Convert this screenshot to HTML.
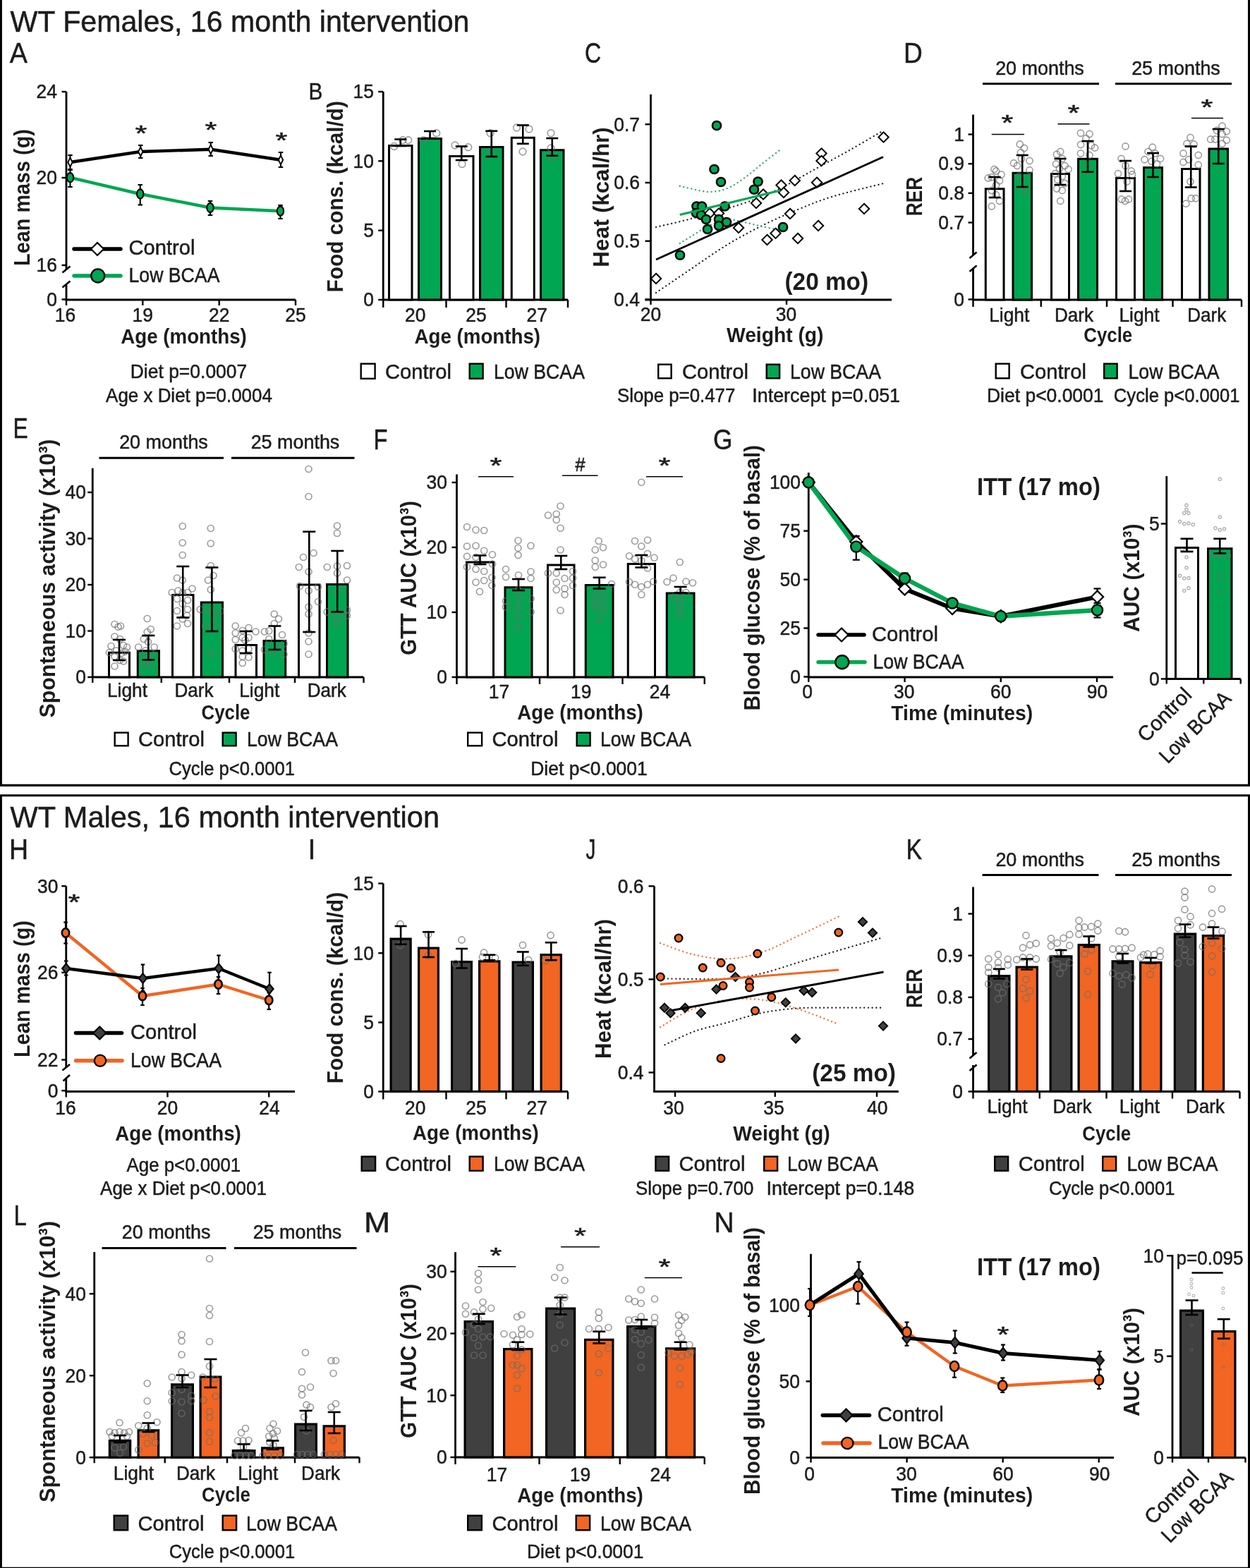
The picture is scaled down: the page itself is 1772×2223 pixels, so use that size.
<!DOCTYPE html>
<html><head><meta charset="utf-8"><title>WT Females and Males, 16 month intervention</title>
<style>
html,body{margin:0;padding:0;background:#fff;}
svg{display:block;}
text{font-family:"Liberation Sans",Arial,sans-serif;}
</style></head>
<body>
<svg width="1772" height="2223" viewBox="0 0 1772 2223">
<rect x="0" y="0" width="1772" height="2223" fill="#fff"/>
<line x1="1.45" y1="0" x2="1.45" y2="1115" stroke="#000" stroke-width="2.9" stroke-linecap="butt"/>
<line x1="1770.5" y1="0" x2="1770.5" y2="1115" stroke="#000" stroke-width="3" stroke-linecap="butt"/>
<line x1="0" y1="1113.4" x2="1772" y2="1113.4" stroke="#000" stroke-width="3.1" stroke-linecap="butt"/>
<line x1="0" y1="1127.8" x2="1772" y2="1127.8" stroke="#000" stroke-width="3.1" stroke-linecap="butt"/>
<line x1="1.45" y1="1127" x2="1.45" y2="2223" stroke="#000" stroke-width="2.9" stroke-linecap="butt"/>
<line x1="1770.5" y1="1127" x2="1770.5" y2="2223" stroke="#000" stroke-width="3" stroke-linecap="butt"/>
<line x1="0" y1="2223.2" x2="1772" y2="2223.2" stroke="#000" stroke-width="3" stroke-linecap="butt"/>
<text x="14.5" y="44.5" font-size="42.54" stroke="#1c1c1c" stroke-width="0.5" text-anchor="start" textLength="651" lengthAdjust="spacingAndGlyphs" fill="#1c1c1c">WT Females, 16 month intervention</text>
<text x="14.5" y="1172.5" font-size="42.54" stroke="#1c1c1c" stroke-width="0.5" text-anchor="start" textLength="608.5" lengthAdjust="spacingAndGlyphs" fill="#1c1c1c">WT Males, 16 month intervention</text>
<text x="13.8" y="88.5" font-size="40.59" stroke="#1c1c1c" stroke-width="0.5" text-anchor="start" textLength="25.17" lengthAdjust="spacingAndGlyphs" fill="#1c1c1c">A</text>
<text x="829" y="88.8" font-size="40.59" stroke="#1c1c1c" stroke-width="0.5" text-anchor="start" textLength="23.19" lengthAdjust="spacingAndGlyphs" fill="#1c1c1c">C</text>
<text x="1281" y="88.7" font-size="40.59" stroke="#1c1c1c" stroke-width="0.5" text-anchor="start" textLength="26.76" lengthAdjust="spacingAndGlyphs" fill="#1c1c1c">D</text>
<text x="18.5" y="620.8" font-size="40.59" stroke="#1c1c1c" stroke-width="0.5" text-anchor="start" textLength="21.24" lengthAdjust="spacingAndGlyphs" fill="#1c1c1c">E</text>
<text x="529.5" y="636.8" font-size="40.59" stroke="#1c1c1c" stroke-width="0.5" text-anchor="start" textLength="19.99" lengthAdjust="spacingAndGlyphs" fill="#1c1c1c">F</text>
<text x="1011" y="636.8" font-size="40.59" stroke="#1c1c1c" stroke-width="0.5" text-anchor="start" textLength="27.44" lengthAdjust="spacingAndGlyphs" fill="#1c1c1c">G</text>
<text x="13" y="1218.2" font-size="40.59" stroke="#1c1c1c" stroke-width="0.5" text-anchor="start" textLength="27.1" lengthAdjust="spacingAndGlyphs" fill="#1c1c1c">H</text>
<text x="436.5" y="1218.2" font-size="40.59" stroke="#1c1c1c" stroke-width="0.5" text-anchor="start" textLength="10.96" lengthAdjust="spacingAndGlyphs" fill="#1c1c1c">I</text>
<text x="830.5" y="1218.2" font-size="40.59" stroke="#1c1c1c" stroke-width="0.5" text-anchor="start" textLength="13.87" lengthAdjust="spacingAndGlyphs" fill="#1c1c1c">J</text>
<text x="1284.5" y="1218.2" font-size="40.59" stroke="#1c1c1c" stroke-width="0.5" text-anchor="start" textLength="22.6" lengthAdjust="spacingAndGlyphs" fill="#1c1c1c">K</text>
<text x="19.5" y="1736.8" font-size="40.59" stroke="#1c1c1c" stroke-width="0.5" text-anchor="start" textLength="18.29" lengthAdjust="spacingAndGlyphs" fill="#1c1c1c">L</text>
<text x="516" y="1746.8" font-size="40.59" stroke="#1c1c1c" stroke-width="0.5" text-anchor="start" textLength="37.19" lengthAdjust="spacingAndGlyphs" fill="#1c1c1c">M</text>
<text x="1012.5" y="1746.8" font-size="40.59" stroke="#1c1c1c" stroke-width="0.5" text-anchor="start" textLength="28.08" lengthAdjust="spacingAndGlyphs" fill="#1c1c1c">N</text>
<text x="437.5" y="141" font-size="34.05" stroke="#1c1c1c" stroke-width="0.5" text-anchor="start" textLength="19.86" lengthAdjust="spacingAndGlyphs" fill="#1c1c1c">B</text>
<line x1="94" y1="130" x2="94" y2="382" stroke="#000" stroke-width="2.8" stroke-linecap="butt"/>
<line x1="94" y1="404" x2="94" y2="425" stroke="#000" stroke-width="2.8" stroke-linecap="butt"/>
<line x1="87.5" y1="130" x2="94" y2="130" stroke="#000" stroke-width="2.4" stroke-linecap="butt"/>
<text x="81" y="139.3" font-size="27.06" stroke="#1c1c1c" stroke-width="0.5" text-anchor="end" textLength="29.4" lengthAdjust="spacingAndGlyphs" fill="#1c1c1c">24</text>
<line x1="87.5" y1="252" x2="94" y2="252" stroke="#000" stroke-width="2.4" stroke-linecap="butt"/>
<text x="81" y="261.3" font-size="27.06" stroke="#1c1c1c" stroke-width="0.5" text-anchor="end" textLength="29.4" lengthAdjust="spacingAndGlyphs" fill="#1c1c1c">20</text>
<line x1="87.5" y1="376" x2="94" y2="376" stroke="#000" stroke-width="2.4" stroke-linecap="butt"/>
<text x="81" y="385.3" font-size="27.06" stroke="#1c1c1c" stroke-width="0.5" text-anchor="end" textLength="29.4" lengthAdjust="spacingAndGlyphs" fill="#1c1c1c">16</text>
<line x1="87.5" y1="424.5" x2="94" y2="424.5" stroke="#000" stroke-width="2.4" stroke-linecap="butt"/>
<text x="81" y="433.8" font-size="27.06" stroke="#1c1c1c" stroke-width="0.5" text-anchor="end" textLength="14.7" lengthAdjust="spacingAndGlyphs" fill="#1c1c1c">0</text>
<line x1="88.5" y1="386.5" x2="99.5" y2="377.5" stroke="#000" stroke-width="2.6" stroke-linecap="butt"/>
<line x1="88.5" y1="407.5" x2="99.5" y2="398.5" stroke="#000" stroke-width="2.6" stroke-linecap="butt"/>
<line x1="92.6" y1="425" x2="419" y2="425" stroke="#000" stroke-width="2.8" stroke-linecap="butt"/>
<line x1="94" y1="425" x2="94" y2="433" stroke="#000" stroke-width="2.4" stroke-linecap="butt"/>
<line x1="202.3" y1="425" x2="202.3" y2="433" stroke="#000" stroke-width="2.4" stroke-linecap="butt"/>
<line x1="310.7" y1="425" x2="310.7" y2="433" stroke="#000" stroke-width="2.4" stroke-linecap="butt"/>
<line x1="419" y1="425" x2="419" y2="433" stroke="#000" stroke-width="2.4" stroke-linecap="butt"/>
<text x="92.5" y="455.8" font-size="27.06" stroke="#1c1c1c" stroke-width="0.5" text-anchor="middle" textLength="29.4" lengthAdjust="spacingAndGlyphs" fill="#1c1c1c">16</text>
<text x="202.3" y="455.8" font-size="27.06" stroke="#1c1c1c" stroke-width="0.5" text-anchor="middle" textLength="29.4" lengthAdjust="spacingAndGlyphs" fill="#1c1c1c">19</text>
<text x="310.7" y="455.8" font-size="27.06" stroke="#1c1c1c" stroke-width="0.5" text-anchor="middle" textLength="29.4" lengthAdjust="spacingAndGlyphs" fill="#1c1c1c">22</text>
<text x="419" y="455.8" font-size="27.06" stroke="#1c1c1c" stroke-width="0.5" text-anchor="middle" textLength="29.4" lengthAdjust="spacingAndGlyphs" fill="#1c1c1c">25</text>
<text x="260.5" y="486.5" font-size="29.86" font-weight="bold" text-anchor="middle" textLength="178.65" lengthAdjust="spacingAndGlyphs" fill="#1c1c1c">Age (months)</text>
<text x="267.5" y="536.2" font-size="27.06" stroke="#1c1c1c" stroke-width="0.5" text-anchor="middle" textLength="165.54" lengthAdjust="spacingAndGlyphs" fill="#1c1c1c">Diet p=0.0007</text>
<text x="268" y="570" font-size="27.06" stroke="#1c1c1c" stroke-width="0.5" text-anchor="middle" textLength="235.83" lengthAdjust="spacingAndGlyphs" fill="#1c1c1c">Age x Diet p=0.0004</text>
<text transform="translate(41.5,280) rotate(-90)" x="0" y="0" font-size="32.19" font-weight="bold" text-anchor="middle" textLength="193.75" lengthAdjust="spacingAndGlyphs" fill="#1c1c1c">Lean mass (g)</text>
<line x1="99.5" y1="220" x2="99.5" y2="241" stroke="#000" stroke-width="2.1" stroke-linecap="butt"/>
<line x1="96.25" y1="220" x2="102.75" y2="220" stroke="#000" stroke-width="2.1" stroke-linecap="butt"/>
<line x1="96.25" y1="241" x2="102.75" y2="241" stroke="#000" stroke-width="2.1" stroke-linecap="butt"/>
<line x1="199.25" y1="206" x2="199.25" y2="224" stroke="#000" stroke-width="2.1" stroke-linecap="butt"/>
<line x1="196" y1="206" x2="202.5" y2="206" stroke="#000" stroke-width="2.1" stroke-linecap="butt"/>
<line x1="196" y1="224" x2="202.5" y2="224" stroke="#000" stroke-width="2.1" stroke-linecap="butt"/>
<line x1="298.75" y1="202" x2="298.75" y2="221" stroke="#000" stroke-width="2.1" stroke-linecap="butt"/>
<line x1="295.5" y1="202" x2="302" y2="202" stroke="#000" stroke-width="2.1" stroke-linecap="butt"/>
<line x1="295.5" y1="221" x2="302" y2="221" stroke="#000" stroke-width="2.1" stroke-linecap="butt"/>
<line x1="398" y1="216" x2="398" y2="237" stroke="#000" stroke-width="2.1" stroke-linecap="butt"/>
<line x1="394.75" y1="216" x2="401.25" y2="216" stroke="#000" stroke-width="2.1" stroke-linecap="butt"/>
<line x1="394.75" y1="237" x2="401.25" y2="237" stroke="#000" stroke-width="2.1" stroke-linecap="butt"/>
<line x1="99.5" y1="240" x2="99.5" y2="265" stroke="#000" stroke-width="2.1" stroke-linecap="butt"/>
<line x1="96.25" y1="240" x2="102.75" y2="240" stroke="#000" stroke-width="2.1" stroke-linecap="butt"/>
<line x1="96.25" y1="265" x2="102.75" y2="265" stroke="#000" stroke-width="2.1" stroke-linecap="butt"/>
<line x1="198.75" y1="262" x2="198.75" y2="290.5" stroke="#000" stroke-width="2.1" stroke-linecap="butt"/>
<line x1="195.5" y1="262" x2="202" y2="262" stroke="#000" stroke-width="2.1" stroke-linecap="butt"/>
<line x1="195.5" y1="290.5" x2="202" y2="290.5" stroke="#000" stroke-width="2.1" stroke-linecap="butt"/>
<line x1="298" y1="285" x2="298" y2="305" stroke="#000" stroke-width="2.1" stroke-linecap="butt"/>
<line x1="294.75" y1="285" x2="301.25" y2="285" stroke="#000" stroke-width="2.1" stroke-linecap="butt"/>
<line x1="294.75" y1="305" x2="301.25" y2="305" stroke="#000" stroke-width="2.1" stroke-linecap="butt"/>
<line x1="397.5" y1="291" x2="397.5" y2="310" stroke="#000" stroke-width="2.1" stroke-linecap="butt"/>
<line x1="394.25" y1="291" x2="400.75" y2="291" stroke="#000" stroke-width="2.1" stroke-linecap="butt"/>
<line x1="394.25" y1="310" x2="400.75" y2="310" stroke="#000" stroke-width="2.1" stroke-linecap="butt"/>
<path d="M99.5,251.75 L198.75,275 L298,294.5 L397.5,299.25" fill="none" stroke="#00a651" stroke-width="4.4" stroke-linecap="butt" stroke-linejoin="round"/>
<path d="M99.5,230 L199.25,215 L298.75,211.75 L398,226.75" fill="none" stroke="#000" stroke-width="4.4" stroke-linecap="butt" stroke-linejoin="round"/>
<path d="M99.5,223.6 L102.7,230 L99.5,236.4 L96.3,230 Z" fill="#fff" stroke="#000" stroke-width="1.9" stroke-linejoin="miter"/>
<path d="M199.25,208.6 L202.45,215 L199.25,221.4 L196.05,215 Z" fill="#fff" stroke="#000" stroke-width="1.9" stroke-linejoin="miter"/>
<path d="M298.75,205.35 L301.95,211.75 L298.75,218.15 L295.55,211.75 Z" fill="#fff" stroke="#000" stroke-width="1.9" stroke-linejoin="miter"/>
<path d="M398,220.35 L401.2,226.75 L398,233.15 L394.8,226.75 Z" fill="#fff" stroke="#000" stroke-width="1.9" stroke-linejoin="miter"/>
<ellipse cx="99.5" cy="251.75" rx="4.7" ry="6.6" fill="#00a651" stroke="#000" stroke-width="2.1"/>
<ellipse cx="198.75" cy="275" rx="4.7" ry="6.6" fill="#00a651" stroke="#000" stroke-width="2.1"/>
<ellipse cx="298" cy="294.5" rx="4.7" ry="6.6" fill="#00a651" stroke="#000" stroke-width="2.1"/>
<ellipse cx="397.5" cy="299.25" rx="4.7" ry="6.6" fill="#00a651" stroke="#000" stroke-width="2.1"/>
<text x="200" y="200.26" font-size="31.72" stroke="#1c1c1c" stroke-width="0.5" text-anchor="middle" textLength="16.93" lengthAdjust="spacingAndGlyphs" fill="#1c1c1c">*</text>
<text x="299" y="195.26" font-size="31.72" stroke="#1c1c1c" stroke-width="0.5" text-anchor="middle" textLength="16.93" lengthAdjust="spacingAndGlyphs" fill="#1c1c1c">*</text>
<text x="399" y="209.76" font-size="31.72" stroke="#1c1c1c" stroke-width="0.5" text-anchor="middle" textLength="16.93" lengthAdjust="spacingAndGlyphs" fill="#1c1c1c">*</text>
<line x1="105" y1="353" x2="171" y2="353" stroke="#000" stroke-width="5.5" stroke-linecap="round"/>
<path d="M138,344 L147,353 L138,362 L129,353 Z" fill="#fff" stroke="#000" stroke-width="2.2" stroke-linejoin="miter"/>
<text x="182.5" y="361.3" font-size="29.2" stroke="#1c1c1c" stroke-width="0.5" text-anchor="start" textLength="93.93" lengthAdjust="spacingAndGlyphs" fill="#1c1c1c">Control</text>
<line x1="105" y1="391" x2="171" y2="391" stroke="#00a651" stroke-width="5.5" stroke-linecap="round"/>
<circle cx="138.75" cy="391" r="9.5" fill="#00a651" stroke="#000" stroke-width="2.3"/>
<text x="182.5" y="400" font-size="29.2" stroke="#1c1c1c" stroke-width="0.5" text-anchor="start" textLength="128.93" lengthAdjust="spacingAndGlyphs" fill="#1c1c1c">Low BCAA</text>
<line x1="543.25" y1="130" x2="543.25" y2="425" stroke="#000" stroke-width="2.8" stroke-linecap="butt"/>
<line x1="536.25" y1="130" x2="543.25" y2="130" stroke="#000" stroke-width="2.4" stroke-linecap="butt"/>
<text x="530" y="139.3" font-size="27.06" stroke="#1c1c1c" stroke-width="0.5" text-anchor="end" textLength="29.4" lengthAdjust="spacingAndGlyphs" fill="#1c1c1c">15</text>
<line x1="536.25" y1="228.3" x2="543.25" y2="228.3" stroke="#000" stroke-width="2.4" stroke-linecap="butt"/>
<text x="530" y="237.6" font-size="27.06" stroke="#1c1c1c" stroke-width="0.5" text-anchor="end" textLength="29.4" lengthAdjust="spacingAndGlyphs" fill="#1c1c1c">10</text>
<line x1="536.25" y1="326.7" x2="543.25" y2="326.7" stroke="#000" stroke-width="2.4" stroke-linecap="butt"/>
<text x="530" y="336" font-size="27.06" stroke="#1c1c1c" stroke-width="0.5" text-anchor="end" textLength="14.7" lengthAdjust="spacingAndGlyphs" fill="#1c1c1c">5</text>
<line x1="536.25" y1="425" x2="543.25" y2="425" stroke="#000" stroke-width="2.4" stroke-linecap="butt"/>
<text x="530" y="434.3" font-size="27.06" stroke="#1c1c1c" stroke-width="0.5" text-anchor="end" textLength="14.7" lengthAdjust="spacingAndGlyphs" fill="#1c1c1c">0</text>
<line x1="541.85" y1="425" x2="805" y2="425" stroke="#000" stroke-width="2.8" stroke-linecap="butt"/>
<line x1="543.25" y1="425" x2="543.25" y2="436" stroke="#000" stroke-width="2.4" stroke-linecap="butt"/>
<line x1="632.5" y1="425" x2="632.5" y2="436" stroke="#000" stroke-width="2.4" stroke-linecap="butt"/>
<line x1="717.5" y1="425" x2="717.5" y2="436" stroke="#000" stroke-width="2.4" stroke-linecap="butt"/>
<line x1="805" y1="425" x2="805" y2="436" stroke="#000" stroke-width="2.4" stroke-linecap="butt"/>
<text x="588.75" y="455.8" font-size="27.06" stroke="#1c1c1c" stroke-width="0.5" text-anchor="middle" textLength="29.4" lengthAdjust="spacingAndGlyphs" fill="#1c1c1c">20</text>
<text x="675" y="455.8" font-size="27.06" stroke="#1c1c1c" stroke-width="0.5" text-anchor="middle" textLength="29.4" lengthAdjust="spacingAndGlyphs" fill="#1c1c1c">25</text>
<text x="761.25" y="455.8" font-size="27.06" stroke="#1c1c1c" stroke-width="0.5" text-anchor="middle" textLength="29.4" lengthAdjust="spacingAndGlyphs" fill="#1c1c1c">27</text>
<text x="676.75" y="486.8" font-size="29.86" font-weight="bold" text-anchor="middle" textLength="178.65" lengthAdjust="spacingAndGlyphs" fill="#1c1c1c">Age (months)</text>
<text transform="translate(486,278.75) rotate(-90)" x="0" y="0" font-size="32.19" font-weight="bold" text-anchor="middle" textLength="271.31" lengthAdjust="spacingAndGlyphs" fill="#1c1c1c">Food cons. (kcal/d)</text>
<rect x="551.5" y="206.5" width="32.5" height="218.5" fill="#fff" stroke="#000" stroke-width="3"/>
<circle cx="558.75" cy="207.5" r="4.8" fill="none" stroke="#6e6e6e" stroke-width="1.7" stroke-opacity="0.68"/>
<circle cx="571" cy="198.75" r="4.8" fill="none" stroke="#6e6e6e" stroke-width="1.7" stroke-opacity="0.68"/>
<circle cx="578.75" cy="198.75" r="4.8" fill="none" stroke="#6e6e6e" stroke-width="1.7" stroke-opacity="0.68"/>
<line x1="567.75" y1="197.5" x2="567.75" y2="207" stroke="#000" stroke-width="2.6" stroke-linecap="butt"/>
<line x1="559.25" y1="197.5" x2="576.25" y2="197.5" stroke="#000" stroke-width="2.6" stroke-linecap="butt"/>
<line x1="559.25" y1="207" x2="576.25" y2="207" stroke="#000" stroke-width="2.6" stroke-linecap="butt"/>
<rect x="593.5" y="196.5" width="32" height="228.5" fill="#00a651" stroke="#000" stroke-width="3"/>
<circle cx="600" cy="198.75" r="4.8" fill="none" stroke="#6e6e6e" stroke-width="1.7" stroke-opacity="0.68"/>
<circle cx="618.75" cy="188.75" r="4.8" fill="none" stroke="#6e6e6e" stroke-width="1.7" stroke-opacity="0.68"/>
<line x1="609.5" y1="186" x2="609.5" y2="196" stroke="#000" stroke-width="2.6" stroke-linecap="butt"/>
<line x1="601" y1="186" x2="618" y2="186" stroke="#000" stroke-width="2.6" stroke-linecap="butt"/>
<line x1="601" y1="196" x2="618" y2="196" stroke="#000" stroke-width="2.6" stroke-linecap="butt"/>
<rect x="637.5" y="221.5" width="33.5" height="203.5" fill="#fff" stroke="#000" stroke-width="3"/>
<circle cx="645" cy="206" r="4.8" fill="none" stroke="#6e6e6e" stroke-width="1.7" stroke-opacity="0.68"/>
<circle cx="663.75" cy="208.75" r="4.8" fill="none" stroke="#6e6e6e" stroke-width="1.7" stroke-opacity="0.68"/>
<circle cx="655" cy="232.5" r="4.8" fill="none" stroke="#6e6e6e" stroke-width="1.7" stroke-opacity="0.68"/>
<line x1="654.25" y1="207.5" x2="654.25" y2="227" stroke="#000" stroke-width="2.6" stroke-linecap="butt"/>
<line x1="645.75" y1="207.5" x2="662.75" y2="207.5" stroke="#000" stroke-width="2.6" stroke-linecap="butt"/>
<line x1="645.75" y1="227" x2="662.75" y2="227" stroke="#000" stroke-width="2.6" stroke-linecap="butt"/>
<rect x="680.5" y="208.5" width="32.5" height="216.5" fill="#00a651" stroke="#000" stroke-width="3"/>
<circle cx="695" cy="188.75" r="4.8" fill="none" stroke="#6e6e6e" stroke-width="1.7" stroke-opacity="0.68"/>
<circle cx="695" cy="217.5" r="4.8" fill="none" stroke="#6e6e6e" stroke-width="1.7" stroke-opacity="0.68"/>
<line x1="696.75" y1="185.75" x2="696.75" y2="222" stroke="#000" stroke-width="2.6" stroke-linecap="butt"/>
<line x1="688.25" y1="185.75" x2="705.25" y2="185.75" stroke="#000" stroke-width="2.6" stroke-linecap="butt"/>
<line x1="688.25" y1="222" x2="705.25" y2="222" stroke="#000" stroke-width="2.6" stroke-linecap="butt"/>
<rect x="725.25" y="195.25" width="32" height="229.75" fill="#fff" stroke="#000" stroke-width="3"/>
<circle cx="732.5" cy="181" r="4.8" fill="none" stroke="#6e6e6e" stroke-width="1.7" stroke-opacity="0.68"/>
<circle cx="750" cy="183" r="4.8" fill="none" stroke="#6e6e6e" stroke-width="1.7" stroke-opacity="0.68"/>
<circle cx="741" cy="215" r="4.8" fill="none" stroke="#6e6e6e" stroke-width="1.7" stroke-opacity="0.68"/>
<line x1="741.25" y1="177.5" x2="741.25" y2="203.75" stroke="#000" stroke-width="2.6" stroke-linecap="butt"/>
<line x1="732.75" y1="177.5" x2="749.75" y2="177.5" stroke="#000" stroke-width="2.6" stroke-linecap="butt"/>
<line x1="732.75" y1="203.75" x2="749.75" y2="203.75" stroke="#000" stroke-width="2.6" stroke-linecap="butt"/>
<rect x="766.5" y="212.75" width="32.5" height="212.25" fill="#00a651" stroke="#000" stroke-width="3"/>
<circle cx="781" cy="188.75" r="4.8" fill="none" stroke="#6e6e6e" stroke-width="1.7" stroke-opacity="0.68"/>
<circle cx="781" cy="210" r="4.8" fill="none" stroke="#6e6e6e" stroke-width="1.7" stroke-opacity="0.68"/>
<circle cx="781" cy="223.75" r="4.8" fill="none" stroke="#6e6e6e" stroke-width="1.7" stroke-opacity="0.68"/>
<line x1="782.75" y1="196" x2="782.75" y2="220.75" stroke="#000" stroke-width="2.6" stroke-linecap="butt"/>
<line x1="774.25" y1="196" x2="791.25" y2="196" stroke="#000" stroke-width="2.6" stroke-linecap="butt"/>
<line x1="774.25" y1="220.75" x2="791.25" y2="220.75" stroke="#000" stroke-width="2.6" stroke-linecap="butt"/>
<rect x="511.7" y="515.7" width="19.9" height="21.1" fill="#fff" stroke="#000" stroke-width="2.4"/>
<text x="546" y="536.5" font-size="29.2" stroke="#1c1c1c" stroke-width="0.5" text-anchor="start" textLength="93.93" lengthAdjust="spacingAndGlyphs" fill="#1c1c1c">Control</text>
<rect x="665.7" y="515.7" width="18.9" height="21.1" fill="#00a651" stroke="#000" stroke-width="2.4"/>
<text x="700" y="536.5" font-size="29.2" stroke="#1c1c1c" stroke-width="0.5" text-anchor="start" textLength="128.93" lengthAdjust="spacingAndGlyphs" fill="#1c1c1c">Low BCAA</text>
<line x1="922.5" y1="133.75" x2="922.5" y2="425" stroke="#000" stroke-width="2.8" stroke-linecap="butt"/>
<line x1="914.5" y1="176.25" x2="922.5" y2="176.25" stroke="#000" stroke-width="2.4" stroke-linecap="butt"/>
<text x="907" y="185.55" font-size="27.06" stroke="#1c1c1c" stroke-width="0.5" text-anchor="end" textLength="36.72" lengthAdjust="spacingAndGlyphs" fill="#1c1c1c">0.7</text>
<line x1="914.5" y1="259" x2="922.5" y2="259" stroke="#000" stroke-width="2.4" stroke-linecap="butt"/>
<text x="907" y="268.3" font-size="27.06" stroke="#1c1c1c" stroke-width="0.5" text-anchor="end" textLength="36.72" lengthAdjust="spacingAndGlyphs" fill="#1c1c1c">0.6</text>
<line x1="914.5" y1="341.75" x2="922.5" y2="341.75" stroke="#000" stroke-width="2.4" stroke-linecap="butt"/>
<text x="907" y="351.05" font-size="27.06" stroke="#1c1c1c" stroke-width="0.5" text-anchor="end" textLength="36.72" lengthAdjust="spacingAndGlyphs" fill="#1c1c1c">0.5</text>
<line x1="914.5" y1="424.5" x2="922.5" y2="424.5" stroke="#000" stroke-width="2.4" stroke-linecap="butt"/>
<text x="907" y="433.8" font-size="27.06" stroke="#1c1c1c" stroke-width="0.5" text-anchor="end" textLength="36.72" lengthAdjust="spacingAndGlyphs" fill="#1c1c1c">0.4</text>
<line x1="914.5" y1="425" x2="1264" y2="425" stroke="#000" stroke-width="2.8" stroke-linecap="butt"/>
<line x1="922.5" y1="425" x2="922.5" y2="432" stroke="#000" stroke-width="2.4" stroke-linecap="butt"/>
<line x1="1115" y1="425" x2="1115" y2="432" stroke="#000" stroke-width="2.4" stroke-linecap="butt"/>
<text x="922.5" y="454.55" font-size="27.06" stroke="#1c1c1c" stroke-width="0.5" text-anchor="middle" textLength="29.4" lengthAdjust="spacingAndGlyphs" fill="#1c1c1c">20</text>
<text x="1114.5" y="454.55" font-size="27.06" stroke="#1c1c1c" stroke-width="0.5" text-anchor="middle" textLength="29.4" lengthAdjust="spacingAndGlyphs" fill="#1c1c1c">30</text>
<text x="1098.75" y="485" font-size="29.86" font-weight="bold" text-anchor="middle" textLength="137.48" lengthAdjust="spacingAndGlyphs" fill="#1c1c1c">Weight (g)</text>
<text transform="translate(862.5,279.5) rotate(-90)" x="0" y="0" font-size="32.19" font-weight="bold" text-anchor="middle" textLength="198.25" lengthAdjust="spacingAndGlyphs" fill="#1c1c1c">Heat (kcal/hr)</text>
<text x="1112.5" y="411.25" font-size="34.52" font-weight="bold" text-anchor="start" textLength="118.5" lengthAdjust="spacingAndGlyphs" fill="#1c1c1c">(20 mo)</text>
<path d="M930,322 C938.33,320 959.17,315.67 980,310 C1000.83,304.33 1034.17,295.08 1055,288 C1075.83,280.92 1088.33,275.5 1105,267.5 C1121.67,259.5 1138.33,249.17 1155,240 C1171.67,230.83 1188.75,221.67 1205,212.5 C1221.25,203.33 1244.58,189.58 1252.5,185" fill="none" stroke="#222" stroke-width="2.3" stroke-linecap="round" stroke-linejoin="round" stroke-dasharray="0.1 5.6"/>
<path d="M930,415 C938.33,409.33 963.33,392.25 980,381 C996.67,369.75 1013.33,357.67 1030,347.5 C1046.67,337.33 1063.33,328.33 1080,320 C1096.67,311.67 1113.33,304.38 1130,297.5 C1146.67,290.62 1159.58,285 1180,278.75 C1200.42,272.5 1240.42,263.12 1252.5,260" fill="none" stroke="#222" stroke-width="2.3" stroke-linecap="round" stroke-linejoin="round" stroke-dasharray="0.1 5.6"/>
<path d="M963.75,263.75 C966.46,264.38 973.12,266.12 980,267.5 C986.88,268.88 996.67,272 1005,272 C1013.33,272 1021.67,270.75 1030,267.5 C1038.33,264.25 1046.67,258.33 1055,252.5 C1063.33,246.67 1071.25,239.38 1080,232.5 C1088.75,225.62 1102.92,214.79 1107.5,211.25" fill="none" stroke="#3fae72" stroke-width="2.4" stroke-linecap="round" stroke-linejoin="round" stroke-dasharray="0.1 5.6"/>
<path d="M963.75,345 C966.46,343.33 973.12,339.17 980,335 C986.88,330.83 996.67,324 1005,320 C1013.33,316 1021.67,311.83 1030,311 C1038.33,310.17 1046.67,313.33 1055,315 C1063.33,316.67 1071.67,319.17 1080,321 C1088.33,322.83 1100.83,325.17 1105,326" fill="none" stroke="#3fae72" stroke-width="2.4" stroke-linecap="round" stroke-linejoin="round" stroke-dasharray="0.1 5.6"/>
<path d="M930,387.8 L937.2,395 L930,402.2 L922.8,395 Z" fill="#fff" stroke="#000" stroke-width="2" stroke-linejoin="miter"/>
<path d="M1006,295.3 L1013.2,302.5 L1006,309.7 L998.8,302.5 Z" fill="#fff" stroke="#000" stroke-width="2" stroke-linejoin="miter"/>
<path d="M1019,295.3 L1026.2,302.5 L1019,309.7 L1011.8,302.5 Z" fill="#fff" stroke="#000" stroke-width="2" stroke-linejoin="miter"/>
<path d="M1047,315.8 L1054.2,323 L1047,330.2 L1039.8,323 Z" fill="#fff" stroke="#000" stroke-width="2" stroke-linejoin="miter"/>
<path d="M1072,280.8 L1079.2,288 L1072,295.2 L1064.8,288 Z" fill="#fff" stroke="#000" stroke-width="2" stroke-linejoin="miter"/>
<path d="M1082,268.3 L1089.2,275.5 L1082,282.7 L1074.8,275.5 Z" fill="#fff" stroke="#000" stroke-width="2" stroke-linejoin="miter"/>
<path d="M1087.5,332.8 L1094.7,340 L1087.5,347.2 L1080.3,340 Z" fill="#fff" stroke="#000" stroke-width="2" stroke-linejoin="miter"/>
<path d="M1099.5,323.55 L1106.7,330.75 L1099.5,337.95 L1092.3,330.75 Z" fill="#fff" stroke="#000" stroke-width="2" stroke-linejoin="miter"/>
<path d="M1107.5,255.3 L1114.7,262.5 L1107.5,269.7 L1100.3,262.5 Z" fill="#fff" stroke="#000" stroke-width="2" stroke-linejoin="miter"/>
<path d="M1111,265.8 L1118.2,273 L1111,280.2 L1103.8,273 Z" fill="#fff" stroke="#000" stroke-width="2" stroke-linejoin="miter"/>
<path d="M1120,295.8 L1127.2,303 L1120,310.2 L1112.8,303 Z" fill="#fff" stroke="#000" stroke-width="2" stroke-linejoin="miter"/>
<path d="M1126.75,248.8 L1133.95,256 L1126.75,263.2 L1119.55,256 Z" fill="#fff" stroke="#000" stroke-width="2" stroke-linejoin="miter"/>
<path d="M1131,330.8 L1138.2,338 L1131,345.2 L1123.8,338 Z" fill="#fff" stroke="#000" stroke-width="2" stroke-linejoin="miter"/>
<path d="M1158,251.55 L1165.2,258.75 L1158,265.95 L1150.8,258.75 Z" fill="#fff" stroke="#000" stroke-width="2" stroke-linejoin="miter"/>
<path d="M1160,312.8 L1167.2,320 L1160,327.2 L1152.8,320 Z" fill="#fff" stroke="#000" stroke-width="2" stroke-linejoin="miter"/>
<path d="M1164.5,210.3 L1171.7,217.5 L1164.5,224.7 L1157.3,217.5 Z" fill="#fff" stroke="#000" stroke-width="2" stroke-linejoin="miter"/>
<path d="M1164.5,220.8 L1171.7,228 L1164.5,235.2 L1157.3,228 Z" fill="#fff" stroke="#000" stroke-width="2" stroke-linejoin="miter"/>
<path d="M1225,288.8 L1232.2,296 L1225,303.2 L1217.8,296 Z" fill="#fff" stroke="#000" stroke-width="2" stroke-linejoin="miter"/>
<path d="M1252.5,187.3 L1259.7,194.5 L1252.5,201.7 L1245.3,194.5 Z" fill="#fff" stroke="#000" stroke-width="2" stroke-linejoin="miter"/>
<line x1="930" y1="368" x2="1252" y2="222.5" stroke="#000" stroke-width="2.8" stroke-linecap="butt"/>
<circle cx="1016" cy="178" r="6.1" fill="#00a651" stroke="#000" stroke-width="2.5"/>
<circle cx="1012.5" cy="240" r="6.1" fill="#00a651" stroke="#000" stroke-width="2.5"/>
<circle cx="1022" cy="258" r="6.1" fill="#00a651" stroke="#000" stroke-width="2.5"/>
<circle cx="1074.5" cy="257.5" r="6.1" fill="#00a651" stroke="#000" stroke-width="2.5"/>
<circle cx="1069" cy="268.75" r="6.1" fill="#00a651" stroke="#000" stroke-width="2.5"/>
<circle cx="987.5" cy="292.5" r="6.1" fill="#00a651" stroke="#000" stroke-width="2.5"/>
<circle cx="995" cy="292.5" r="6.1" fill="#00a651" stroke="#000" stroke-width="2.5"/>
<circle cx="987" cy="302" r="6.1" fill="#00a651" stroke="#000" stroke-width="2.5"/>
<circle cx="994" cy="305" r="6.1" fill="#00a651" stroke="#000" stroke-width="2.5"/>
<circle cx="1001" cy="311" r="6.1" fill="#00a651" stroke="#000" stroke-width="2.5"/>
<circle cx="1027.5" cy="292.5" r="6.1" fill="#00a651" stroke="#000" stroke-width="2.5"/>
<circle cx="1019" cy="311" r="6.1" fill="#00a651" stroke="#000" stroke-width="2.5"/>
<circle cx="1030" cy="315" r="6.1" fill="#00a651" stroke="#000" stroke-width="2.5"/>
<circle cx="1019" cy="320" r="6.1" fill="#00a651" stroke="#000" stroke-width="2.5"/>
<circle cx="1003" cy="325" r="6.1" fill="#00a651" stroke="#000" stroke-width="2.5"/>
<circle cx="1110" cy="322" r="6.1" fill="#00a651" stroke="#000" stroke-width="2.5"/>
<circle cx="964" cy="361.75" r="6.1" fill="#00a651" stroke="#000" stroke-width="2.5"/>
<line x1="963.75" y1="304.5" x2="1106.25" y2="270" stroke="#00a651" stroke-width="3.2" stroke-linecap="butt"/>
<rect x="933.2" y="516.7" width="18.4" height="19.6" fill="#fff" stroke="#000" stroke-width="2.4"/>
<text x="967" y="536.5" font-size="29.2" stroke="#1c1c1c" stroke-width="0.5" text-anchor="start" textLength="93.93" lengthAdjust="spacingAndGlyphs" fill="#1c1c1c">Control</text>
<rect x="1086.7" y="516.7" width="18.4" height="19.6" fill="#00a651" stroke="#000" stroke-width="2.4"/>
<text x="1120" y="536.5" font-size="29.2" stroke="#1c1c1c" stroke-width="0.5" text-anchor="start" textLength="128.93" lengthAdjust="spacingAndGlyphs" fill="#1c1c1c">Low BCAA</text>
<text x="875" y="569.5" font-size="27.06" stroke="#1c1c1c" stroke-width="0.5" text-anchor="start" textLength="167.29" lengthAdjust="spacingAndGlyphs" fill="#1c1c1c">Slope p=0.477</text>
<text x="1276" y="569.5" font-size="27.06" stroke="#1c1c1c" stroke-width="0.5" text-anchor="end" textLength="209.67" lengthAdjust="spacingAndGlyphs" fill="#1c1c1c">Intercept p=0.051</text>
<text x="1474" y="106" font-size="27.06" stroke="#1c1c1c" stroke-width="0.5" text-anchor="middle" textLength="125.67" lengthAdjust="spacingAndGlyphs" fill="#1c1c1c">20 months</text>
<line x1="1393" y1="118.75" x2="1558" y2="118.75" stroke="#000" stroke-width="3" stroke-linecap="butt"/>
<text x="1667" y="106" font-size="27.06" stroke="#1c1c1c" stroke-width="0.5" text-anchor="middle" textLength="125.67" lengthAdjust="spacingAndGlyphs" fill="#1c1c1c">25 months</text>
<line x1="1581" y1="118.75" x2="1746" y2="118.75" stroke="#000" stroke-width="3" stroke-linecap="butt"/>
<line x1="1379.5" y1="162.5" x2="1379.5" y2="362" stroke="#000" stroke-width="2.8" stroke-linecap="butt"/>
<line x1="1379.5" y1="380" x2="1379.5" y2="425" stroke="#000" stroke-width="2.8" stroke-linecap="butt"/>
<line x1="1374.5" y1="366" x2="1384.5" y2="357.5" stroke="#000" stroke-width="2.6" stroke-linecap="butt"/>
<line x1="1374.5" y1="385" x2="1384.5" y2="376.5" stroke="#000" stroke-width="2.6" stroke-linecap="butt"/>
<line x1="1372.5" y1="190.5" x2="1379.5" y2="190.5" stroke="#000" stroke-width="2.4" stroke-linecap="butt"/>
<text x="1367" y="199.8" font-size="27.06" stroke="#1c1c1c" stroke-width="0.5" text-anchor="end" textLength="14.7" lengthAdjust="spacingAndGlyphs" fill="#1c1c1c">1</text>
<line x1="1372.5" y1="232.17" x2="1379.5" y2="232.17" stroke="#000" stroke-width="2.4" stroke-linecap="butt"/>
<text x="1367" y="241.47" font-size="27.06" stroke="#1c1c1c" stroke-width="0.5" text-anchor="end" textLength="36.72" lengthAdjust="spacingAndGlyphs" fill="#1c1c1c">0.9</text>
<line x1="1372.5" y1="273.84" x2="1379.5" y2="273.84" stroke="#000" stroke-width="2.4" stroke-linecap="butt"/>
<text x="1367" y="283.14" font-size="27.06" stroke="#1c1c1c" stroke-width="0.5" text-anchor="end" textLength="36.72" lengthAdjust="spacingAndGlyphs" fill="#1c1c1c">0.8</text>
<line x1="1372.5" y1="315.51" x2="1379.5" y2="315.51" stroke="#000" stroke-width="2.4" stroke-linecap="butt"/>
<text x="1367" y="324.81" font-size="27.06" stroke="#1c1c1c" stroke-width="0.5" text-anchor="end" textLength="36.72" lengthAdjust="spacingAndGlyphs" fill="#1c1c1c">0.7</text>
<line x1="1372.5" y1="424.5" x2="1379.5" y2="424.5" stroke="#000" stroke-width="2.4" stroke-linecap="butt"/>
<text x="1367" y="433.8" font-size="27.06" stroke="#1c1c1c" stroke-width="0.5" text-anchor="end" textLength="14.7" lengthAdjust="spacingAndGlyphs" fill="#1c1c1c">0</text>
<line x1="1378.1" y1="425" x2="1760" y2="425" stroke="#000" stroke-width="2.8" stroke-linecap="butt"/>
<line x1="1379.5" y1="425" x2="1379.5" y2="435" stroke="#000" stroke-width="2.4" stroke-linecap="butt"/>
<line x1="1475.75" y1="425" x2="1475.75" y2="435" stroke="#000" stroke-width="2.4" stroke-linecap="butt"/>
<line x1="1569" y1="425" x2="1569" y2="435" stroke="#000" stroke-width="2.4" stroke-linecap="butt"/>
<line x1="1662.5" y1="425" x2="1662.5" y2="435" stroke="#000" stroke-width="2.4" stroke-linecap="butt"/>
<line x1="1760" y1="425" x2="1760" y2="435" stroke="#000" stroke-width="2.4" stroke-linecap="butt"/>
<text x="1430.75" y="455.8" font-size="27.06" stroke="#1c1c1c" stroke-width="0.5" text-anchor="middle" textLength="57.18" lengthAdjust="spacingAndGlyphs" fill="#1c1c1c">Light</text>
<text x="1522.5" y="455.8" font-size="27.06" stroke="#1c1c1c" stroke-width="0.5" text-anchor="middle" textLength="55.03" lengthAdjust="spacingAndGlyphs" fill="#1c1c1c">Dark</text>
<text x="1615" y="455.8" font-size="27.06" stroke="#1c1c1c" stroke-width="0.5" text-anchor="middle" textLength="57.18" lengthAdjust="spacingAndGlyphs" fill="#1c1c1c">Light</text>
<text x="1710.75" y="455.8" font-size="27.06" stroke="#1c1c1c" stroke-width="0.5" text-anchor="middle" textLength="55.03" lengthAdjust="spacingAndGlyphs" fill="#1c1c1c">Dark</text>
<text x="1570.75" y="485" font-size="29.86" font-weight="bold" text-anchor="middle" textLength="69.05" lengthAdjust="spacingAndGlyphs" fill="#1c1c1c">Cycle</text>
<text transform="translate(1307,278.5) rotate(-90)" x="0" y="0" font-size="32.19" font-weight="bold" text-anchor="middle" textLength="55.67" lengthAdjust="spacingAndGlyphs" fill="#1c1c1c">RER</text>
<rect x="1397.25" y="267.75" width="25.75" height="157.25" fill="#fff" stroke="#000" stroke-width="3"/>
<circle cx="1405.75" cy="251.25" r="4.6" fill="none" stroke="#6e6e6e" stroke-width="1.6" stroke-opacity="0.68"/>
<circle cx="1412" cy="242.5" r="4.6" fill="none" stroke="#6e6e6e" stroke-width="1.6" stroke-opacity="0.68"/>
<circle cx="1400.75" cy="252.5" r="4.6" fill="none" stroke="#6e6e6e" stroke-width="1.6" stroke-opacity="0.68"/>
<circle cx="1417" cy="256.25" r="4.6" fill="none" stroke="#6e6e6e" stroke-width="1.6" stroke-opacity="0.68"/>
<circle cx="1412" cy="262.5" r="4.6" fill="none" stroke="#6e6e6e" stroke-width="1.6" stroke-opacity="0.68"/>
<circle cx="1405.75" cy="270" r="4.6" fill="none" stroke="#6e6e6e" stroke-width="1.6" stroke-opacity="0.68"/>
<circle cx="1412" cy="276.25" r="4.6" fill="none" stroke="#6e6e6e" stroke-width="1.6" stroke-opacity="0.68"/>
<circle cx="1417" cy="285" r="4.6" fill="none" stroke="#6e6e6e" stroke-width="1.6" stroke-opacity="0.68"/>
<circle cx="1405.75" cy="292.5" r="4.6" fill="none" stroke="#6e6e6e" stroke-width="1.6" stroke-opacity="0.68"/>
<circle cx="1409.5" cy="240" r="4.6" fill="none" stroke="#6e6e6e" stroke-width="1.6" stroke-opacity="0.68"/>
<circle cx="1419.5" cy="247.5" r="4.6" fill="none" stroke="#6e6e6e" stroke-width="1.6" stroke-opacity="0.68"/>
<line x1="1410.12" y1="251" x2="1410.12" y2="280" stroke="#000" stroke-width="2.6" stroke-linecap="butt"/>
<line x1="1401.62" y1="251" x2="1418.62" y2="251" stroke="#000" stroke-width="2.6" stroke-linecap="butt"/>
<line x1="1401.62" y1="280" x2="1418.62" y2="280" stroke="#000" stroke-width="2.6" stroke-linecap="butt"/>
<rect x="1436" y="245.25" width="26.5" height="179.75" fill="#00a651" stroke="#000" stroke-width="3"/>
<circle cx="1445.75" cy="204.5" r="4.6" fill="none" stroke="#6e6e6e" stroke-width="1.6" stroke-opacity="0.68"/>
<circle cx="1452" cy="210" r="4.6" fill="none" stroke="#6e6e6e" stroke-width="1.6" stroke-opacity="0.68"/>
<circle cx="1447" cy="216.25" r="4.6" fill="none" stroke="#6e6e6e" stroke-width="1.6" stroke-opacity="0.68"/>
<circle cx="1437" cy="231.25" r="4.6" fill="none" stroke="#6e6e6e" stroke-width="1.6" stroke-opacity="0.68"/>
<circle cx="1459.5" cy="228" r="4.6" fill="none" stroke="#6e6e6e" stroke-width="1.6" stroke-opacity="0.68"/>
<circle cx="1448" cy="225" r="4.6" fill="none" stroke="#6e6e6e" stroke-width="1.6" stroke-opacity="0.68"/>
<circle cx="1442" cy="235" r="4.6" fill="none" stroke="#6e6e6e" stroke-width="1.6" stroke-opacity="0.68"/>
<circle cx="1459.5" cy="241.25" r="4.6" fill="none" stroke="#6e6e6e" stroke-width="1.6" stroke-opacity="0.68"/>
<circle cx="1452" cy="272.5" r="4.6" fill="none" stroke="#6e6e6e" stroke-width="1.6" stroke-opacity="0.68"/>
<circle cx="1444.5" cy="250" r="4.6" fill="none" stroke="#6e6e6e" stroke-width="1.6" stroke-opacity="0.68"/>
<line x1="1449.25" y1="220" x2="1449.25" y2="265" stroke="#000" stroke-width="2.6" stroke-linecap="butt"/>
<line x1="1440.75" y1="220" x2="1457.75" y2="220" stroke="#000" stroke-width="2.6" stroke-linecap="butt"/>
<line x1="1440.75" y1="265" x2="1457.75" y2="265" stroke="#000" stroke-width="2.6" stroke-linecap="butt"/>
<rect x="1490.5" y="246.5" width="25" height="178.5" fill="#fff" stroke="#000" stroke-width="3"/>
<circle cx="1503.25" cy="215" r="4.6" fill="none" stroke="#6e6e6e" stroke-width="1.6" stroke-opacity="0.68"/>
<circle cx="1498" cy="218.75" r="4.6" fill="none" stroke="#6e6e6e" stroke-width="1.6" stroke-opacity="0.68"/>
<circle cx="1505.75" cy="225" r="4.6" fill="none" stroke="#6e6e6e" stroke-width="1.6" stroke-opacity="0.68"/>
<circle cx="1497" cy="232.5" r="4.6" fill="none" stroke="#6e6e6e" stroke-width="1.6" stroke-opacity="0.68"/>
<circle cx="1509.5" cy="235" r="4.6" fill="none" stroke="#6e6e6e" stroke-width="1.6" stroke-opacity="0.68"/>
<circle cx="1502" cy="238.75" r="4.6" fill="none" stroke="#6e6e6e" stroke-width="1.6" stroke-opacity="0.68"/>
<circle cx="1514.5" cy="240" r="4.6" fill="none" stroke="#6e6e6e" stroke-width="1.6" stroke-opacity="0.68"/>
<circle cx="1495.75" cy="246.25" r="4.6" fill="none" stroke="#6e6e6e" stroke-width="1.6" stroke-opacity="0.68"/>
<circle cx="1505.75" cy="250" r="4.6" fill="none" stroke="#6e6e6e" stroke-width="1.6" stroke-opacity="0.68"/>
<circle cx="1499.5" cy="255" r="4.6" fill="none" stroke="#6e6e6e" stroke-width="1.6" stroke-opacity="0.68"/>
<circle cx="1509.5" cy="260" r="4.6" fill="none" stroke="#6e6e6e" stroke-width="1.6" stroke-opacity="0.68"/>
<circle cx="1498" cy="267.5" r="4.6" fill="none" stroke="#6e6e6e" stroke-width="1.6" stroke-opacity="0.68"/>
<circle cx="1505.75" cy="270" r="4.6" fill="none" stroke="#6e6e6e" stroke-width="1.6" stroke-opacity="0.68"/>
<circle cx="1503.25" cy="285" r="4.6" fill="none" stroke="#6e6e6e" stroke-width="1.6" stroke-opacity="0.68"/>
<line x1="1503" y1="225" x2="1503" y2="262" stroke="#000" stroke-width="2.6" stroke-linecap="butt"/>
<line x1="1494.5" y1="225" x2="1511.5" y2="225" stroke="#000" stroke-width="2.6" stroke-linecap="butt"/>
<line x1="1494.5" y1="262" x2="1511.5" y2="262" stroke="#000" stroke-width="2.6" stroke-linecap="butt"/>
<rect x="1528.5" y="225.25" width="27" height="199.75" fill="#00a651" stroke="#000" stroke-width="3"/>
<circle cx="1532" cy="188.75" r="4.6" fill="none" stroke="#6e6e6e" stroke-width="1.6" stroke-opacity="0.68"/>
<circle cx="1544.5" cy="190" r="4.6" fill="none" stroke="#6e6e6e" stroke-width="1.6" stroke-opacity="0.68"/>
<circle cx="1539.5" cy="196.25" r="4.6" fill="none" stroke="#6e6e6e" stroke-width="1.6" stroke-opacity="0.68"/>
<circle cx="1532" cy="205" r="4.6" fill="none" stroke="#6e6e6e" stroke-width="1.6" stroke-opacity="0.68"/>
<circle cx="1547" cy="206.25" r="4.6" fill="none" stroke="#6e6e6e" stroke-width="1.6" stroke-opacity="0.68"/>
<circle cx="1552" cy="209.5" r="4.6" fill="none" stroke="#6e6e6e" stroke-width="1.6" stroke-opacity="0.68"/>
<circle cx="1532" cy="217.5" r="4.6" fill="none" stroke="#6e6e6e" stroke-width="1.6" stroke-opacity="0.68"/>
<circle cx="1544.5" cy="220" r="4.6" fill="none" stroke="#6e6e6e" stroke-width="1.6" stroke-opacity="0.68"/>
<line x1="1542" y1="200" x2="1542" y2="243.75" stroke="#000" stroke-width="2.6" stroke-linecap="butt"/>
<line x1="1533.5" y1="200" x2="1550.5" y2="200" stroke="#000" stroke-width="2.6" stroke-linecap="butt"/>
<line x1="1533.5" y1="243.75" x2="1550.5" y2="243.75" stroke="#000" stroke-width="2.6" stroke-linecap="butt"/>
<rect x="1582.5" y="252.5" width="26" height="172.5" fill="#fff" stroke="#000" stroke-width="3"/>
<circle cx="1595.5" cy="207.5" r="4.6" fill="none" stroke="#6e6e6e" stroke-width="1.6" stroke-opacity="0.68"/>
<circle cx="1589.5" cy="225" r="4.6" fill="none" stroke="#6e6e6e" stroke-width="1.6" stroke-opacity="0.68"/>
<circle cx="1595.5" cy="235" r="4.6" fill="none" stroke="#6e6e6e" stroke-width="1.6" stroke-opacity="0.68"/>
<circle cx="1585" cy="246.25" r="4.6" fill="none" stroke="#6e6e6e" stroke-width="1.6" stroke-opacity="0.68"/>
<circle cx="1603.75" cy="242.5" r="4.6" fill="none" stroke="#6e6e6e" stroke-width="1.6" stroke-opacity="0.68"/>
<circle cx="1597.5" cy="257.5" r="4.6" fill="none" stroke="#6e6e6e" stroke-width="1.6" stroke-opacity="0.68"/>
<circle cx="1590" cy="282.5" r="4.6" fill="none" stroke="#6e6e6e" stroke-width="1.6" stroke-opacity="0.68"/>
<circle cx="1600" cy="282.5" r="4.6" fill="none" stroke="#6e6e6e" stroke-width="1.6" stroke-opacity="0.68"/>
<circle cx="1595" cy="285" r="4.6" fill="none" stroke="#6e6e6e" stroke-width="1.6" stroke-opacity="0.68"/>
<circle cx="1605" cy="247.5" r="4.6" fill="none" stroke="#6e6e6e" stroke-width="1.6" stroke-opacity="0.68"/>
<line x1="1595.5" y1="228" x2="1595.5" y2="271" stroke="#000" stroke-width="2.6" stroke-linecap="butt"/>
<line x1="1587" y1="228" x2="1604" y2="228" stroke="#000" stroke-width="2.6" stroke-linecap="butt"/>
<line x1="1587" y1="271" x2="1604" y2="271" stroke="#000" stroke-width="2.6" stroke-linecap="butt"/>
<rect x="1621.5" y="237.5" width="26" height="187.5" fill="#00a651" stroke="#000" stroke-width="3"/>
<circle cx="1633.75" cy="208.75" r="4.6" fill="none" stroke="#6e6e6e" stroke-width="1.6" stroke-opacity="0.68"/>
<circle cx="1627.5" cy="215" r="4.6" fill="none" stroke="#6e6e6e" stroke-width="1.6" stroke-opacity="0.68"/>
<circle cx="1637.5" cy="217.5" r="4.6" fill="none" stroke="#6e6e6e" stroke-width="1.6" stroke-opacity="0.68"/>
<circle cx="1622.5" cy="226.25" r="4.6" fill="none" stroke="#6e6e6e" stroke-width="1.6" stroke-opacity="0.68"/>
<circle cx="1645" cy="225" r="4.6" fill="none" stroke="#6e6e6e" stroke-width="1.6" stroke-opacity="0.68"/>
<circle cx="1632.5" cy="228.75" r="4.6" fill="none" stroke="#6e6e6e" stroke-width="1.6" stroke-opacity="0.68"/>
<circle cx="1640" cy="232.5" r="4.6" fill="none" stroke="#6e6e6e" stroke-width="1.6" stroke-opacity="0.68"/>
<line x1="1634.5" y1="217" x2="1634.5" y2="251" stroke="#000" stroke-width="2.6" stroke-linecap="butt"/>
<line x1="1626" y1="217" x2="1643" y2="217" stroke="#000" stroke-width="2.6" stroke-linecap="butt"/>
<line x1="1626" y1="251" x2="1643" y2="251" stroke="#000" stroke-width="2.6" stroke-linecap="butt"/>
<rect x="1675.5" y="239.5" width="25.5" height="185.5" fill="#fff" stroke="#000" stroke-width="3"/>
<circle cx="1687.5" cy="195" r="4.6" fill="none" stroke="#6e6e6e" stroke-width="1.6" stroke-opacity="0.68"/>
<circle cx="1682.5" cy="203.75" r="4.6" fill="none" stroke="#6e6e6e" stroke-width="1.6" stroke-opacity="0.68"/>
<circle cx="1692.5" cy="204.5" r="4.6" fill="none" stroke="#6e6e6e" stroke-width="1.6" stroke-opacity="0.68"/>
<circle cx="1677.5" cy="217.5" r="4.6" fill="none" stroke="#6e6e6e" stroke-width="1.6" stroke-opacity="0.68"/>
<circle cx="1698.75" cy="220" r="4.6" fill="none" stroke="#6e6e6e" stroke-width="1.6" stroke-opacity="0.68"/>
<circle cx="1685" cy="226.25" r="4.6" fill="none" stroke="#6e6e6e" stroke-width="1.6" stroke-opacity="0.68"/>
<circle cx="1677.5" cy="230" r="4.6" fill="none" stroke="#6e6e6e" stroke-width="1.6" stroke-opacity="0.68"/>
<circle cx="1698.75" cy="233.75" r="4.6" fill="none" stroke="#6e6e6e" stroke-width="1.6" stroke-opacity="0.68"/>
<circle cx="1687.5" cy="257.5" r="4.6" fill="none" stroke="#6e6e6e" stroke-width="1.6" stroke-opacity="0.68"/>
<circle cx="1688.75" cy="281.25" r="4.6" fill="none" stroke="#6e6e6e" stroke-width="1.6" stroke-opacity="0.68"/>
<circle cx="1695" cy="281.25" r="4.6" fill="none" stroke="#6e6e6e" stroke-width="1.6" stroke-opacity="0.68"/>
<circle cx="1681.25" cy="288.75" r="4.6" fill="none" stroke="#6e6e6e" stroke-width="1.6" stroke-opacity="0.68"/>
<line x1="1688.25" y1="207.5" x2="1688.25" y2="265.5" stroke="#000" stroke-width="2.6" stroke-linecap="butt"/>
<line x1="1679.75" y1="207.5" x2="1696.75" y2="207.5" stroke="#000" stroke-width="2.6" stroke-linecap="butt"/>
<line x1="1679.75" y1="265.5" x2="1696.75" y2="265.5" stroke="#000" stroke-width="2.6" stroke-linecap="butt"/>
<rect x="1714" y="211" width="26.5" height="214" fill="#00a651" stroke="#000" stroke-width="3"/>
<circle cx="1732.5" cy="178.75" r="4.6" fill="none" stroke="#6e6e6e" stroke-width="1.6" stroke-opacity="0.68"/>
<circle cx="1725" cy="185" r="4.6" fill="none" stroke="#6e6e6e" stroke-width="1.6" stroke-opacity="0.68"/>
<circle cx="1738.75" cy="186.25" r="4.6" fill="none" stroke="#6e6e6e" stroke-width="1.6" stroke-opacity="0.68"/>
<circle cx="1732.5" cy="190" r="4.6" fill="none" stroke="#6e6e6e" stroke-width="1.6" stroke-opacity="0.68"/>
<circle cx="1716.25" cy="197.5" r="4.6" fill="none" stroke="#6e6e6e" stroke-width="1.6" stroke-opacity="0.68"/>
<circle cx="1722.5" cy="197.5" r="4.6" fill="none" stroke="#6e6e6e" stroke-width="1.6" stroke-opacity="0.68"/>
<circle cx="1738.75" cy="198.75" r="4.6" fill="none" stroke="#6e6e6e" stroke-width="1.6" stroke-opacity="0.68"/>
<circle cx="1732.5" cy="203.75" r="4.6" fill="none" stroke="#6e6e6e" stroke-width="1.6" stroke-opacity="0.68"/>
<line x1="1727.25" y1="183" x2="1727.25" y2="232" stroke="#000" stroke-width="2.6" stroke-linecap="butt"/>
<line x1="1718.75" y1="183" x2="1735.75" y2="183" stroke="#000" stroke-width="2.6" stroke-linecap="butt"/>
<line x1="1718.75" y1="232" x2="1735.75" y2="232" stroke="#000" stroke-width="2.6" stroke-linecap="butt"/>
<line x1="1405.75" y1="190.5" x2="1452" y2="190.5" stroke="#000" stroke-width="1.6" stroke-linecap="butt"/>
<text x="1428" y="185.26" font-size="31.72" stroke="#1c1c1c" stroke-width="0.5" text-anchor="middle" textLength="16.93" lengthAdjust="spacingAndGlyphs" fill="#1c1c1c">*</text>
<line x1="1499.5" y1="175.75" x2="1544.5" y2="175.75" stroke="#000" stroke-width="1.6" stroke-linecap="butt"/>
<text x="1522" y="171.26" font-size="31.72" stroke="#1c1c1c" stroke-width="0.5" text-anchor="middle" textLength="16.93" lengthAdjust="spacingAndGlyphs" fill="#1c1c1c">*</text>
<line x1="1689" y1="167.5" x2="1734" y2="167.5" stroke="#000" stroke-width="1.6" stroke-linecap="butt"/>
<text x="1711" y="162.76" font-size="31.72" stroke="#1c1c1c" stroke-width="0.5" text-anchor="middle" textLength="16.93" lengthAdjust="spacingAndGlyphs" fill="#1c1c1c">*</text>
<rect x="1411.7" y="515.7" width="18.9" height="20.6" fill="#fff" stroke="#000" stroke-width="2.4"/>
<text x="1446" y="536.5" font-size="29.2" stroke="#1c1c1c" stroke-width="0.5" text-anchor="start" textLength="93.93" lengthAdjust="spacingAndGlyphs" fill="#1c1c1c">Control</text>
<rect x="1565.2" y="515.7" width="18.4" height="20.6" fill="#00a651" stroke="#000" stroke-width="2.4"/>
<text x="1599.5" y="536.5" font-size="29.2" stroke="#1c1c1c" stroke-width="0.5" text-anchor="start" textLength="128.93" lengthAdjust="spacingAndGlyphs" fill="#1c1c1c">Low BCAA</text>
<text x="1399" y="569.5" font-size="27.06" stroke="#1c1c1c" stroke-width="0.5" text-anchor="start" textLength="165.54" lengthAdjust="spacingAndGlyphs" fill="#1c1c1c">Diet p&lt;0.0001</text>
<text x="1757.5" y="569.5" font-size="27.06" stroke="#1c1c1c" stroke-width="0.5" text-anchor="end" textLength="178.63" lengthAdjust="spacingAndGlyphs" fill="#1c1c1c">Cycle p&lt;0.0001</text>
<text x="232" y="636.25" font-size="27.06" stroke="#1c1c1c" stroke-width="0.5" text-anchor="middle" textLength="125.67" lengthAdjust="spacingAndGlyphs" fill="#1c1c1c">20 months</text>
<line x1="140.5" y1="649.25" x2="317" y2="649.25" stroke="#000" stroke-width="3" stroke-linecap="butt"/>
<text x="418.5" y="636.25" font-size="27.06" stroke="#1c1c1c" stroke-width="0.5" text-anchor="middle" textLength="125.67" lengthAdjust="spacingAndGlyphs" fill="#1c1c1c">25 months</text>
<line x1="328" y1="649.25" x2="502.5" y2="649.25" stroke="#000" stroke-width="3" stroke-linecap="butt"/>
<line x1="131.25" y1="663.75" x2="131.25" y2="960" stroke="#000" stroke-width="2.8" stroke-linecap="butt"/>
<line x1="124.25" y1="698" x2="131.25" y2="698" stroke="#000" stroke-width="2.4" stroke-linecap="butt"/>
<text x="122" y="707.3" font-size="27.06" stroke="#1c1c1c" stroke-width="0.5" text-anchor="end" textLength="29.4" lengthAdjust="spacingAndGlyphs" fill="#1c1c1c">40</text>
<line x1="124.25" y1="763.5" x2="131.25" y2="763.5" stroke="#000" stroke-width="2.4" stroke-linecap="butt"/>
<text x="122" y="772.8" font-size="27.06" stroke="#1c1c1c" stroke-width="0.5" text-anchor="end" textLength="29.4" lengthAdjust="spacingAndGlyphs" fill="#1c1c1c">30</text>
<line x1="124.25" y1="829" x2="131.25" y2="829" stroke="#000" stroke-width="2.4" stroke-linecap="butt"/>
<text x="122" y="838.3" font-size="27.06" stroke="#1c1c1c" stroke-width="0.5" text-anchor="end" textLength="29.4" lengthAdjust="spacingAndGlyphs" fill="#1c1c1c">20</text>
<line x1="124.25" y1="894.5" x2="131.25" y2="894.5" stroke="#000" stroke-width="2.4" stroke-linecap="butt"/>
<text x="122" y="903.8" font-size="27.06" stroke="#1c1c1c" stroke-width="0.5" text-anchor="end" textLength="29.4" lengthAdjust="spacingAndGlyphs" fill="#1c1c1c">10</text>
<line x1="124.25" y1="960" x2="131.25" y2="960" stroke="#000" stroke-width="2.4" stroke-linecap="butt"/>
<text x="122" y="969.3" font-size="27.06" stroke="#1c1c1c" stroke-width="0.5" text-anchor="end" textLength="14.7" lengthAdjust="spacingAndGlyphs" fill="#1c1c1c">0</text>
<line x1="129.85" y1="960" x2="515.5" y2="960" stroke="#000" stroke-width="2.8" stroke-linecap="butt"/>
<line x1="131.25" y1="960" x2="131.25" y2="968" stroke="#000" stroke-width="2.4" stroke-linecap="butt"/>
<line x1="228.75" y1="960" x2="228.75" y2="968" stroke="#000" stroke-width="2.4" stroke-linecap="butt"/>
<line x1="325" y1="960" x2="325" y2="968" stroke="#000" stroke-width="2.4" stroke-linecap="butt"/>
<line x1="418" y1="960" x2="418" y2="968" stroke="#000" stroke-width="2.4" stroke-linecap="butt"/>
<line x1="515.5" y1="960" x2="515.5" y2="968" stroke="#000" stroke-width="2.4" stroke-linecap="butt"/>
<text x="180.5" y="988.3" font-size="27.06" stroke="#1c1c1c" stroke-width="0.5" text-anchor="middle" textLength="57.18" lengthAdjust="spacingAndGlyphs" fill="#1c1c1c">Light</text>
<text x="275" y="988.3" font-size="27.06" stroke="#1c1c1c" stroke-width="0.5" text-anchor="middle" textLength="55.03" lengthAdjust="spacingAndGlyphs" fill="#1c1c1c">Dark</text>
<text x="367.75" y="988.3" font-size="27.06" stroke="#1c1c1c" stroke-width="0.5" text-anchor="middle" textLength="57.18" lengthAdjust="spacingAndGlyphs" fill="#1c1c1c">Light</text>
<text x="463.25" y="988.3" font-size="27.06" stroke="#1c1c1c" stroke-width="0.5" text-anchor="middle" textLength="55.03" lengthAdjust="spacingAndGlyphs" fill="#1c1c1c">Dark</text>
<text x="320" y="1020" font-size="29.86" font-weight="bold" text-anchor="middle" textLength="69.05" lengthAdjust="spacingAndGlyphs" fill="#1c1c1c">Cycle</text>
<text transform="translate(77.5,820) rotate(-90)" x="0" y="0" font-size="32.19" font-weight="bold" text-anchor="middle" textLength="395" lengthAdjust="spacingAndGlyphs" fill="#1c1c1c">Spontaneous activity (x10³)</text>
<rect x="154.5" y="925.25" width="29" height="34.75" fill="#fff" stroke="#000" stroke-width="3"/>
<circle cx="162.5" cy="885" r="4.5" fill="none" stroke="#6e6e6e" stroke-width="1.7" stroke-opacity="0.68"/>
<circle cx="167.5" cy="888.75" r="4.5" fill="none" stroke="#6e6e6e" stroke-width="1.7" stroke-opacity="0.68"/>
<circle cx="171" cy="887.5" r="4.5" fill="none" stroke="#6e6e6e" stroke-width="1.7" stroke-opacity="0.68"/>
<circle cx="162.5" cy="902.5" r="4.5" fill="none" stroke="#6e6e6e" stroke-width="1.7" stroke-opacity="0.68"/>
<circle cx="170" cy="906" r="4.5" fill="none" stroke="#6e6e6e" stroke-width="1.7" stroke-opacity="0.68"/>
<circle cx="157.5" cy="916" r="4.5" fill="none" stroke="#6e6e6e" stroke-width="1.7" stroke-opacity="0.68"/>
<circle cx="175" cy="915" r="4.5" fill="none" stroke="#6e6e6e" stroke-width="1.7" stroke-opacity="0.68"/>
<circle cx="180" cy="917.5" r="4.5" fill="none" stroke="#6e6e6e" stroke-width="1.7" stroke-opacity="0.68"/>
<circle cx="155" cy="925" r="4.5" fill="none" stroke="#6e6e6e" stroke-width="1.7" stroke-opacity="0.68"/>
<circle cx="165" cy="922.5" r="4.5" fill="none" stroke="#6e6e6e" stroke-width="1.7" stroke-opacity="0.68"/>
<circle cx="172.5" cy="926" r="4.5" fill="none" stroke="#6e6e6e" stroke-width="1.7" stroke-opacity="0.68"/>
<circle cx="177.5" cy="923.75" r="4.5" fill="none" stroke="#6e6e6e" stroke-width="1.7" stroke-opacity="0.68"/>
<circle cx="162.5" cy="931" r="4.5" fill="none" stroke="#6e6e6e" stroke-width="1.7" stroke-opacity="0.68"/>
<circle cx="170" cy="936" r="4.5" fill="none" stroke="#6e6e6e" stroke-width="1.7" stroke-opacity="0.68"/>
<circle cx="175" cy="937.5" r="4.5" fill="none" stroke="#6e6e6e" stroke-width="1.7" stroke-opacity="0.68"/>
<circle cx="162.5" cy="944.5" r="4.5" fill="none" stroke="#6e6e6e" stroke-width="1.7" stroke-opacity="0.68"/>
<line x1="169" y1="907" x2="169" y2="936" stroke="#000" stroke-width="2.6" stroke-linecap="butt"/>
<line x1="160" y1="907" x2="178" y2="907" stroke="#000" stroke-width="2.6" stroke-linecap="butt"/>
<line x1="160" y1="936" x2="178" y2="936" stroke="#000" stroke-width="2.6" stroke-linecap="butt"/>
<rect x="195.25" y="922.75" width="30.25" height="37.25" fill="#00a651" stroke="#000" stroke-width="3"/>
<circle cx="208.75" cy="877" r="4.5" fill="none" stroke="#6e6e6e" stroke-width="1.7" stroke-opacity="0.68"/>
<circle cx="213.75" cy="892" r="4.5" fill="none" stroke="#6e6e6e" stroke-width="1.7" stroke-opacity="0.68"/>
<circle cx="208.75" cy="896" r="4.5" fill="none" stroke="#6e6e6e" stroke-width="1.7" stroke-opacity="0.68"/>
<circle cx="203.75" cy="906" r="4.5" fill="none" stroke="#6e6e6e" stroke-width="1.7" stroke-opacity="0.68"/>
<circle cx="210" cy="910" r="4.5" fill="none" stroke="#6e6e6e" stroke-width="1.7" stroke-opacity="0.68"/>
<circle cx="196.25" cy="917.5" r="4.5" fill="none" stroke="#6e6e6e" stroke-width="1.7" stroke-opacity="0.68"/>
<circle cx="218.75" cy="917.5" r="4.5" fill="none" stroke="#6e6e6e" stroke-width="1.7" stroke-opacity="0.68"/>
<circle cx="206.25" cy="922.5" r="4.5" fill="none" stroke="#6e6e6e" stroke-width="1.7" stroke-opacity="0.68"/>
<circle cx="213.75" cy="926" r="4.5" fill="none" stroke="#6e6e6e" stroke-width="1.7" stroke-opacity="0.68"/>
<circle cx="208.75" cy="934" r="4.5" fill="none" stroke="#6e6e6e" stroke-width="1.7" stroke-opacity="0.68"/>
<circle cx="205" cy="942" r="4.5" fill="none" stroke="#6e6e6e" stroke-width="1.7" stroke-opacity="0.68"/>
<circle cx="212.5" cy="942.5" r="4.5" fill="none" stroke="#6e6e6e" stroke-width="1.7" stroke-opacity="0.68"/>
<line x1="210.38" y1="901" x2="210.38" y2="935.5" stroke="#000" stroke-width="2.6" stroke-linecap="butt"/>
<line x1="201.38" y1="901" x2="219.38" y2="901" stroke="#000" stroke-width="2.6" stroke-linecap="butt"/>
<line x1="201.38" y1="935.5" x2="219.38" y2="935.5" stroke="#000" stroke-width="2.6" stroke-linecap="butt"/>
<rect x="244.5" y="843.5" width="29.5" height="116.5" fill="#fff" stroke="#000" stroke-width="3"/>
<circle cx="258.75" cy="746" r="4.5" fill="none" stroke="#6e6e6e" stroke-width="1.7" stroke-opacity="0.68"/>
<circle cx="258.75" cy="769.5" r="4.5" fill="none" stroke="#6e6e6e" stroke-width="1.7" stroke-opacity="0.68"/>
<circle cx="258.75" cy="787" r="4.5" fill="none" stroke="#6e6e6e" stroke-width="1.7" stroke-opacity="0.68"/>
<circle cx="251" cy="819.5" r="4.5" fill="none" stroke="#6e6e6e" stroke-width="1.7" stroke-opacity="0.68"/>
<circle cx="258.75" cy="822.5" r="4.5" fill="none" stroke="#6e6e6e" stroke-width="1.7" stroke-opacity="0.68"/>
<circle cx="272.5" cy="834.5" r="4.5" fill="none" stroke="#6e6e6e" stroke-width="1.7" stroke-opacity="0.68"/>
<circle cx="243.75" cy="840" r="4.5" fill="none" stroke="#6e6e6e" stroke-width="1.7" stroke-opacity="0.68"/>
<circle cx="252.5" cy="837.5" r="4.5" fill="none" stroke="#6e6e6e" stroke-width="1.7" stroke-opacity="0.68"/>
<circle cx="258.75" cy="840" r="4.5" fill="none" stroke="#6e6e6e" stroke-width="1.7" stroke-opacity="0.68"/>
<circle cx="266" cy="840" r="4.5" fill="none" stroke="#6e6e6e" stroke-width="1.7" stroke-opacity="0.68"/>
<circle cx="251" cy="849" r="4.5" fill="none" stroke="#6e6e6e" stroke-width="1.7" stroke-opacity="0.68"/>
<circle cx="266" cy="851" r="4.5" fill="none" stroke="#6e6e6e" stroke-width="1.7" stroke-opacity="0.68"/>
<circle cx="258.75" cy="856" r="4.5" fill="none" stroke="#6e6e6e" stroke-width="1.7" stroke-opacity="0.68"/>
<circle cx="251" cy="866" r="4.5" fill="none" stroke="#6e6e6e" stroke-width="1.7" stroke-opacity="0.68"/>
<circle cx="266" cy="864" r="4.5" fill="none" stroke="#6e6e6e" stroke-width="1.7" stroke-opacity="0.68"/>
<circle cx="265" cy="872.5" r="4.5" fill="none" stroke="#6e6e6e" stroke-width="1.7" stroke-opacity="0.68"/>
<circle cx="258.75" cy="877.5" r="4.5" fill="none" stroke="#6e6e6e" stroke-width="1.7" stroke-opacity="0.68"/>
<circle cx="266" cy="884" r="4.5" fill="none" stroke="#6e6e6e" stroke-width="1.7" stroke-opacity="0.68"/>
<circle cx="251" cy="887.5" r="4.5" fill="none" stroke="#6e6e6e" stroke-width="1.7" stroke-opacity="0.68"/>
<line x1="259.25" y1="803" x2="259.25" y2="875.5" stroke="#000" stroke-width="2.6" stroke-linecap="butt"/>
<line x1="250.25" y1="803" x2="268.25" y2="803" stroke="#000" stroke-width="2.6" stroke-linecap="butt"/>
<line x1="250.25" y1="875.5" x2="268.25" y2="875.5" stroke="#000" stroke-width="2.6" stroke-linecap="butt"/>
<rect x="285.25" y="854" width="30.25" height="106" fill="#00a651" stroke="#000" stroke-width="3"/>
<circle cx="298.75" cy="749" r="4.5" fill="none" stroke="#6e6e6e" stroke-width="1.7" stroke-opacity="0.68"/>
<circle cx="298.75" cy="770.5" r="4.5" fill="none" stroke="#6e6e6e" stroke-width="1.7" stroke-opacity="0.68"/>
<circle cx="298.75" cy="802" r="4.5" fill="none" stroke="#6e6e6e" stroke-width="1.7" stroke-opacity="0.68"/>
<circle cx="302.5" cy="816" r="4.5" fill="none" stroke="#6e6e6e" stroke-width="1.7" stroke-opacity="0.68"/>
<circle cx="295" cy="822.5" r="4.5" fill="none" stroke="#6e6e6e" stroke-width="1.7" stroke-opacity="0.68"/>
<circle cx="298.75" cy="836" r="4.5" fill="none" stroke="#6e6e6e" stroke-width="1.7" stroke-opacity="0.68"/>
<circle cx="283.75" cy="864" r="4.5" fill="none" stroke="#6e6e6e" stroke-width="1.7" stroke-opacity="0.68"/>
<circle cx="292.5" cy="866" r="4.5" fill="none" stroke="#6e6e6e" stroke-width="1.7" stroke-opacity="0.68"/>
<circle cx="312.5" cy="866" r="4.5" fill="none" stroke="#6e6e6e" stroke-width="1.7" stroke-opacity="0.68"/>
<circle cx="306" cy="872.5" r="4.5" fill="none" stroke="#6e6e6e" stroke-width="1.7" stroke-opacity="0.68"/>
<circle cx="291" cy="887.5" r="4.5" fill="none" stroke="#6e6e6e" stroke-width="1.7" stroke-opacity="0.68"/>
<circle cx="306" cy="887.5" r="4.5" fill="none" stroke="#6e6e6e" stroke-width="1.7" stroke-opacity="0.68"/>
<circle cx="298.75" cy="925.5" r="4.5" fill="none" stroke="#6e6e6e" stroke-width="1.7" stroke-opacity="0.68"/>
<line x1="300.38" y1="804.5" x2="300.38" y2="895" stroke="#000" stroke-width="2.6" stroke-linecap="butt"/>
<line x1="291.38" y1="804.5" x2="309.38" y2="804.5" stroke="#000" stroke-width="2.6" stroke-linecap="butt"/>
<line x1="291.38" y1="895" x2="309.38" y2="895" stroke="#000" stroke-width="2.6" stroke-linecap="butt"/>
<rect x="334" y="914.5" width="29.5" height="45.5" fill="#fff" stroke="#000" stroke-width="3"/>
<circle cx="333.75" cy="887.5" r="4.5" fill="none" stroke="#6e6e6e" stroke-width="1.7" stroke-opacity="0.68"/>
<circle cx="343.75" cy="894" r="4.5" fill="none" stroke="#6e6e6e" stroke-width="1.7" stroke-opacity="0.68"/>
<circle cx="352.5" cy="890" r="4.5" fill="none" stroke="#6e6e6e" stroke-width="1.7" stroke-opacity="0.68"/>
<circle cx="362.5" cy="895.5" r="4.5" fill="none" stroke="#6e6e6e" stroke-width="1.7" stroke-opacity="0.68"/>
<circle cx="333.75" cy="897.5" r="4.5" fill="none" stroke="#6e6e6e" stroke-width="1.7" stroke-opacity="0.68"/>
<circle cx="343.75" cy="904" r="4.5" fill="none" stroke="#6e6e6e" stroke-width="1.7" stroke-opacity="0.68"/>
<circle cx="352.5" cy="904" r="4.5" fill="none" stroke="#6e6e6e" stroke-width="1.7" stroke-opacity="0.68"/>
<circle cx="333.75" cy="907" r="4.5" fill="none" stroke="#6e6e6e" stroke-width="1.7" stroke-opacity="0.68"/>
<circle cx="347.5" cy="907.5" r="4.5" fill="none" stroke="#6e6e6e" stroke-width="1.7" stroke-opacity="0.68"/>
<circle cx="333.75" cy="920" r="4.5" fill="none" stroke="#6e6e6e" stroke-width="1.7" stroke-opacity="0.68"/>
<circle cx="343.75" cy="922.5" r="4.5" fill="none" stroke="#6e6e6e" stroke-width="1.7" stroke-opacity="0.68"/>
<circle cx="352.5" cy="920" r="4.5" fill="none" stroke="#6e6e6e" stroke-width="1.7" stroke-opacity="0.68"/>
<circle cx="343.75" cy="931" r="4.5" fill="none" stroke="#6e6e6e" stroke-width="1.7" stroke-opacity="0.68"/>
<circle cx="352.5" cy="932" r="4.5" fill="none" stroke="#6e6e6e" stroke-width="1.7" stroke-opacity="0.68"/>
<circle cx="343.75" cy="940" r="4.5" fill="none" stroke="#6e6e6e" stroke-width="1.7" stroke-opacity="0.68"/>
<line x1="348.75" y1="895" x2="348.75" y2="926" stroke="#000" stroke-width="2.6" stroke-linecap="butt"/>
<line x1="339.75" y1="895" x2="357.75" y2="895" stroke="#000" stroke-width="2.6" stroke-linecap="butt"/>
<line x1="339.75" y1="926" x2="357.75" y2="926" stroke="#000" stroke-width="2.6" stroke-linecap="butt"/>
<rect x="374" y="908.5" width="30.75" height="51.5" fill="#00a651" stroke="#000" stroke-width="3"/>
<circle cx="388.75" cy="870.5" r="4.5" fill="none" stroke="#6e6e6e" stroke-width="1.7" stroke-opacity="0.68"/>
<circle cx="395" cy="877.5" r="4.5" fill="none" stroke="#6e6e6e" stroke-width="1.7" stroke-opacity="0.68"/>
<circle cx="388.75" cy="884" r="4.5" fill="none" stroke="#6e6e6e" stroke-width="1.7" stroke-opacity="0.68"/>
<circle cx="375" cy="895.5" r="4.5" fill="none" stroke="#6e6e6e" stroke-width="1.7" stroke-opacity="0.68"/>
<circle cx="381.25" cy="894.5" r="4.5" fill="none" stroke="#6e6e6e" stroke-width="1.7" stroke-opacity="0.68"/>
<circle cx="400" cy="900" r="4.5" fill="none" stroke="#6e6e6e" stroke-width="1.7" stroke-opacity="0.68"/>
<circle cx="381.25" cy="906" r="4.5" fill="none" stroke="#6e6e6e" stroke-width="1.7" stroke-opacity="0.68"/>
<circle cx="402.5" cy="912.5" r="4.5" fill="none" stroke="#6e6e6e" stroke-width="1.7" stroke-opacity="0.68"/>
<circle cx="375" cy="921" r="4.5" fill="none" stroke="#6e6e6e" stroke-width="1.7" stroke-opacity="0.68"/>
<circle cx="393.75" cy="919" r="4.5" fill="none" stroke="#6e6e6e" stroke-width="1.7" stroke-opacity="0.68"/>
<circle cx="385" cy="924" r="4.5" fill="none" stroke="#6e6e6e" stroke-width="1.7" stroke-opacity="0.68"/>
<circle cx="402.5" cy="927.5" r="4.5" fill="none" stroke="#6e6e6e" stroke-width="1.7" stroke-opacity="0.68"/>
<line x1="389.38" y1="887.5" x2="389.38" y2="921" stroke="#000" stroke-width="2.6" stroke-linecap="butt"/>
<line x1="380.38" y1="887.5" x2="398.38" y2="887.5" stroke="#000" stroke-width="2.6" stroke-linecap="butt"/>
<line x1="380.38" y1="921" x2="398.38" y2="921" stroke="#000" stroke-width="2.6" stroke-linecap="butt"/>
<rect x="423.5" y="829" width="29.5" height="131" fill="#fff" stroke="#000" stroke-width="3"/>
<circle cx="437.5" cy="665" r="4.5" fill="none" stroke="#6e6e6e" stroke-width="1.7" stroke-opacity="0.68"/>
<circle cx="437.5" cy="704" r="4.5" fill="none" stroke="#6e6e6e" stroke-width="1.7" stroke-opacity="0.68"/>
<circle cx="430" cy="790" r="4.5" fill="none" stroke="#6e6e6e" stroke-width="1.7" stroke-opacity="0.68"/>
<circle cx="444.5" cy="784" r="4.5" fill="none" stroke="#6e6e6e" stroke-width="1.7" stroke-opacity="0.68"/>
<circle cx="423.75" cy="804" r="4.5" fill="none" stroke="#6e6e6e" stroke-width="1.7" stroke-opacity="0.68"/>
<circle cx="437.5" cy="810.5" r="4.5" fill="none" stroke="#6e6e6e" stroke-width="1.7" stroke-opacity="0.68"/>
<circle cx="425" cy="831" r="4.5" fill="none" stroke="#6e6e6e" stroke-width="1.7" stroke-opacity="0.68"/>
<circle cx="437.5" cy="837.5" r="4.5" fill="none" stroke="#6e6e6e" stroke-width="1.7" stroke-opacity="0.68"/>
<circle cx="451" cy="832" r="4.5" fill="none" stroke="#6e6e6e" stroke-width="1.7" stroke-opacity="0.68"/>
<circle cx="451" cy="853" r="4.5" fill="none" stroke="#6e6e6e" stroke-width="1.7" stroke-opacity="0.68"/>
<circle cx="437.5" cy="860.5" r="4.5" fill="none" stroke="#6e6e6e" stroke-width="1.7" stroke-opacity="0.68"/>
<circle cx="437.5" cy="870.5" r="4.5" fill="none" stroke="#6e6e6e" stroke-width="1.7" stroke-opacity="0.68"/>
<circle cx="437.5" cy="897.5" r="4.5" fill="none" stroke="#6e6e6e" stroke-width="1.7" stroke-opacity="0.68"/>
<circle cx="437.5" cy="909.5" r="4.5" fill="none" stroke="#6e6e6e" stroke-width="1.7" stroke-opacity="0.68"/>
<circle cx="437.5" cy="927.5" r="4.5" fill="none" stroke="#6e6e6e" stroke-width="1.7" stroke-opacity="0.68"/>
<line x1="438.25" y1="753.75" x2="438.25" y2="896" stroke="#000" stroke-width="2.6" stroke-linecap="butt"/>
<line x1="429.25" y1="753.75" x2="447.25" y2="753.75" stroke="#000" stroke-width="2.6" stroke-linecap="butt"/>
<line x1="429.25" y1="896" x2="447.25" y2="896" stroke="#000" stroke-width="2.6" stroke-linecap="butt"/>
<rect x="463.5" y="828.5" width="29.5" height="131.5" fill="#00a651" stroke="#000" stroke-width="3"/>
<circle cx="478" cy="745.5" r="4.5" fill="none" stroke="#6e6e6e" stroke-width="1.7" stroke-opacity="0.68"/>
<circle cx="478" cy="756" r="4.5" fill="none" stroke="#6e6e6e" stroke-width="1.7" stroke-opacity="0.68"/>
<circle cx="463.75" cy="804" r="4.5" fill="none" stroke="#6e6e6e" stroke-width="1.7" stroke-opacity="0.68"/>
<circle cx="478" cy="802.5" r="4.5" fill="none" stroke="#6e6e6e" stroke-width="1.7" stroke-opacity="0.68"/>
<circle cx="492" cy="802" r="4.5" fill="none" stroke="#6e6e6e" stroke-width="1.7" stroke-opacity="0.68"/>
<circle cx="478" cy="812.5" r="4.5" fill="none" stroke="#6e6e6e" stroke-width="1.7" stroke-opacity="0.68"/>
<circle cx="492" cy="822.5" r="4.5" fill="none" stroke="#6e6e6e" stroke-width="1.7" stroke-opacity="0.68"/>
<circle cx="478" cy="839" r="4.5" fill="none" stroke="#6e6e6e" stroke-width="1.7" stroke-opacity="0.68"/>
<circle cx="463.75" cy="867.5" r="4.5" fill="none" stroke="#6e6e6e" stroke-width="1.7" stroke-opacity="0.68"/>
<circle cx="492" cy="865" r="4.5" fill="none" stroke="#6e6e6e" stroke-width="1.7" stroke-opacity="0.68"/>
<circle cx="492" cy="872.5" r="4.5" fill="none" stroke="#6e6e6e" stroke-width="1.7" stroke-opacity="0.68"/>
<circle cx="478" cy="875.5" r="4.5" fill="none" stroke="#6e6e6e" stroke-width="1.7" stroke-opacity="0.68"/>
<circle cx="478" cy="884" r="4.5" fill="none" stroke="#6e6e6e" stroke-width="1.7" stroke-opacity="0.68"/>
<line x1="478.25" y1="781" x2="478.25" y2="867.5" stroke="#000" stroke-width="2.6" stroke-linecap="butt"/>
<line x1="469.25" y1="781" x2="487.25" y2="781" stroke="#000" stroke-width="2.6" stroke-linecap="butt"/>
<line x1="469.25" y1="867.5" x2="487.25" y2="867.5" stroke="#000" stroke-width="2.6" stroke-linecap="butt"/>
<rect x="162.7" y="1038.7" width="18.9" height="18.6" fill="#fff" stroke="#000" stroke-width="2.4"/>
<text x="196" y="1057.5" font-size="29.2" stroke="#1c1c1c" stroke-width="0.5" text-anchor="start" textLength="93.93" lengthAdjust="spacingAndGlyphs" fill="#1c1c1c">Control</text>
<rect x="315.7" y="1038.7" width="18.9" height="18.6" fill="#00a651" stroke="#000" stroke-width="2.4"/>
<text x="350" y="1057.5" font-size="29.2" stroke="#1c1c1c" stroke-width="0.5" text-anchor="start" textLength="128.93" lengthAdjust="spacingAndGlyphs" fill="#1c1c1c">Low BCAA</text>
<text x="328.75" y="1099" font-size="27.06" stroke="#1c1c1c" stroke-width="0.5" text-anchor="middle" textLength="178.63" lengthAdjust="spacingAndGlyphs" fill="#1c1c1c">Cycle p&lt;0.0001</text>
<line x1="647.5" y1="672.5" x2="647.5" y2="960" stroke="#000" stroke-width="2.8" stroke-linecap="butt"/>
<line x1="640.5" y1="684" x2="647.5" y2="684" stroke="#000" stroke-width="2.4" stroke-linecap="butt"/>
<text x="634" y="693.3" font-size="27.06" stroke="#1c1c1c" stroke-width="0.5" text-anchor="end" textLength="29.4" lengthAdjust="spacingAndGlyphs" fill="#1c1c1c">30</text>
<line x1="640.5" y1="776" x2="647.5" y2="776" stroke="#000" stroke-width="2.4" stroke-linecap="butt"/>
<text x="634" y="785.3" font-size="27.06" stroke="#1c1c1c" stroke-width="0.5" text-anchor="end" textLength="29.4" lengthAdjust="spacingAndGlyphs" fill="#1c1c1c">20</text>
<line x1="640.5" y1="868" x2="647.5" y2="868" stroke="#000" stroke-width="2.4" stroke-linecap="butt"/>
<text x="634" y="877.3" font-size="27.06" stroke="#1c1c1c" stroke-width="0.5" text-anchor="end" textLength="29.4" lengthAdjust="spacingAndGlyphs" fill="#1c1c1c">10</text>
<line x1="640.5" y1="960" x2="647.5" y2="960" stroke="#000" stroke-width="2.4" stroke-linecap="butt"/>
<text x="634" y="969.3" font-size="27.06" stroke="#1c1c1c" stroke-width="0.5" text-anchor="end" textLength="14.7" lengthAdjust="spacingAndGlyphs" fill="#1c1c1c">0</text>
<line x1="646.1" y1="960" x2="998.75" y2="960" stroke="#000" stroke-width="2.8" stroke-linecap="butt"/>
<line x1="647.5" y1="960" x2="647.5" y2="970" stroke="#000" stroke-width="2.4" stroke-linecap="butt"/>
<line x1="765" y1="960" x2="765" y2="970" stroke="#000" stroke-width="2.4" stroke-linecap="butt"/>
<line x1="882.5" y1="960" x2="882.5" y2="970" stroke="#000" stroke-width="2.4" stroke-linecap="butt"/>
<line x1="998.75" y1="960" x2="998.75" y2="970" stroke="#000" stroke-width="2.4" stroke-linecap="butt"/>
<text x="707.5" y="989.55" font-size="27.06" stroke="#1c1c1c" stroke-width="0.5" text-anchor="middle" textLength="29.4" lengthAdjust="spacingAndGlyphs" fill="#1c1c1c">17</text>
<text x="823.75" y="989.55" font-size="27.06" stroke="#1c1c1c" stroke-width="0.5" text-anchor="middle" textLength="29.4" lengthAdjust="spacingAndGlyphs" fill="#1c1c1c">19</text>
<text x="935.5" y="989.55" font-size="27.06" stroke="#1c1c1c" stroke-width="0.5" text-anchor="middle" textLength="29.4" lengthAdjust="spacingAndGlyphs" fill="#1c1c1c">24</text>
<text x="822.5" y="1020" font-size="29.86" font-weight="bold" text-anchor="middle" textLength="178.65" lengthAdjust="spacingAndGlyphs" fill="#1c1c1c">Age (months)</text>
<text transform="translate(590,819.5) rotate(-90)" x="0" y="0" font-size="32.19" font-weight="bold" text-anchor="middle" textLength="219" lengthAdjust="spacingAndGlyphs" fill="#1c1c1c">GTT AUC (x10³)</text>
<rect x="661.5" y="797" width="38" height="163" fill="#fff" stroke="#000" stroke-width="3"/>
<circle cx="662" cy="747" r="4.5" fill="none" stroke="#6e6e6e" stroke-width="1.7" stroke-opacity="0.68"/>
<circle cx="674.5" cy="751.25" r="4.5" fill="none" stroke="#6e6e6e" stroke-width="1.7" stroke-opacity="0.68"/>
<circle cx="686.25" cy="752" r="4.5" fill="none" stroke="#6e6e6e" stroke-width="1.7" stroke-opacity="0.68"/>
<circle cx="662" cy="774.5" r="4.5" fill="none" stroke="#6e6e6e" stroke-width="1.7" stroke-opacity="0.68"/>
<circle cx="674.5" cy="773.75" r="4.5" fill="none" stroke="#6e6e6e" stroke-width="1.7" stroke-opacity="0.68"/>
<circle cx="686.25" cy="780.75" r="4.5" fill="none" stroke="#6e6e6e" stroke-width="1.7" stroke-opacity="0.68"/>
<circle cx="698" cy="786.25" r="4.5" fill="none" stroke="#6e6e6e" stroke-width="1.7" stroke-opacity="0.68"/>
<circle cx="662" cy="788.75" r="4.5" fill="none" stroke="#6e6e6e" stroke-width="1.7" stroke-opacity="0.68"/>
<circle cx="674.5" cy="790" r="4.5" fill="none" stroke="#6e6e6e" stroke-width="1.7" stroke-opacity="0.68"/>
<circle cx="674.5" cy="807" r="4.5" fill="none" stroke="#6e6e6e" stroke-width="1.7" stroke-opacity="0.68"/>
<circle cx="686.25" cy="810" r="4.5" fill="none" stroke="#6e6e6e" stroke-width="1.7" stroke-opacity="0.68"/>
<circle cx="698" cy="799.5" r="4.5" fill="none" stroke="#6e6e6e" stroke-width="1.7" stroke-opacity="0.68"/>
<circle cx="662" cy="803.75" r="4.5" fill="none" stroke="#6e6e6e" stroke-width="1.7" stroke-opacity="0.68"/>
<circle cx="697.5" cy="818.75" r="4.5" fill="none" stroke="#6e6e6e" stroke-width="1.7" stroke-opacity="0.68"/>
<circle cx="697.5" cy="830" r="4.5" fill="none" stroke="#6e6e6e" stroke-width="1.7" stroke-opacity="0.68"/>
<circle cx="674.5" cy="825.5" r="4.5" fill="none" stroke="#6e6e6e" stroke-width="1.7" stroke-opacity="0.68"/>
<circle cx="686.25" cy="823" r="4.5" fill="none" stroke="#6e6e6e" stroke-width="1.7" stroke-opacity="0.68"/>
<circle cx="680" cy="838.75" r="4.5" fill="none" stroke="#6e6e6e" stroke-width="1.7" stroke-opacity="0.68"/>
<line x1="680.5" y1="787.5" x2="680.5" y2="800" stroke="#000" stroke-width="2.6" stroke-linecap="butt"/>
<line x1="671.5" y1="787.5" x2="689.5" y2="787.5" stroke="#000" stroke-width="2.6" stroke-linecap="butt"/>
<line x1="671.5" y1="800" x2="689.5" y2="800" stroke="#000" stroke-width="2.6" stroke-linecap="butt"/>
<rect x="716" y="832.75" width="38" height="127.25" fill="#00a651" stroke="#000" stroke-width="3"/>
<circle cx="734.5" cy="766.25" r="4.5" fill="none" stroke="#6e6e6e" stroke-width="1.7" stroke-opacity="0.68"/>
<circle cx="734.5" cy="777" r="4.5" fill="none" stroke="#6e6e6e" stroke-width="1.7" stroke-opacity="0.68"/>
<circle cx="734.5" cy="787" r="4.5" fill="none" stroke="#6e6e6e" stroke-width="1.7" stroke-opacity="0.68"/>
<circle cx="752.5" cy="773.75" r="4.5" fill="none" stroke="#6e6e6e" stroke-width="1.7" stroke-opacity="0.68"/>
<circle cx="717" cy="807" r="4.5" fill="none" stroke="#6e6e6e" stroke-width="1.7" stroke-opacity="0.68"/>
<circle cx="717" cy="818" r="4.5" fill="none" stroke="#6e6e6e" stroke-width="1.7" stroke-opacity="0.68"/>
<circle cx="735" cy="815.5" r="4.5" fill="none" stroke="#6e6e6e" stroke-width="1.7" stroke-opacity="0.68"/>
<circle cx="752.5" cy="810.5" r="4.5" fill="none" stroke="#6e6e6e" stroke-width="1.7" stroke-opacity="0.68"/>
<circle cx="752.5" cy="820" r="4.5" fill="none" stroke="#6e6e6e" stroke-width="1.7" stroke-opacity="0.68"/>
<circle cx="734.5" cy="836.25" r="4.5" fill="none" stroke="#6e6e6e" stroke-width="1.7" stroke-opacity="0.68"/>
<circle cx="717" cy="852" r="4.5" fill="none" stroke="#6e6e6e" stroke-width="1.7" stroke-opacity="0.68"/>
<circle cx="734.5" cy="849.5" r="4.5" fill="none" stroke="#6e6e6e" stroke-width="1.7" stroke-opacity="0.68"/>
<circle cx="752.5" cy="848.75" r="4.5" fill="none" stroke="#6e6e6e" stroke-width="1.7" stroke-opacity="0.68"/>
<circle cx="717" cy="860.5" r="4.5" fill="none" stroke="#6e6e6e" stroke-width="1.7" stroke-opacity="0.68"/>
<circle cx="734.5" cy="862" r="4.5" fill="none" stroke="#6e6e6e" stroke-width="1.7" stroke-opacity="0.68"/>
<circle cx="752.5" cy="867.5" r="4.5" fill="none" stroke="#6e6e6e" stroke-width="1.7" stroke-opacity="0.68"/>
<circle cx="734.5" cy="875" r="4.5" fill="none" stroke="#6e6e6e" stroke-width="1.7" stroke-opacity="0.68"/>
<circle cx="734.5" cy="890" r="4.5" fill="none" stroke="#6e6e6e" stroke-width="1.7" stroke-opacity="0.68"/>
<line x1="735" y1="821" x2="735" y2="837" stroke="#000" stroke-width="2.6" stroke-linecap="butt"/>
<line x1="726" y1="821" x2="744" y2="821" stroke="#000" stroke-width="2.6" stroke-linecap="butt"/>
<line x1="726" y1="837" x2="744" y2="837" stroke="#000" stroke-width="2.6" stroke-linecap="butt"/>
<rect x="776.5" y="801" width="37.5" height="159" fill="#fff" stroke="#000" stroke-width="3"/>
<circle cx="794.5" cy="717.5" r="4.5" fill="none" stroke="#6e6e6e" stroke-width="1.7" stroke-opacity="0.68"/>
<circle cx="777" cy="730.5" r="4.5" fill="none" stroke="#6e6e6e" stroke-width="1.7" stroke-opacity="0.68"/>
<circle cx="788.75" cy="728.75" r="4.5" fill="none" stroke="#6e6e6e" stroke-width="1.7" stroke-opacity="0.68"/>
<circle cx="788.75" cy="737" r="4.5" fill="none" stroke="#6e6e6e" stroke-width="1.7" stroke-opacity="0.68"/>
<circle cx="794.5" cy="748.75" r="4.5" fill="none" stroke="#6e6e6e" stroke-width="1.7" stroke-opacity="0.68"/>
<circle cx="794.5" cy="779.5" r="4.5" fill="none" stroke="#6e6e6e" stroke-width="1.7" stroke-opacity="0.68"/>
<circle cx="777" cy="812.5" r="4.5" fill="none" stroke="#6e6e6e" stroke-width="1.7" stroke-opacity="0.68"/>
<circle cx="788.75" cy="812.5" r="4.5" fill="none" stroke="#6e6e6e" stroke-width="1.7" stroke-opacity="0.68"/>
<circle cx="800.5" cy="820" r="4.5" fill="none" stroke="#6e6e6e" stroke-width="1.7" stroke-opacity="0.68"/>
<circle cx="812" cy="810" r="4.5" fill="none" stroke="#6e6e6e" stroke-width="1.7" stroke-opacity="0.68"/>
<circle cx="812" cy="819.5" r="4.5" fill="none" stroke="#6e6e6e" stroke-width="1.7" stroke-opacity="0.68"/>
<circle cx="812" cy="830" r="4.5" fill="none" stroke="#6e6e6e" stroke-width="1.7" stroke-opacity="0.68"/>
<circle cx="788.75" cy="825.5" r="4.5" fill="none" stroke="#6e6e6e" stroke-width="1.7" stroke-opacity="0.68"/>
<circle cx="788.75" cy="836.25" r="4.5" fill="none" stroke="#6e6e6e" stroke-width="1.7" stroke-opacity="0.68"/>
<circle cx="800.5" cy="834.5" r="4.5" fill="none" stroke="#6e6e6e" stroke-width="1.7" stroke-opacity="0.68"/>
<circle cx="800.5" cy="843" r="4.5" fill="none" stroke="#6e6e6e" stroke-width="1.7" stroke-opacity="0.68"/>
<circle cx="794.5" cy="865.5" r="4.5" fill="none" stroke="#6e6e6e" stroke-width="1.7" stroke-opacity="0.68"/>
<line x1="795.25" y1="788" x2="795.25" y2="807" stroke="#000" stroke-width="2.6" stroke-linecap="butt"/>
<line x1="786.25" y1="788" x2="804.25" y2="788" stroke="#000" stroke-width="2.6" stroke-linecap="butt"/>
<line x1="786.25" y1="807" x2="804.25" y2="807" stroke="#000" stroke-width="2.6" stroke-linecap="butt"/>
<rect x="830.25" y="829.5" width="38.75" height="130.5" fill="#00a651" stroke="#000" stroke-width="3"/>
<circle cx="848.75" cy="767" r="4.5" fill="none" stroke="#6e6e6e" stroke-width="1.7" stroke-opacity="0.68"/>
<circle cx="855" cy="776.25" r="4.5" fill="none" stroke="#6e6e6e" stroke-width="1.7" stroke-opacity="0.68"/>
<circle cx="843.75" cy="779.5" r="4.5" fill="none" stroke="#6e6e6e" stroke-width="1.7" stroke-opacity="0.68"/>
<circle cx="843.75" cy="794.5" r="4.5" fill="none" stroke="#6e6e6e" stroke-width="1.7" stroke-opacity="0.68"/>
<circle cx="855" cy="800.5" r="4.5" fill="none" stroke="#6e6e6e" stroke-width="1.7" stroke-opacity="0.68"/>
<circle cx="843.75" cy="803.75" r="4.5" fill="none" stroke="#6e6e6e" stroke-width="1.7" stroke-opacity="0.68"/>
<circle cx="867" cy="828" r="4.5" fill="none" stroke="#6e6e6e" stroke-width="1.7" stroke-opacity="0.68"/>
<circle cx="843.75" cy="843.75" r="4.5" fill="none" stroke="#6e6e6e" stroke-width="1.7" stroke-opacity="0.68"/>
<circle cx="855" cy="843.75" r="4.5" fill="none" stroke="#6e6e6e" stroke-width="1.7" stroke-opacity="0.68"/>
<circle cx="843.75" cy="852.5" r="4.5" fill="none" stroke="#6e6e6e" stroke-width="1.7" stroke-opacity="0.68"/>
<circle cx="855" cy="855.5" r="4.5" fill="none" stroke="#6e6e6e" stroke-width="1.7" stroke-opacity="0.68"/>
<circle cx="843.75" cy="861.25" r="4.5" fill="none" stroke="#6e6e6e" stroke-width="1.7" stroke-opacity="0.68"/>
<circle cx="855" cy="867" r="4.5" fill="none" stroke="#6e6e6e" stroke-width="1.7" stroke-opacity="0.68"/>
<circle cx="848.75" cy="879.5" r="4.5" fill="none" stroke="#6e6e6e" stroke-width="1.7" stroke-opacity="0.68"/>
<line x1="849.62" y1="818.75" x2="849.62" y2="834.5" stroke="#000" stroke-width="2.6" stroke-linecap="butt"/>
<line x1="840.62" y1="818.75" x2="858.62" y2="818.75" stroke="#000" stroke-width="2.6" stroke-linecap="butt"/>
<line x1="840.62" y1="834.5" x2="858.62" y2="834.5" stroke="#000" stroke-width="2.6" stroke-linecap="butt"/>
<rect x="890.25" y="799.5" width="38.25" height="160.5" fill="#fff" stroke="#000" stroke-width="3"/>
<circle cx="909.25" cy="683.75" r="4.5" fill="none" stroke="#6e6e6e" stroke-width="1.7" stroke-opacity="0.68"/>
<circle cx="900" cy="767" r="4.5" fill="none" stroke="#6e6e6e" stroke-width="1.7" stroke-opacity="0.68"/>
<circle cx="918" cy="765.75" r="4.5" fill="none" stroke="#6e6e6e" stroke-width="1.7" stroke-opacity="0.68"/>
<circle cx="909.25" cy="774.5" r="4.5" fill="none" stroke="#6e6e6e" stroke-width="1.7" stroke-opacity="0.68"/>
<circle cx="892" cy="788.25" r="4.5" fill="none" stroke="#6e6e6e" stroke-width="1.7" stroke-opacity="0.68"/>
<circle cx="918" cy="785" r="4.5" fill="none" stroke="#6e6e6e" stroke-width="1.7" stroke-opacity="0.68"/>
<circle cx="927.5" cy="790.75" r="4.5" fill="none" stroke="#6e6e6e" stroke-width="1.7" stroke-opacity="0.68"/>
<circle cx="900" cy="792.5" r="4.5" fill="none" stroke="#6e6e6e" stroke-width="1.7" stroke-opacity="0.68"/>
<circle cx="909.25" cy="795" r="4.5" fill="none" stroke="#6e6e6e" stroke-width="1.7" stroke-opacity="0.68"/>
<circle cx="918" cy="805.5" r="4.5" fill="none" stroke="#6e6e6e" stroke-width="1.7" stroke-opacity="0.68"/>
<circle cx="892" cy="825" r="4.5" fill="none" stroke="#6e6e6e" stroke-width="1.7" stroke-opacity="0.68"/>
<circle cx="900" cy="828.75" r="4.5" fill="none" stroke="#6e6e6e" stroke-width="1.7" stroke-opacity="0.68"/>
<circle cx="909.25" cy="832" r="4.5" fill="none" stroke="#6e6e6e" stroke-width="1.7" stroke-opacity="0.68"/>
<circle cx="918" cy="828.75" r="4.5" fill="none" stroke="#6e6e6e" stroke-width="1.7" stroke-opacity="0.68"/>
<circle cx="926.25" cy="824.5" r="4.5" fill="none" stroke="#6e6e6e" stroke-width="1.7" stroke-opacity="0.68"/>
<circle cx="909.25" cy="843" r="4.5" fill="none" stroke="#6e6e6e" stroke-width="1.7" stroke-opacity="0.68"/>
<line x1="909.38" y1="787" x2="909.38" y2="804.5" stroke="#000" stroke-width="2.6" stroke-linecap="butt"/>
<line x1="900.38" y1="787" x2="918.38" y2="787" stroke="#000" stroke-width="2.6" stroke-linecap="butt"/>
<line x1="900.38" y1="804.5" x2="918.38" y2="804.5" stroke="#000" stroke-width="2.6" stroke-linecap="butt"/>
<rect x="945.25" y="841" width="38.75" height="119" fill="#00a651" stroke="#000" stroke-width="3"/>
<circle cx="963.75" cy="797" r="4.5" fill="none" stroke="#6e6e6e" stroke-width="1.7" stroke-opacity="0.68"/>
<circle cx="954.5" cy="819.5" r="4.5" fill="none" stroke="#6e6e6e" stroke-width="1.7" stroke-opacity="0.68"/>
<circle cx="945.5" cy="825" r="4.5" fill="none" stroke="#6e6e6e" stroke-width="1.7" stroke-opacity="0.68"/>
<circle cx="972.5" cy="824.5" r="4.5" fill="none" stroke="#6e6e6e" stroke-width="1.7" stroke-opacity="0.68"/>
<circle cx="982" cy="826.25" r="4.5" fill="none" stroke="#6e6e6e" stroke-width="1.7" stroke-opacity="0.68"/>
<circle cx="963.75" cy="840" r="4.5" fill="none" stroke="#6e6e6e" stroke-width="1.7" stroke-opacity="0.68"/>
<circle cx="972.5" cy="840" r="4.5" fill="none" stroke="#6e6e6e" stroke-width="1.7" stroke-opacity="0.68"/>
<circle cx="955" cy="846.25" r="4.5" fill="none" stroke="#6e6e6e" stroke-width="1.7" stroke-opacity="0.68"/>
<circle cx="963.75" cy="852" r="4.5" fill="none" stroke="#6e6e6e" stroke-width="1.7" stroke-opacity="0.68"/>
<circle cx="963.75" cy="860.5" r="4.5" fill="none" stroke="#6e6e6e" stroke-width="1.7" stroke-opacity="0.68"/>
<circle cx="963.75" cy="871.25" r="4.5" fill="none" stroke="#6e6e6e" stroke-width="1.7" stroke-opacity="0.68"/>
<line x1="964.62" y1="832" x2="964.62" y2="840.5" stroke="#000" stroke-width="2.6" stroke-linecap="butt"/>
<line x1="955.62" y1="832" x2="973.62" y2="832" stroke="#000" stroke-width="2.6" stroke-linecap="butt"/>
<line x1="955.62" y1="840.5" x2="973.62" y2="840.5" stroke="#000" stroke-width="2.6" stroke-linecap="butt"/>
<line x1="678" y1="675.75" x2="728" y2="675.75" stroke="#000" stroke-width="1.6" stroke-linecap="butt"/>
<text x="703" y="671.26" font-size="31.72" stroke="#1c1c1c" stroke-width="0.5" text-anchor="middle" textLength="16.93" lengthAdjust="spacingAndGlyphs" fill="#1c1c1c">*</text>
<line x1="797" y1="674.25" x2="847.5" y2="674.25" stroke="#000" stroke-width="1.6" stroke-linecap="butt"/>
<text x="822.5" y="668" font-size="27.06" stroke="#1c1c1c" stroke-width="0.5" text-anchor="middle" textLength="14.44" lengthAdjust="spacingAndGlyphs" fill="#1c1c1c">#</text>
<line x1="916" y1="675.75" x2="968" y2="675.75" stroke="#000" stroke-width="1.6" stroke-linecap="butt"/>
<text x="942" y="670.76" font-size="31.72" stroke="#1c1c1c" stroke-width="0.5" text-anchor="middle" textLength="16.93" lengthAdjust="spacingAndGlyphs" fill="#1c1c1c">*</text>
<rect x="663.2" y="1038.7" width="19.9" height="18.6" fill="#fff" stroke="#000" stroke-width="2.4"/>
<text x="697.5" y="1057.5" font-size="29.2" stroke="#1c1c1c" stroke-width="0.5" text-anchor="start" textLength="93.93" lengthAdjust="spacingAndGlyphs" fill="#1c1c1c">Control</text>
<rect x="817.7" y="1038.7" width="18.9" height="18.6" fill="#00a651" stroke="#000" stroke-width="2.4"/>
<text x="851" y="1057.5" font-size="29.2" stroke="#1c1c1c" stroke-width="0.5" text-anchor="start" textLength="128.93" lengthAdjust="spacingAndGlyphs" fill="#1c1c1c">Low BCAA</text>
<text x="835" y="1099" font-size="27.06" stroke="#1c1c1c" stroke-width="0.5" text-anchor="middle" textLength="165.54" lengthAdjust="spacingAndGlyphs" fill="#1c1c1c">Diet p&lt;0.0001</text>
<line x1="1146.25" y1="670" x2="1146.25" y2="960" stroke="#000" stroke-width="2.8" stroke-linecap="butt"/>
<line x1="1139.25" y1="683.75" x2="1146.25" y2="683.75" stroke="#000" stroke-width="2.4" stroke-linecap="butt"/>
<text x="1135" y="693.05" font-size="27.06" stroke="#1c1c1c" stroke-width="0.5" text-anchor="end" textLength="44.1" lengthAdjust="spacingAndGlyphs" fill="#1c1c1c">100</text>
<line x1="1139.25" y1="752.69" x2="1146.25" y2="752.69" stroke="#000" stroke-width="2.4" stroke-linecap="butt"/>
<text x="1135" y="761.99" font-size="27.06" stroke="#1c1c1c" stroke-width="0.5" text-anchor="end" textLength="29.4" lengthAdjust="spacingAndGlyphs" fill="#1c1c1c">75</text>
<line x1="1139.25" y1="821.62" x2="1146.25" y2="821.62" stroke="#000" stroke-width="2.4" stroke-linecap="butt"/>
<text x="1135" y="830.92" font-size="27.06" stroke="#1c1c1c" stroke-width="0.5" text-anchor="end" textLength="29.4" lengthAdjust="spacingAndGlyphs" fill="#1c1c1c">50</text>
<line x1="1139.25" y1="890.56" x2="1146.25" y2="890.56" stroke="#000" stroke-width="2.4" stroke-linecap="butt"/>
<text x="1135" y="899.86" font-size="27.06" stroke="#1c1c1c" stroke-width="0.5" text-anchor="end" textLength="29.4" lengthAdjust="spacingAndGlyphs" fill="#1c1c1c">25</text>
<line x1="1139.25" y1="959.5" x2="1146.25" y2="959.5" stroke="#000" stroke-width="2.4" stroke-linecap="butt"/>
<text x="1135" y="968.8" font-size="27.06" stroke="#1c1c1c" stroke-width="0.5" text-anchor="end" textLength="14.7" lengthAdjust="spacingAndGlyphs" fill="#1c1c1c">0</text>
<line x1="1144.85" y1="960" x2="1578" y2="960" stroke="#000" stroke-width="2.8" stroke-linecap="butt"/>
<line x1="1146.25" y1="960" x2="1146.25" y2="967" stroke="#000" stroke-width="2.4" stroke-linecap="butt"/>
<line x1="1282.5" y1="960" x2="1282.5" y2="967" stroke="#000" stroke-width="2.4" stroke-linecap="butt"/>
<line x1="1418.75" y1="960" x2="1418.75" y2="967" stroke="#000" stroke-width="2.4" stroke-linecap="butt"/>
<line x1="1555" y1="960" x2="1555" y2="967" stroke="#000" stroke-width="2.4" stroke-linecap="butt"/>
<text x="1144.5" y="989.55" font-size="27.06" stroke="#1c1c1c" stroke-width="0.5" text-anchor="middle" textLength="14.7" lengthAdjust="spacingAndGlyphs" fill="#1c1c1c">0</text>
<text x="1281.75" y="989.55" font-size="27.06" stroke="#1c1c1c" stroke-width="0.5" text-anchor="middle" textLength="29.4" lengthAdjust="spacingAndGlyphs" fill="#1c1c1c">30</text>
<text x="1418.75" y="989.55" font-size="27.06" stroke="#1c1c1c" stroke-width="0.5" text-anchor="middle" textLength="29.4" lengthAdjust="spacingAndGlyphs" fill="#1c1c1c">60</text>
<text x="1555.5" y="989.55" font-size="27.06" stroke="#1c1c1c" stroke-width="0.5" text-anchor="middle" textLength="29.4" lengthAdjust="spacingAndGlyphs" fill="#1c1c1c">90</text>
<text x="1363.75" y="1020.5" font-size="29.86" font-weight="bold" text-anchor="middle" textLength="200.84" lengthAdjust="spacingAndGlyphs" fill="#1c1c1c">Time (minutes)</text>
<text x="1385" y="702" font-size="34.52" font-weight="bold" text-anchor="start" textLength="175" lengthAdjust="spacingAndGlyphs" fill="#1c1c1c">ITT (17 mo)</text>
<text transform="translate(1077,819.25) rotate(-90)" x="0" y="0" font-size="32.19" font-weight="bold" text-anchor="middle" textLength="376.5" lengthAdjust="spacingAndGlyphs" fill="#1c1c1c">Blood glucose (% of basal)</text>
<line x1="1213.75" y1="760" x2="1213.75" y2="793.75" stroke="#000" stroke-width="2.2" stroke-linecap="butt"/>
<line x1="1208.75" y1="760" x2="1218.75" y2="760" stroke="#000" stroke-width="2.2" stroke-linecap="butt"/>
<line x1="1208.75" y1="793.75" x2="1218.75" y2="793.75" stroke="#000" stroke-width="2.2" stroke-linecap="butt"/>
<line x1="1282.5" y1="812.5" x2="1282.5" y2="840" stroke="#000" stroke-width="2.2" stroke-linecap="butt"/>
<line x1="1277.5" y1="812.5" x2="1287.5" y2="812.5" stroke="#000" stroke-width="2.2" stroke-linecap="butt"/>
<line x1="1277.5" y1="840" x2="1287.5" y2="840" stroke="#000" stroke-width="2.2" stroke-linecap="butt"/>
<line x1="1555.5" y1="834.5" x2="1555.5" y2="858" stroke="#000" stroke-width="2.2" stroke-linecap="butt"/>
<line x1="1550.5" y1="834.5" x2="1560.5" y2="834.5" stroke="#000" stroke-width="2.2" stroke-linecap="butt"/>
<line x1="1550.5" y1="858" x2="1560.5" y2="858" stroke="#000" stroke-width="2.2" stroke-linecap="butt"/>
<line x1="1555.5" y1="855" x2="1555.5" y2="875.5" stroke="#000" stroke-width="2.2" stroke-linecap="butt"/>
<line x1="1550.5" y1="855" x2="1560.5" y2="855" stroke="#000" stroke-width="2.2" stroke-linecap="butt"/>
<line x1="1550.5" y1="875.5" x2="1560.5" y2="875.5" stroke="#000" stroke-width="2.2" stroke-linecap="butt"/>
<path d="M1146.25,683.75 L1213.75,768 L1282.5,835 L1350,862.5 L1418.75,873.75 L1555.5,846.25" fill="none" stroke="#000" stroke-width="6.2" stroke-linecap="butt" stroke-linejoin="round"/>
<path d="M1146.25,683.75 L1213.75,775 L1282.5,820 L1350,855 L1418.75,873.75 L1555.5,865" fill="none" stroke="#00a651" stroke-width="6.4" stroke-linecap="butt" stroke-linejoin="round"/>
<path d="M1146.25,675.15 L1154.85,683.75 L1146.25,692.35 L1137.65,683.75 Z" fill="#fff" stroke="#000" stroke-width="2.2" stroke-linejoin="miter"/>
<path d="M1213.75,759.4 L1222.35,768 L1213.75,776.6 L1205.15,768 Z" fill="#fff" stroke="#000" stroke-width="2.2" stroke-linejoin="miter"/>
<path d="M1282.5,826.4 L1291.1,835 L1282.5,843.6 L1273.9,835 Z" fill="#fff" stroke="#000" stroke-width="2.2" stroke-linejoin="miter"/>
<path d="M1350,853.9 L1358.6,862.5 L1350,871.1 L1341.4,862.5 Z" fill="#fff" stroke="#000" stroke-width="2.2" stroke-linejoin="miter"/>
<path d="M1418.75,865.15 L1427.35,873.75 L1418.75,882.35 L1410.15,873.75 Z" fill="#fff" stroke="#000" stroke-width="2.2" stroke-linejoin="miter"/>
<path d="M1555.5,837.65 L1564.1,846.25 L1555.5,854.85 L1546.9,846.25 Z" fill="#fff" stroke="#000" stroke-width="2.2" stroke-linejoin="miter"/>
<circle cx="1146.25" cy="683.75" r="7.6" fill="#00a651" stroke="#000" stroke-width="2.3"/>
<circle cx="1213.75" cy="775" r="7.6" fill="#00a651" stroke="#000" stroke-width="2.3"/>
<circle cx="1282.5" cy="820" r="7.6" fill="#00a651" stroke="#000" stroke-width="2.3"/>
<circle cx="1350" cy="855" r="7.6" fill="#00a651" stroke="#000" stroke-width="2.3"/>
<circle cx="1418.75" cy="873.75" r="7.6" fill="#00a651" stroke="#000" stroke-width="2.3"/>
<circle cx="1555.5" cy="865" r="7.6" fill="#00a651" stroke="#000" stroke-width="2.3"/>
<line x1="1160" y1="900" x2="1225" y2="900" stroke="#000" stroke-width="5.5" stroke-linecap="round"/>
<path d="M1193,890.5 L1202.5,900 L1193,909.5 L1183.5,900 Z" fill="#fff" stroke="#000" stroke-width="2.2" stroke-linejoin="miter"/>
<text x="1236" y="908.75" font-size="29.2" stroke="#1c1c1c" stroke-width="0.5" text-anchor="start" textLength="93.93" lengthAdjust="spacingAndGlyphs" fill="#1c1c1c">Control</text>
<line x1="1160" y1="938.75" x2="1226" y2="938.75" stroke="#00a651" stroke-width="5.5" stroke-linecap="round"/>
<circle cx="1193.75" cy="938.75" r="9.5" fill="#00a651" stroke="#000" stroke-width="2.3"/>
<text x="1237.5" y="947.5" font-size="29.2" stroke="#1c1c1c" stroke-width="0.5" text-anchor="start" textLength="128.93" lengthAdjust="spacingAndGlyphs" fill="#1c1c1c">Low BCAA</text>
<line x1="1653.75" y1="675" x2="1653.75" y2="962.5" stroke="#000" stroke-width="2.8" stroke-linecap="butt"/>
<line x1="1645.75" y1="742.5" x2="1653.75" y2="742.5" stroke="#000" stroke-width="2.4" stroke-linecap="butt"/>
<text x="1643.75" y="751.8" font-size="27.06" stroke="#1c1c1c" stroke-width="0.5" text-anchor="end" textLength="14.7" lengthAdjust="spacingAndGlyphs" fill="#1c1c1c">5</text>
<line x1="1645.75" y1="962.5" x2="1653.75" y2="962.5" stroke="#000" stroke-width="2.4" stroke-linecap="butt"/>
<text x="1643.75" y="971.8" font-size="27.06" stroke="#1c1c1c" stroke-width="0.5" text-anchor="end" textLength="14.7" lengthAdjust="spacingAndGlyphs" fill="#1c1c1c">0</text>
<line x1="1652.35" y1="962.5" x2="1758.75" y2="962.5" stroke="#000" stroke-width="2.8" stroke-linecap="butt"/>
<line x1="1653.75" y1="962.5" x2="1653.75" y2="969.5" stroke="#000" stroke-width="2.4" stroke-linecap="butt"/>
<line x1="1706.25" y1="962.5" x2="1706.25" y2="969.5" stroke="#000" stroke-width="2.4" stroke-linecap="butt"/>
<line x1="1758.75" y1="962.5" x2="1758.75" y2="969.5" stroke="#000" stroke-width="2.4" stroke-linecap="butt"/>
<rect x="1666.5" y="776.5" width="32" height="186" fill="#fff" stroke="#000" stroke-width="3"/>
<rect x="1712.5" y="777.75" width="33.5" height="184.75" fill="#00a651" stroke="#000" stroke-width="3"/>
<circle cx="1682" cy="716.25" r="2.1" fill="none" stroke="#6e6e6e" stroke-width="1.2" stroke-opacity="0.6"/>
<circle cx="1682" cy="722.5" r="2.1" fill="none" stroke="#6e6e6e" stroke-width="1.2" stroke-opacity="0.6"/>
<circle cx="1678.75" cy="727.5" r="2.1" fill="none" stroke="#6e6e6e" stroke-width="1.2" stroke-opacity="0.6"/>
<circle cx="1685" cy="727.5" r="2.1" fill="none" stroke="#6e6e6e" stroke-width="1.2" stroke-opacity="0.6"/>
<circle cx="1672.5" cy="739.5" r="2.1" fill="none" stroke="#6e6e6e" stroke-width="1.2" stroke-opacity="0.6"/>
<circle cx="1678.75" cy="742.5" r="2.1" fill="none" stroke="#6e6e6e" stroke-width="1.2" stroke-opacity="0.6"/>
<circle cx="1685" cy="742" r="2.1" fill="none" stroke="#6e6e6e" stroke-width="1.2" stroke-opacity="0.6"/>
<circle cx="1691.25" cy="743.75" r="2.1" fill="none" stroke="#6e6e6e" stroke-width="1.2" stroke-opacity="0.6"/>
<circle cx="1675.75" cy="778.75" r="2.1" fill="none" stroke="#6e6e6e" stroke-width="1.2" stroke-opacity="0.6"/>
<circle cx="1682" cy="780" r="2.1" fill="none" stroke="#6e6e6e" stroke-width="1.2" stroke-opacity="0.6"/>
<circle cx="1682" cy="790" r="2.1" fill="none" stroke="#6e6e6e" stroke-width="1.2" stroke-opacity="0.6"/>
<circle cx="1682" cy="805" r="2.1" fill="none" stroke="#6e6e6e" stroke-width="1.2" stroke-opacity="0.6"/>
<circle cx="1672.5" cy="816.25" r="2.1" fill="none" stroke="#6e6e6e" stroke-width="1.2" stroke-opacity="0.6"/>
<circle cx="1678.75" cy="820" r="2.1" fill="none" stroke="#6e6e6e" stroke-width="1.2" stroke-opacity="0.6"/>
<circle cx="1685" cy="819.5" r="2.1" fill="none" stroke="#6e6e6e" stroke-width="1.2" stroke-opacity="0.6"/>
<circle cx="1678.75" cy="837.5" r="2.1" fill="none" stroke="#6e6e6e" stroke-width="1.2" stroke-opacity="0.6"/>
<circle cx="1685" cy="833.75" r="2.1" fill="none" stroke="#6e6e6e" stroke-width="1.2" stroke-opacity="0.6"/>
<circle cx="1729.25" cy="679.25" r="2.1" fill="none" stroke="#6e6e6e" stroke-width="1.2" stroke-opacity="0.6"/>
<circle cx="1729.25" cy="733" r="2.1" fill="none" stroke="#6e6e6e" stroke-width="1.2" stroke-opacity="0.6"/>
<circle cx="1723" cy="748.75" r="2.1" fill="none" stroke="#6e6e6e" stroke-width="1.2" stroke-opacity="0.6"/>
<circle cx="1729.25" cy="751.25" r="2.1" fill="none" stroke="#6e6e6e" stroke-width="1.2" stroke-opacity="0.6"/>
<circle cx="1735.5" cy="750" r="2.1" fill="none" stroke="#6e6e6e" stroke-width="1.2" stroke-opacity="0.6"/>
<circle cx="1717.5" cy="786.25" r="2.1" fill="none" stroke="#6e6e6e" stroke-width="1.2" stroke-opacity="0.6"/>
<circle cx="1723.75" cy="788.75" r="2.1" fill="none" stroke="#6e6e6e" stroke-width="1.2" stroke-opacity="0.6"/>
<circle cx="1730" cy="788.75" r="2.1" fill="none" stroke="#6e6e6e" stroke-width="1.2" stroke-opacity="0.6"/>
<circle cx="1736.25" cy="787.5" r="2.1" fill="none" stroke="#6e6e6e" stroke-width="1.2" stroke-opacity="0.6"/>
<circle cx="1742.5" cy="787.5" r="2.1" fill="none" stroke="#6e6e6e" stroke-width="1.2" stroke-opacity="0.6"/>
<circle cx="1729.25" cy="813.75" r="2.1" fill="none" stroke="#6e6e6e" stroke-width="1.2" stroke-opacity="0.6"/>
<circle cx="1729.25" cy="821.25" r="2.1" fill="none" stroke="#6e6e6e" stroke-width="1.2" stroke-opacity="0.6"/>
<circle cx="1729.25" cy="838.75" r="2.1" fill="none" stroke="#6e6e6e" stroke-width="1.2" stroke-opacity="0.6"/>
<line x1="1682.5" y1="763.75" x2="1682.5" y2="782" stroke="#000" stroke-width="2.6" stroke-linecap="butt"/>
<line x1="1673.5" y1="763.75" x2="1691.5" y2="763.75" stroke="#000" stroke-width="2.6" stroke-linecap="butt"/>
<line x1="1673.5" y1="782" x2="1691.5" y2="782" stroke="#000" stroke-width="2.6" stroke-linecap="butt"/>
<line x1="1729.25" y1="763.75" x2="1729.25" y2="784.5" stroke="#000" stroke-width="2.6" stroke-linecap="butt"/>
<line x1="1720.25" y1="763.75" x2="1738.25" y2="763.75" stroke="#000" stroke-width="2.6" stroke-linecap="butt"/>
<line x1="1720.25" y1="784.5" x2="1738.25" y2="784.5" stroke="#000" stroke-width="2.6" stroke-linecap="butt"/>
<text transform="translate(1615,819.25) rotate(-90)" x="0" y="0" font-size="32.19" font-weight="bold" text-anchor="middle" textLength="153.5" lengthAdjust="spacingAndGlyphs" fill="#1c1c1c">AUC (x10³)</text>
<text transform="translate(1691,987) rotate(-45)" x="0" y="0" font-size="29.39" stroke="#1c1c1c" stroke-width="0.5" text-anchor="end" textLength="94.53" lengthAdjust="spacingAndGlyphs" fill="#1c1c1c">Control</text>
<text transform="translate(1747,992) rotate(-45)" x="0" y="0" font-size="29.39" stroke="#1c1c1c" stroke-width="0.5" text-anchor="end" textLength="129.75" lengthAdjust="spacingAndGlyphs" fill="#1c1c1c">Low BCAA</text>
<line x1="93.75" y1="1256.25" x2="93.75" y2="1513" stroke="#000" stroke-width="2.8" stroke-linecap="butt"/>
<line x1="93.75" y1="1528" x2="93.75" y2="1547.5" stroke="#000" stroke-width="2.8" stroke-linecap="butt"/>
<line x1="87.25" y1="1256.25" x2="93.75" y2="1256.25" stroke="#000" stroke-width="2.4" stroke-linecap="butt"/>
<text x="82.5" y="1265.55" font-size="27.06" stroke="#1c1c1c" stroke-width="0.5" text-anchor="end" textLength="29.4" lengthAdjust="spacingAndGlyphs" fill="#1c1c1c">30</text>
<line x1="87.25" y1="1378.75" x2="93.75" y2="1378.75" stroke="#000" stroke-width="2.4" stroke-linecap="butt"/>
<text x="82.5" y="1388.05" font-size="27.06" stroke="#1c1c1c" stroke-width="0.5" text-anchor="end" textLength="29.4" lengthAdjust="spacingAndGlyphs" fill="#1c1c1c">26</text>
<line x1="87.25" y1="1502.5" x2="93.75" y2="1502.5" stroke="#000" stroke-width="2.4" stroke-linecap="butt"/>
<text x="82.5" y="1511.8" font-size="27.06" stroke="#1c1c1c" stroke-width="0.5" text-anchor="end" textLength="29.4" lengthAdjust="spacingAndGlyphs" fill="#1c1c1c">22</text>
<line x1="87.25" y1="1546.25" x2="93.75" y2="1546.25" stroke="#000" stroke-width="2.4" stroke-linecap="butt"/>
<text x="82.5" y="1555.55" font-size="27.06" stroke="#1c1c1c" stroke-width="0.5" text-anchor="end" textLength="14.7" lengthAdjust="spacingAndGlyphs" fill="#1c1c1c">0</text>
<line x1="88.5" y1="1517.5" x2="99" y2="1509" stroke="#000" stroke-width="2.6" stroke-linecap="butt"/>
<line x1="89.5" y1="1532.5" x2="99" y2="1524" stroke="#000" stroke-width="2.6" stroke-linecap="butt"/>
<line x1="92.35" y1="1547.5" x2="418" y2="1547.5" stroke="#000" stroke-width="2.8" stroke-linecap="butt"/>
<line x1="93.75" y1="1547.5" x2="93.75" y2="1555.5" stroke="#000" stroke-width="2.4" stroke-linecap="butt"/>
<line x1="237.5" y1="1547.5" x2="237.5" y2="1555.5" stroke="#000" stroke-width="2.4" stroke-linecap="butt"/>
<line x1="381.25" y1="1547.5" x2="381.25" y2="1555.5" stroke="#000" stroke-width="2.4" stroke-linecap="butt"/>
<text x="93" y="1579.55" font-size="27.06" stroke="#1c1c1c" stroke-width="0.5" text-anchor="middle" textLength="29.4" lengthAdjust="spacingAndGlyphs" fill="#1c1c1c">16</text>
<text x="237.5" y="1579.55" font-size="27.06" stroke="#1c1c1c" stroke-width="0.5" text-anchor="middle" textLength="29.4" lengthAdjust="spacingAndGlyphs" fill="#1c1c1c">20</text>
<text x="382" y="1579.55" font-size="27.06" stroke="#1c1c1c" stroke-width="0.5" text-anchor="middle" textLength="29.4" lengthAdjust="spacingAndGlyphs" fill="#1c1c1c">24</text>
<text x="252.5" y="1616.5" font-size="29.86" font-weight="bold" text-anchor="middle" textLength="178.65" lengthAdjust="spacingAndGlyphs" fill="#1c1c1c">Age (months)</text>
<text x="260.4" y="1661.25" font-size="27.06" stroke="#1c1c1c" stroke-width="0.5" text-anchor="middle" textLength="161.67" lengthAdjust="spacingAndGlyphs" fill="#1c1c1c">Age p&lt;0.0001</text>
<text x="260" y="1693.75" font-size="27.06" stroke="#1c1c1c" stroke-width="0.5" text-anchor="middle" textLength="235.83" lengthAdjust="spacingAndGlyphs" fill="#1c1c1c">Age x Diet p&lt;0.0001</text>
<text transform="translate(41.5,1402) rotate(-90)" x="0" y="0" font-size="32.19" font-weight="bold" text-anchor="middle" textLength="193.75" lengthAdjust="spacingAndGlyphs" fill="#1c1c1c">Lean mass (g)</text>
<line x1="93.75" y1="1362.5" x2="93.75" y2="1382.5" stroke="#000" stroke-width="2.2" stroke-linecap="butt"/>
<line x1="91" y1="1362.5" x2="96.5" y2="1362.5" stroke="#000" stroke-width="2.2" stroke-linecap="butt"/>
<line x1="91" y1="1382.5" x2="96.5" y2="1382.5" stroke="#000" stroke-width="2.2" stroke-linecap="butt"/>
<line x1="202.5" y1="1367.5" x2="202.5" y2="1405" stroke="#000" stroke-width="2.2" stroke-linecap="butt"/>
<line x1="199.75" y1="1367.5" x2="205.25" y2="1367.5" stroke="#000" stroke-width="2.2" stroke-linecap="butt"/>
<line x1="199.75" y1="1405" x2="205.25" y2="1405" stroke="#000" stroke-width="2.2" stroke-linecap="butt"/>
<line x1="310" y1="1354.5" x2="310" y2="1391" stroke="#000" stroke-width="2.2" stroke-linecap="butt"/>
<line x1="307.25" y1="1354.5" x2="312.75" y2="1354.5" stroke="#000" stroke-width="2.2" stroke-linecap="butt"/>
<line x1="307.25" y1="1391" x2="312.75" y2="1391" stroke="#000" stroke-width="2.2" stroke-linecap="butt"/>
<line x1="382" y1="1378.75" x2="382" y2="1420" stroke="#000" stroke-width="2.2" stroke-linecap="butt"/>
<line x1="379.25" y1="1378.75" x2="384.75" y2="1378.75" stroke="#000" stroke-width="2.2" stroke-linecap="butt"/>
<line x1="379.25" y1="1420" x2="384.75" y2="1420" stroke="#000" stroke-width="2.2" stroke-linecap="butt"/>
<line x1="93" y1="1307.5" x2="93" y2="1337.5" stroke="#000" stroke-width="2.2" stroke-linecap="butt"/>
<line x1="90.25" y1="1307.5" x2="95.75" y2="1307.5" stroke="#000" stroke-width="2.2" stroke-linecap="butt"/>
<line x1="90.25" y1="1337.5" x2="95.75" y2="1337.5" stroke="#000" stroke-width="2.2" stroke-linecap="butt"/>
<line x1="202" y1="1401" x2="202" y2="1425" stroke="#000" stroke-width="2.2" stroke-linecap="butt"/>
<line x1="199.25" y1="1401" x2="204.75" y2="1401" stroke="#000" stroke-width="2.2" stroke-linecap="butt"/>
<line x1="199.25" y1="1425" x2="204.75" y2="1425" stroke="#000" stroke-width="2.2" stroke-linecap="butt"/>
<line x1="309.5" y1="1385" x2="309.5" y2="1409" stroke="#000" stroke-width="2.2" stroke-linecap="butt"/>
<line x1="306.75" y1="1385" x2="312.25" y2="1385" stroke="#000" stroke-width="2.2" stroke-linecap="butt"/>
<line x1="306.75" y1="1409" x2="312.25" y2="1409" stroke="#000" stroke-width="2.2" stroke-linecap="butt"/>
<line x1="381.25" y1="1407.5" x2="381.25" y2="1431" stroke="#000" stroke-width="2.2" stroke-linecap="butt"/>
<line x1="378.5" y1="1407.5" x2="384" y2="1407.5" stroke="#000" stroke-width="2.2" stroke-linecap="butt"/>
<line x1="378.5" y1="1431" x2="384" y2="1431" stroke="#000" stroke-width="2.2" stroke-linecap="butt"/>
<path d="M93,1322.5 L202,1412 L309.5,1395.5 L381.25,1418" fill="none" stroke="#f26522" stroke-width="4.4" stroke-linecap="butt" stroke-linejoin="round"/>
<path d="M93.75,1373 L202.5,1387 L310,1373 L382,1402" fill="none" stroke="#000" stroke-width="4.4" stroke-linecap="butt" stroke-linejoin="round"/>
<path d="M93.75,1366.1 L99.35,1373 L93.75,1379.9 L88.15,1373 Z" fill="#404040" stroke="#000" stroke-width="2.1" stroke-linejoin="miter"/>
<path d="M202.5,1380.1 L208.1,1387 L202.5,1393.9 L196.9,1387 Z" fill="#404040" stroke="#000" stroke-width="2.1" stroke-linejoin="miter"/>
<path d="M310,1366.1 L315.6,1373 L310,1379.9 L304.4,1373 Z" fill="#404040" stroke="#000" stroke-width="2.1" stroke-linejoin="miter"/>
<path d="M382,1395.1 L387.6,1402 L382,1408.9 L376.4,1402 Z" fill="#404040" stroke="#000" stroke-width="2.1" stroke-linejoin="miter"/>
<ellipse cx="93" cy="1322.5" rx="5.2" ry="6.2" fill="#f26522" stroke="#000" stroke-width="2.5"/>
<ellipse cx="202" cy="1412" rx="5.2" ry="6.2" fill="#f26522" stroke="#000" stroke-width="2.5"/>
<ellipse cx="309.5" cy="1395.5" rx="5.2" ry="6.2" fill="#f26522" stroke="#000" stroke-width="2.5"/>
<ellipse cx="381.25" cy="1418" rx="5.2" ry="6.2" fill="#f26522" stroke="#000" stroke-width="2.5"/>
<text x="105" y="1290.26" font-size="31.72" stroke="#1c1c1c" stroke-width="0.5" text-anchor="middle" textLength="16.93" lengthAdjust="spacingAndGlyphs" fill="#1c1c1c">*</text>
<line x1="107.5" y1="1464.5" x2="172.5" y2="1464.5" stroke="#000" stroke-width="5.5" stroke-linecap="round"/>
<path d="M141.25,1455.5 L150.25,1464.5 L141.25,1473.5 L132.25,1464.5 Z" fill="#404040" stroke="#000" stroke-width="2.2" stroke-linejoin="miter"/>
<text x="185" y="1472.5" font-size="29.2" stroke="#1c1c1c" stroke-width="0.5" text-anchor="start" textLength="93.93" lengthAdjust="spacingAndGlyphs" fill="#1c1c1c">Control</text>
<line x1="107.5" y1="1503.75" x2="173" y2="1503.75" stroke="#f26522" stroke-width="5.5" stroke-linecap="round"/>
<circle cx="142" cy="1503.75" r="8.2" fill="#f26522" stroke="#000" stroke-width="2.3"/>
<text x="185" y="1512.5" font-size="29.2" stroke="#1c1c1c" stroke-width="0.5" text-anchor="start" textLength="128.93" lengthAdjust="spacingAndGlyphs" fill="#1c1c1c">Low BCAA</text>
<line x1="543.25" y1="1252.5" x2="543.25" y2="1547.5" stroke="#000" stroke-width="2.8" stroke-linecap="butt"/>
<line x1="536.25" y1="1252.5" x2="543.25" y2="1252.5" stroke="#000" stroke-width="2.4" stroke-linecap="butt"/>
<text x="530" y="1261.8" font-size="27.06" stroke="#1c1c1c" stroke-width="0.5" text-anchor="end" textLength="29.4" lengthAdjust="spacingAndGlyphs" fill="#1c1c1c">15</text>
<line x1="536.25" y1="1351.25" x2="543.25" y2="1351.25" stroke="#000" stroke-width="2.4" stroke-linecap="butt"/>
<text x="530" y="1360.55" font-size="27.06" stroke="#1c1c1c" stroke-width="0.5" text-anchor="end" textLength="29.4" lengthAdjust="spacingAndGlyphs" fill="#1c1c1c">10</text>
<line x1="536.25" y1="1449.5" x2="543.25" y2="1449.5" stroke="#000" stroke-width="2.4" stroke-linecap="butt"/>
<text x="530" y="1458.8" font-size="27.06" stroke="#1c1c1c" stroke-width="0.5" text-anchor="end" textLength="14.7" lengthAdjust="spacingAndGlyphs" fill="#1c1c1c">5</text>
<line x1="536.25" y1="1547.5" x2="543.25" y2="1547.5" stroke="#000" stroke-width="2.4" stroke-linecap="butt"/>
<text x="530" y="1556.8" font-size="27.06" stroke="#1c1c1c" stroke-width="0.5" text-anchor="end" textLength="14.7" lengthAdjust="spacingAndGlyphs" fill="#1c1c1c">0</text>
<line x1="541.85" y1="1547.5" x2="805" y2="1547.5" stroke="#000" stroke-width="2.8" stroke-linecap="butt"/>
<line x1="543.25" y1="1547.5" x2="543.25" y2="1558.5" stroke="#000" stroke-width="2.4" stroke-linecap="butt"/>
<line x1="632.5" y1="1547.5" x2="632.5" y2="1558.5" stroke="#000" stroke-width="2.4" stroke-linecap="butt"/>
<line x1="717.5" y1="1547.5" x2="717.5" y2="1558.5" stroke="#000" stroke-width="2.4" stroke-linecap="butt"/>
<line x1="805" y1="1547.5" x2="805" y2="1558.5" stroke="#000" stroke-width="2.4" stroke-linecap="butt"/>
<text x="588.75" y="1579.55" font-size="27.06" stroke="#1c1c1c" stroke-width="0.5" text-anchor="middle" textLength="29.4" lengthAdjust="spacingAndGlyphs" fill="#1c1c1c">20</text>
<text x="675" y="1579.55" font-size="27.06" stroke="#1c1c1c" stroke-width="0.5" text-anchor="middle" textLength="29.4" lengthAdjust="spacingAndGlyphs" fill="#1c1c1c">25</text>
<text x="761.25" y="1579.55" font-size="27.06" stroke="#1c1c1c" stroke-width="0.5" text-anchor="middle" textLength="29.4" lengthAdjust="spacingAndGlyphs" fill="#1c1c1c">27</text>
<text x="674.4" y="1616" font-size="29.86" font-weight="bold" text-anchor="middle" textLength="178.65" lengthAdjust="spacingAndGlyphs" fill="#1c1c1c">Age (months)</text>
<text transform="translate(486,1400.6) rotate(-90)" x="0" y="0" font-size="32.19" font-weight="bold" text-anchor="middle" textLength="271.31" lengthAdjust="spacingAndGlyphs" fill="#1c1c1c">Food cons. (kcal/d)</text>
<rect x="554.1" y="1331.1" width="28.05" height="216.4" fill="#404040" stroke="#000" stroke-width="3.2"/>
<circle cx="567.5" cy="1310" r="4.6" fill="none" stroke="#6e6e6e" stroke-width="1.7" stroke-opacity="0.68"/>
<circle cx="567.5" cy="1340" r="4.6" fill="none" stroke="#6e6e6e" stroke-width="1.7" stroke-opacity="0.68"/>
<line x1="568.12" y1="1313" x2="568.12" y2="1338.75" stroke="#000" stroke-width="2.6" stroke-linecap="butt"/>
<line x1="559.62" y1="1313" x2="576.62" y2="1313" stroke="#000" stroke-width="2.6" stroke-linecap="butt"/>
<line x1="559.62" y1="1338.75" x2="576.62" y2="1338.75" stroke="#000" stroke-width="2.6" stroke-linecap="butt"/>
<rect x="593.6" y="1344.1" width="27.8" height="203.4" fill="#f26522" stroke="#000" stroke-width="3.2"/>
<circle cx="607" cy="1325" r="4.6" fill="none" stroke="#6e6e6e" stroke-width="1.7" stroke-opacity="0.68"/>
<circle cx="607" cy="1355" r="4.6" fill="none" stroke="#6e6e6e" stroke-width="1.7" stroke-opacity="0.68"/>
<line x1="607.5" y1="1321.25" x2="607.5" y2="1357" stroke="#000" stroke-width="2.6" stroke-linecap="butt"/>
<line x1="599" y1="1321.25" x2="616" y2="1321.25" stroke="#000" stroke-width="2.6" stroke-linecap="butt"/>
<line x1="599" y1="1357" x2="616" y2="1357" stroke="#000" stroke-width="2.6" stroke-linecap="butt"/>
<rect x="640.6" y="1363.6" width="27.8" height="183.9" fill="#404040" stroke="#000" stroke-width="3.2"/>
<circle cx="654.5" cy="1332.5" r="4.6" fill="none" stroke="#6e6e6e" stroke-width="1.7" stroke-opacity="0.68"/>
<circle cx="646" cy="1366" r="4.6" fill="none" stroke="#6e6e6e" stroke-width="1.7" stroke-opacity="0.68"/>
<line x1="654.5" y1="1345" x2="654.5" y2="1372.5" stroke="#000" stroke-width="2.6" stroke-linecap="butt"/>
<line x1="646" y1="1345" x2="663" y2="1345" stroke="#000" stroke-width="2.6" stroke-linecap="butt"/>
<line x1="646" y1="1372.5" x2="663" y2="1372.5" stroke="#000" stroke-width="2.6" stroke-linecap="butt"/>
<rect x="679.6" y="1362.85" width="28.3" height="184.65" fill="#f26522" stroke="#000" stroke-width="3.2"/>
<circle cx="686" cy="1350.5" r="4.6" fill="none" stroke="#6e6e6e" stroke-width="1.7" stroke-opacity="0.68"/>
<circle cx="684" cy="1357" r="4.6" fill="none" stroke="#6e6e6e" stroke-width="1.7" stroke-opacity="0.68"/>
<circle cx="702" cy="1358" r="4.6" fill="none" stroke="#6e6e6e" stroke-width="1.7" stroke-opacity="0.68"/>
<line x1="693.75" y1="1353.75" x2="693.75" y2="1361.25" stroke="#000" stroke-width="2.6" stroke-linecap="butt"/>
<line x1="685.25" y1="1353.75" x2="702.25" y2="1353.75" stroke="#000" stroke-width="2.6" stroke-linecap="butt"/>
<line x1="685.25" y1="1361.25" x2="702.25" y2="1361.25" stroke="#000" stroke-width="2.6" stroke-linecap="butt"/>
<rect x="727.1" y="1364.1" width="28.3" height="183.4" fill="#404040" stroke="#000" stroke-width="3.2"/>
<circle cx="741" cy="1340" r="4.6" fill="none" stroke="#6e6e6e" stroke-width="1.7" stroke-opacity="0.68"/>
<circle cx="749" cy="1361" r="4.6" fill="none" stroke="#6e6e6e" stroke-width="1.7" stroke-opacity="0.68"/>
<line x1="741.25" y1="1349.5" x2="741.25" y2="1368.75" stroke="#000" stroke-width="2.6" stroke-linecap="butt"/>
<line x1="732.75" y1="1349.5" x2="749.75" y2="1349.5" stroke="#000" stroke-width="2.6" stroke-linecap="butt"/>
<line x1="732.75" y1="1368.75" x2="749.75" y2="1368.75" stroke="#000" stroke-width="2.6" stroke-linecap="butt"/>
<rect x="767.1" y="1353.6" width="28.3" height="193.9" fill="#f26522" stroke="#000" stroke-width="3.2"/>
<circle cx="780.5" cy="1326" r="4.6" fill="none" stroke="#6e6e6e" stroke-width="1.7" stroke-opacity="0.68"/>
<circle cx="773" cy="1362" r="4.6" fill="none" stroke="#6e6e6e" stroke-width="1.7" stroke-opacity="0.68"/>
<line x1="781.25" y1="1336.25" x2="781.25" y2="1361.25" stroke="#000" stroke-width="2.6" stroke-linecap="butt"/>
<line x1="772.75" y1="1336.25" x2="789.75" y2="1336.25" stroke="#000" stroke-width="2.6" stroke-linecap="butt"/>
<line x1="772.75" y1="1361.25" x2="789.75" y2="1361.25" stroke="#000" stroke-width="2.6" stroke-linecap="butt"/>
<rect x="512.7" y="1639.7" width="19.4" height="20.1" fill="#404040" stroke="#000" stroke-width="2.4"/>
<text x="546" y="1660.25" font-size="29.2" stroke="#1c1c1c" stroke-width="0.5" text-anchor="start" textLength="93.93" lengthAdjust="spacingAndGlyphs" fill="#1c1c1c">Control</text>
<rect x="665.7" y="1639.7" width="18.9" height="20.1" fill="#f26522" stroke="#000" stroke-width="2.4"/>
<text x="700" y="1660.25" font-size="29.2" stroke="#1c1c1c" stroke-width="0.5" text-anchor="start" textLength="128.93" lengthAdjust="spacingAndGlyphs" fill="#1c1c1c">Low BCAA</text>
<line x1="927.5" y1="1256.25" x2="927.5" y2="1547.5" stroke="#000" stroke-width="2.8" stroke-linecap="butt"/>
<line x1="919.5" y1="1256.3" x2="927.5" y2="1256.3" stroke="#000" stroke-width="2.4" stroke-linecap="butt"/>
<text x="912.5" y="1265.6" font-size="27.06" stroke="#1c1c1c" stroke-width="0.5" text-anchor="end" textLength="36.72" lengthAdjust="spacingAndGlyphs" fill="#1c1c1c">0.6</text>
<line x1="919.5" y1="1388.4" x2="927.5" y2="1388.4" stroke="#000" stroke-width="2.4" stroke-linecap="butt"/>
<text x="912.5" y="1397.7" font-size="27.06" stroke="#1c1c1c" stroke-width="0.5" text-anchor="end" textLength="36.72" lengthAdjust="spacingAndGlyphs" fill="#1c1c1c">0.5</text>
<line x1="919.5" y1="1520.5" x2="927.5" y2="1520.5" stroke="#000" stroke-width="2.4" stroke-linecap="butt"/>
<text x="912.5" y="1529.8" font-size="27.06" stroke="#1c1c1c" stroke-width="0.5" text-anchor="end" textLength="36.72" lengthAdjust="spacingAndGlyphs" fill="#1c1c1c">0.4</text>
<line x1="926.1" y1="1547.5" x2="1273.75" y2="1547.5" stroke="#000" stroke-width="2.8" stroke-linecap="butt"/>
<line x1="957" y1="1547.5" x2="957" y2="1555" stroke="#000" stroke-width="2.4" stroke-linecap="butt"/>
<line x1="1098.75" y1="1547.5" x2="1098.75" y2="1555" stroke="#000" stroke-width="2.4" stroke-linecap="butt"/>
<line x1="1243" y1="1547.5" x2="1243" y2="1555" stroke="#000" stroke-width="2.4" stroke-linecap="butt"/>
<text x="955" y="1579.55" font-size="27.06" stroke="#1c1c1c" stroke-width="0.5" text-anchor="middle" textLength="29.4" lengthAdjust="spacingAndGlyphs" fill="#1c1c1c">30</text>
<text x="1097" y="1579.55" font-size="27.06" stroke="#1c1c1c" stroke-width="0.5" text-anchor="middle" textLength="29.4" lengthAdjust="spacingAndGlyphs" fill="#1c1c1c">35</text>
<text x="1243.75" y="1579.55" font-size="27.06" stroke="#1c1c1c" stroke-width="0.5" text-anchor="middle" textLength="29.4" lengthAdjust="spacingAndGlyphs" fill="#1c1c1c">40</text>
<text x="1107.9" y="1617" font-size="29.86" font-weight="bold" text-anchor="middle" textLength="137.48" lengthAdjust="spacingAndGlyphs" fill="#1c1c1c">Weight (g)</text>
<text transform="translate(866,1401.9) rotate(-90)" x="0" y="0" font-size="32.19" font-weight="bold" text-anchor="middle" textLength="198.25" lengthAdjust="spacingAndGlyphs" fill="#1c1c1c">Heat (kcal/hr)</text>
<text x="1151.25" y="1532.5" font-size="34.52" font-weight="bold" text-anchor="start" textLength="118.75" lengthAdjust="spacingAndGlyphs" fill="#1c1c1c">(25 mo)</text>
<path d="M941.25,1387.5 C956.04,1387.5 1006.88,1388.75 1030,1387.5 C1053.12,1386.25 1063.33,1383.75 1080,1380 C1096.67,1376.25 1113.33,1370 1130,1365 C1146.67,1360 1160.21,1355.83 1180,1350 C1199.79,1344.17 1237.29,1333.33 1248.75,1330" fill="none" stroke="#222" stroke-width="2.3" stroke-linecap="round" stroke-linejoin="round" stroke-dasharray="0.1 5.6"/>
<path d="M942.5,1481.25 C949.58,1478.04 970.42,1467.21 985,1462 C999.58,1456.79 1014.17,1454.33 1030,1450 C1045.83,1445.67 1063.33,1439.42 1080,1436 C1096.67,1432.58 1113.33,1430.71 1130,1429.5 C1146.67,1428.29 1160.21,1428.88 1180,1428.75 C1199.79,1428.62 1237.29,1428.75 1248.75,1428.75" fill="none" stroke="#222" stroke-width="2.3" stroke-linecap="round" stroke-linejoin="round" stroke-dasharray="0.1 5.6"/>
<path d="M936,1337 C943.33,1339.58 964.33,1348.75 980,1352.5 C995.67,1356.25 1013.33,1359.92 1030,1359.5 C1046.67,1359.08 1063.33,1355.33 1080,1350 C1096.67,1344.67 1111.88,1335.92 1130,1327.5 C1148.12,1319.08 1178.96,1304.17 1188.75,1299.5" fill="none" stroke="#ee7a45" stroke-width="2.4" stroke-linecap="round" stroke-linejoin="round" stroke-dasharray="0.1 5.6"/>
<path d="M936,1456.25 C943.33,1452.08 964.33,1437.71 980,1431.25 C995.67,1424.79 1013.33,1419.79 1030,1417.5 C1046.67,1415.21 1063.33,1415.42 1080,1417.5 C1096.67,1419.58 1111.88,1424.25 1130,1430 C1148.12,1435.75 1178.96,1448.33 1188.75,1452" fill="none" stroke="#ee7a45" stroke-width="2.4" stroke-linecap="round" stroke-linejoin="round" stroke-dasharray="0.1 5.6"/>
<path d="M942,1422.55 L948.2,1428.75 L942,1434.95 L935.8,1428.75 Z" fill="#404040" stroke="#000" stroke-width="1.8" stroke-linejoin="miter"/>
<path d="M950.5,1430.05 L956.7,1436.25 L950.5,1442.45 L944.3,1436.25 Z" fill="#404040" stroke="#000" stroke-width="1.8" stroke-linejoin="miter"/>
<path d="M971.25,1422.55 L977.45,1428.75 L971.25,1434.95 L965.05,1428.75 Z" fill="#404040" stroke="#000" stroke-width="1.8" stroke-linejoin="miter"/>
<path d="M993.75,1430.05 L999.95,1436.25 L993.75,1442.45 L987.55,1436.25 Z" fill="#404040" stroke="#000" stroke-width="1.8" stroke-linejoin="miter"/>
<path d="M1015.5,1396.3 L1021.7,1402.5 L1015.5,1408.7 L1009.3,1402.5 Z" fill="#404040" stroke="#000" stroke-width="1.8" stroke-linejoin="miter"/>
<path d="M1042.5,1378.8 L1048.7,1385 L1042.5,1391.2 L1036.3,1385 Z" fill="#404040" stroke="#000" stroke-width="1.8" stroke-linejoin="miter"/>
<path d="M1113.75,1415.05 L1119.95,1421.25 L1113.75,1427.45 L1107.55,1421.25 Z" fill="#404040" stroke="#000" stroke-width="1.8" stroke-linejoin="miter"/>
<path d="M1128,1466.3 L1134.2,1472.5 L1128,1478.7 L1121.8,1472.5 Z" fill="#404040" stroke="#000" stroke-width="1.8" stroke-linejoin="miter"/>
<path d="M1139.5,1398.3 L1145.7,1404.5 L1139.5,1410.7 L1133.3,1404.5 Z" fill="#404040" stroke="#000" stroke-width="1.8" stroke-linejoin="miter"/>
<path d="M1151.25,1400.8 L1157.45,1407 L1151.25,1413.2 L1145.05,1407 Z" fill="#404040" stroke="#000" stroke-width="1.8" stroke-linejoin="miter"/>
<path d="M1223,1300.8 L1229.2,1307 L1223,1313.2 L1216.8,1307 Z" fill="#404040" stroke="#000" stroke-width="1.8" stroke-linejoin="miter"/>
<path d="M1237,1316.3 L1243.2,1322.5 L1237,1328.7 L1230.8,1322.5 Z" fill="#404040" stroke="#000" stroke-width="1.8" stroke-linejoin="miter"/>
<path d="M1252,1448.3 L1258.2,1454.5 L1252,1460.7 L1245.8,1454.5 Z" fill="#404040" stroke="#000" stroke-width="1.8" stroke-linejoin="miter"/>
<line x1="952.5" y1="1432.5" x2="1252.5" y2="1378" stroke="#000" stroke-width="2.8" stroke-linecap="butt"/>
<line x1="936" y1="1395.5" x2="1189" y2="1375" stroke="#f26522" stroke-width="3.2" stroke-linecap="butt"/>
<circle cx="936.25" cy="1385" r="5.4" fill="#f26522" stroke="#000" stroke-width="2.2"/>
<circle cx="962" cy="1330" r="5.4" fill="#f26522" stroke="#000" stroke-width="2.2"/>
<circle cx="996.25" cy="1372" r="5.4" fill="#f26522" stroke="#000" stroke-width="2.2"/>
<circle cx="1022" cy="1365" r="5.4" fill="#f26522" stroke="#000" stroke-width="2.2"/>
<circle cx="1036.25" cy="1372.5" r="5.4" fill="#f26522" stroke="#000" stroke-width="2.2"/>
<circle cx="1025" cy="1397.5" r="5.4" fill="#f26522" stroke="#000" stroke-width="2.2"/>
<circle cx="1062.5" cy="1392.5" r="5.4" fill="#f26522" stroke="#000" stroke-width="2.2"/>
<circle cx="1062.5" cy="1400" r="5.4" fill="#f26522" stroke="#000" stroke-width="2.2"/>
<circle cx="1073.75" cy="1352" r="5.4" fill="#f26522" stroke="#000" stroke-width="2.2"/>
<circle cx="1070.5" cy="1433" r="5.4" fill="#f26522" stroke="#000" stroke-width="2.2"/>
<circle cx="1093.75" cy="1413.75" r="5.4" fill="#f26522" stroke="#000" stroke-width="2.2"/>
<circle cx="1022" cy="1500.5" r="5.4" fill="#f26522" stroke="#000" stroke-width="2.2"/>
<circle cx="1188.75" cy="1322" r="5.4" fill="#f26522" stroke="#000" stroke-width="2.2"/>
<rect x="929.45" y="1639.7" width="18.65" height="20.1" fill="#404040" stroke="#000" stroke-width="2.4"/>
<text x="962.5" y="1660.25" font-size="29.2" stroke="#1c1c1c" stroke-width="0.5" text-anchor="start" textLength="93.93" lengthAdjust="spacingAndGlyphs" fill="#1c1c1c">Control</text>
<rect x="1083.2" y="1639.7" width="18.9" height="20.1" fill="#f26522" stroke="#000" stroke-width="2.4"/>
<text x="1116" y="1660.25" font-size="29.2" stroke="#1c1c1c" stroke-width="0.5" text-anchor="start" textLength="128.93" lengthAdjust="spacingAndGlyphs" fill="#1c1c1c">Low BCAA</text>
<text x="901" y="1694" font-size="27.06" stroke="#1c1c1c" stroke-width="0.5" text-anchor="start" textLength="167.29" lengthAdjust="spacingAndGlyphs" fill="#1c1c1c">Slope p=0.700</text>
<text x="1296.25" y="1694" font-size="27.06" stroke="#1c1c1c" stroke-width="0.5" text-anchor="end" textLength="209.67" lengthAdjust="spacingAndGlyphs" fill="#1c1c1c">Intercept p=0.148</text>
<text x="1474.25" y="1227.5" font-size="27.06" stroke="#1c1c1c" stroke-width="0.5" text-anchor="middle" textLength="125.67" lengthAdjust="spacingAndGlyphs" fill="#1c1c1c">20 months</text>
<line x1="1392.5" y1="1240.5" x2="1557.5" y2="1240.5" stroke="#000" stroke-width="3" stroke-linecap="butt"/>
<text x="1667" y="1227.5" font-size="27.06" stroke="#1c1c1c" stroke-width="0.5" text-anchor="middle" textLength="125.67" lengthAdjust="spacingAndGlyphs" fill="#1c1c1c">25 months</text>
<line x1="1581" y1="1240.5" x2="1746" y2="1240.5" stroke="#000" stroke-width="3" stroke-linecap="butt"/>
<line x1="1379.5" y1="1257.5" x2="1379.5" y2="1496" stroke="#000" stroke-width="2.8" stroke-linecap="butt"/>
<line x1="1379.5" y1="1510" x2="1379.5" y2="1547.5" stroke="#000" stroke-width="2.8" stroke-linecap="butt"/>
<line x1="1374.5" y1="1500.5" x2="1384.5" y2="1492" stroke="#000" stroke-width="2.6" stroke-linecap="butt"/>
<line x1="1374.5" y1="1518" x2="1384.5" y2="1509.5" stroke="#000" stroke-width="2.6" stroke-linecap="butt"/>
<line x1="1372.5" y1="1295.5" x2="1379.5" y2="1295.5" stroke="#000" stroke-width="2.4" stroke-linecap="butt"/>
<text x="1365" y="1304.8" font-size="27.06" stroke="#1c1c1c" stroke-width="0.5" text-anchor="end" textLength="14.7" lengthAdjust="spacingAndGlyphs" fill="#1c1c1c">1</text>
<line x1="1372.5" y1="1354.7" x2="1379.5" y2="1354.7" stroke="#000" stroke-width="2.4" stroke-linecap="butt"/>
<text x="1365" y="1364" font-size="27.06" stroke="#1c1c1c" stroke-width="0.5" text-anchor="end" textLength="36.72" lengthAdjust="spacingAndGlyphs" fill="#1c1c1c">0.9</text>
<line x1="1372.5" y1="1413.9" x2="1379.5" y2="1413.9" stroke="#000" stroke-width="2.4" stroke-linecap="butt"/>
<text x="1365" y="1423.2" font-size="27.06" stroke="#1c1c1c" stroke-width="0.5" text-anchor="end" textLength="36.72" lengthAdjust="spacingAndGlyphs" fill="#1c1c1c">0.8</text>
<line x1="1372.5" y1="1473.1" x2="1379.5" y2="1473.1" stroke="#000" stroke-width="2.4" stroke-linecap="butt"/>
<text x="1365" y="1482.4" font-size="27.06" stroke="#1c1c1c" stroke-width="0.5" text-anchor="end" textLength="36.72" lengthAdjust="spacingAndGlyphs" fill="#1c1c1c">0.7</text>
<line x1="1372.5" y1="1547.5" x2="1379.5" y2="1547.5" stroke="#000" stroke-width="2.4" stroke-linecap="butt"/>
<text x="1365" y="1556.8" font-size="27.06" stroke="#1c1c1c" stroke-width="0.5" text-anchor="end" textLength="14.7" lengthAdjust="spacingAndGlyphs" fill="#1c1c1c">0</text>
<line x1="1378.1" y1="1547.5" x2="1757.5" y2="1547.5" stroke="#000" stroke-width="2.8" stroke-linecap="butt"/>
<line x1="1379.5" y1="1547.5" x2="1379.5" y2="1557.5" stroke="#000" stroke-width="2.4" stroke-linecap="butt"/>
<line x1="1473.75" y1="1547.5" x2="1473.75" y2="1557.5" stroke="#000" stroke-width="2.4" stroke-linecap="butt"/>
<line x1="1568.5" y1="1547.5" x2="1568.5" y2="1557.5" stroke="#000" stroke-width="2.4" stroke-linecap="butt"/>
<line x1="1662" y1="1547.5" x2="1662" y2="1557.5" stroke="#000" stroke-width="2.4" stroke-linecap="butt"/>
<line x1="1757.5" y1="1547.5" x2="1757.5" y2="1557.5" stroke="#000" stroke-width="2.4" stroke-linecap="butt"/>
<text x="1428" y="1578.3" font-size="27.06" stroke="#1c1c1c" stroke-width="0.5" text-anchor="middle" textLength="57.18" lengthAdjust="spacingAndGlyphs" fill="#1c1c1c">Light</text>
<text x="1520" y="1578.3" font-size="27.06" stroke="#1c1c1c" stroke-width="0.5" text-anchor="middle" textLength="55.03" lengthAdjust="spacingAndGlyphs" fill="#1c1c1c">Dark</text>
<text x="1615.4" y="1578.3" font-size="27.06" stroke="#1c1c1c" stroke-width="0.5" text-anchor="middle" textLength="57.18" lengthAdjust="spacingAndGlyphs" fill="#1c1c1c">Light</text>
<text x="1708.5" y="1578.3" font-size="27.06" stroke="#1c1c1c" stroke-width="0.5" text-anchor="middle" textLength="55.03" lengthAdjust="spacingAndGlyphs" fill="#1c1c1c">Dark</text>
<text x="1568.75" y="1616.5" font-size="29.86" font-weight="bold" text-anchor="middle" textLength="69.05" lengthAdjust="spacingAndGlyphs" fill="#1c1c1c">Cycle</text>
<text transform="translate(1307,1401.25) rotate(-90)" x="0" y="0" font-size="32.19" font-weight="bold" text-anchor="middle" textLength="55.67" lengthAdjust="spacingAndGlyphs" fill="#1c1c1c">RER</text>
<rect x="1401.6" y="1383.6" width="29.3" height="163.9" fill="#404040" stroke="#000" stroke-width="3.2"/>
<circle cx="1401.25" cy="1359.5" r="4.6" fill="none" stroke="#6e6e6e" stroke-width="1.6" stroke-opacity="0.68"/>
<circle cx="1415" cy="1353.25" r="4.6" fill="none" stroke="#6e6e6e" stroke-width="1.6" stroke-opacity="0.68"/>
<circle cx="1428.75" cy="1360" r="4.6" fill="none" stroke="#6e6e6e" stroke-width="1.6" stroke-opacity="0.68"/>
<circle cx="1415" cy="1364.5" r="4.6" fill="none" stroke="#6e6e6e" stroke-width="1.6" stroke-opacity="0.68"/>
<circle cx="1401.25" cy="1371.25" r="4.6" fill="none" stroke="#6e6e6e" stroke-width="1.6" stroke-opacity="0.68"/>
<circle cx="1428.75" cy="1368" r="4.6" fill="none" stroke="#6e6e6e" stroke-width="1.6" stroke-opacity="0.68"/>
<circle cx="1415" cy="1372" r="4.6" fill="none" stroke="#6e6e6e" stroke-width="1.6" stroke-opacity="0.68"/>
<circle cx="1401.25" cy="1378.75" r="4.6" fill="none" stroke="#6e6e6e" stroke-width="1.6" stroke-opacity="0.68"/>
<circle cx="1401.25" cy="1395" r="4.6" fill="none" stroke="#6e6e6e" stroke-width="1.6" stroke-opacity="0.68"/>
<circle cx="1415" cy="1400" r="4.6" fill="none" stroke="#6e6e6e" stroke-width="1.6" stroke-opacity="0.68"/>
<circle cx="1427.5" cy="1395" r="4.6" fill="none" stroke="#6e6e6e" stroke-width="1.6" stroke-opacity="0.68"/>
<circle cx="1421.25" cy="1407.5" r="4.6" fill="none" stroke="#6e6e6e" stroke-width="1.6" stroke-opacity="0.68"/>
<circle cx="1415" cy="1416.25" r="4.6" fill="none" stroke="#6e6e6e" stroke-width="1.6" stroke-opacity="0.68"/>
<line x1="1416.25" y1="1373.75" x2="1416.25" y2="1387.5" stroke="#000" stroke-width="2.6" stroke-linecap="butt"/>
<line x1="1407.75" y1="1373.75" x2="1424.75" y2="1373.75" stroke="#000" stroke-width="2.6" stroke-linecap="butt"/>
<line x1="1407.75" y1="1387.5" x2="1424.75" y2="1387.5" stroke="#000" stroke-width="2.6" stroke-linecap="butt"/>
<rect x="1441.1" y="1371.1" width="29.3" height="176.4" fill="#f26522" stroke="#000" stroke-width="3.2"/>
<circle cx="1454.5" cy="1326.25" r="4.6" fill="none" stroke="#6e6e6e" stroke-width="1.6" stroke-opacity="0.68"/>
<circle cx="1460" cy="1339.5" r="4.6" fill="none" stroke="#6e6e6e" stroke-width="1.6" stroke-opacity="0.68"/>
<circle cx="1468.75" cy="1337.5" r="4.6" fill="none" stroke="#6e6e6e" stroke-width="1.6" stroke-opacity="0.68"/>
<circle cx="1450" cy="1343.75" r="4.6" fill="none" stroke="#6e6e6e" stroke-width="1.6" stroke-opacity="0.68"/>
<circle cx="1441.25" cy="1360.5" r="4.6" fill="none" stroke="#6e6e6e" stroke-width="1.6" stroke-opacity="0.68"/>
<circle cx="1450" cy="1357.5" r="4.6" fill="none" stroke="#6e6e6e" stroke-width="1.6" stroke-opacity="0.68"/>
<circle cx="1460" cy="1357.5" r="4.6" fill="none" stroke="#6e6e6e" stroke-width="1.6" stroke-opacity="0.68"/>
<circle cx="1468.75" cy="1359.5" r="4.6" fill="none" stroke="#6e6e6e" stroke-width="1.6" stroke-opacity="0.68"/>
<circle cx="1454.5" cy="1388.75" r="4.6" fill="none" stroke="#6e6e6e" stroke-width="1.6" stroke-opacity="0.68"/>
<circle cx="1450" cy="1401.25" r="4.6" fill="none" stroke="#6e6e6e" stroke-width="1.6" stroke-opacity="0.68"/>
<circle cx="1460" cy="1405" r="4.6" fill="none" stroke="#6e6e6e" stroke-width="1.6" stroke-opacity="0.68"/>
<circle cx="1454.5" cy="1415" r="4.6" fill="none" stroke="#6e6e6e" stroke-width="1.6" stroke-opacity="0.68"/>
<line x1="1455.75" y1="1359.5" x2="1455.75" y2="1374.5" stroke="#000" stroke-width="2.6" stroke-linecap="butt"/>
<line x1="1447.25" y1="1359.5" x2="1464.25" y2="1359.5" stroke="#000" stroke-width="2.6" stroke-linecap="butt"/>
<line x1="1447.25" y1="1374.5" x2="1464.25" y2="1374.5" stroke="#000" stroke-width="2.6" stroke-linecap="butt"/>
<rect x="1489.1" y="1355.85" width="29.8" height="191.65" fill="#404040" stroke="#000" stroke-width="3.2"/>
<circle cx="1490" cy="1330.5" r="4.6" fill="none" stroke="#6e6e6e" stroke-width="1.6" stroke-opacity="0.68"/>
<circle cx="1507.5" cy="1330" r="4.6" fill="none" stroke="#6e6e6e" stroke-width="1.6" stroke-opacity="0.68"/>
<circle cx="1516.25" cy="1325" r="4.6" fill="none" stroke="#6e6e6e" stroke-width="1.6" stroke-opacity="0.68"/>
<circle cx="1498.75" cy="1337" r="4.6" fill="none" stroke="#6e6e6e" stroke-width="1.6" stroke-opacity="0.68"/>
<circle cx="1490" cy="1341.25" r="4.6" fill="none" stroke="#6e6e6e" stroke-width="1.6" stroke-opacity="0.68"/>
<circle cx="1516.25" cy="1340.5" r="4.6" fill="none" stroke="#6e6e6e" stroke-width="1.6" stroke-opacity="0.68"/>
<circle cx="1502.5" cy="1350" r="4.6" fill="none" stroke="#6e6e6e" stroke-width="1.6" stroke-opacity="0.68"/>
<circle cx="1490" cy="1360" r="4.6" fill="none" stroke="#6e6e6e" stroke-width="1.6" stroke-opacity="0.68"/>
<circle cx="1498.75" cy="1366.25" r="4.6" fill="none" stroke="#6e6e6e" stroke-width="1.6" stroke-opacity="0.68"/>
<circle cx="1516.25" cy="1365" r="4.6" fill="none" stroke="#6e6e6e" stroke-width="1.6" stroke-opacity="0.68"/>
<circle cx="1507.5" cy="1371.25" r="4.6" fill="none" stroke="#6e6e6e" stroke-width="1.6" stroke-opacity="0.68"/>
<circle cx="1502.5" cy="1380" r="4.6" fill="none" stroke="#6e6e6e" stroke-width="1.6" stroke-opacity="0.68"/>
<line x1="1504" y1="1347" x2="1504" y2="1356.25" stroke="#000" stroke-width="2.6" stroke-linecap="butt"/>
<line x1="1495.5" y1="1347" x2="1512.5" y2="1347" stroke="#000" stroke-width="2.6" stroke-linecap="butt"/>
<line x1="1495.5" y1="1356.25" x2="1512.5" y2="1356.25" stroke="#000" stroke-width="2.6" stroke-linecap="butt"/>
<rect x="1529.1" y="1339.6" width="29.3" height="207.9" fill="#f26522" stroke="#000" stroke-width="3.2"/>
<circle cx="1529.5" cy="1305" r="4.6" fill="none" stroke="#6e6e6e" stroke-width="1.6" stroke-opacity="0.68"/>
<circle cx="1537.5" cy="1314.5" r="4.6" fill="none" stroke="#6e6e6e" stroke-width="1.6" stroke-opacity="0.68"/>
<circle cx="1547" cy="1313.75" r="4.6" fill="none" stroke="#6e6e6e" stroke-width="1.6" stroke-opacity="0.68"/>
<circle cx="1556.25" cy="1309.5" r="4.6" fill="none" stroke="#6e6e6e" stroke-width="1.6" stroke-opacity="0.68"/>
<circle cx="1529.5" cy="1315" r="4.6" fill="none" stroke="#6e6e6e" stroke-width="1.6" stroke-opacity="0.68"/>
<circle cx="1556.25" cy="1319.5" r="4.6" fill="none" stroke="#6e6e6e" stroke-width="1.6" stroke-opacity="0.68"/>
<circle cx="1529.5" cy="1324.5" r="4.6" fill="none" stroke="#6e6e6e" stroke-width="1.6" stroke-opacity="0.68"/>
<circle cx="1547" cy="1330.5" r="4.6" fill="none" stroke="#6e6e6e" stroke-width="1.6" stroke-opacity="0.68"/>
<circle cx="1547" cy="1347" r="4.6" fill="none" stroke="#6e6e6e" stroke-width="1.6" stroke-opacity="0.68"/>
<circle cx="1537.5" cy="1352.5" r="4.6" fill="none" stroke="#6e6e6e" stroke-width="1.6" stroke-opacity="0.68"/>
<circle cx="1542" cy="1377" r="4.6" fill="none" stroke="#6e6e6e" stroke-width="1.6" stroke-opacity="0.68"/>
<circle cx="1542" cy="1410" r="4.6" fill="none" stroke="#6e6e6e" stroke-width="1.6" stroke-opacity="0.68"/>
<line x1="1543.75" y1="1327.5" x2="1543.75" y2="1342.5" stroke="#000" stroke-width="2.6" stroke-linecap="butt"/>
<line x1="1535.25" y1="1327.5" x2="1552.25" y2="1327.5" stroke="#000" stroke-width="2.6" stroke-linecap="butt"/>
<line x1="1535.25" y1="1342.5" x2="1552.25" y2="1342.5" stroke="#000" stroke-width="2.6" stroke-linecap="butt"/>
<rect x="1577.1" y="1362.85" width="28.8" height="184.65" fill="#404040" stroke="#000" stroke-width="3.2"/>
<circle cx="1586.25" cy="1320" r="4.6" fill="none" stroke="#6e6e6e" stroke-width="1.6" stroke-opacity="0.68"/>
<circle cx="1595" cy="1321.25" r="4.6" fill="none" stroke="#6e6e6e" stroke-width="1.6" stroke-opacity="0.68"/>
<circle cx="1577.5" cy="1345.5" r="4.6" fill="none" stroke="#6e6e6e" stroke-width="1.6" stroke-opacity="0.68"/>
<circle cx="1586.25" cy="1345.5" r="4.6" fill="none" stroke="#6e6e6e" stroke-width="1.6" stroke-opacity="0.68"/>
<circle cx="1595" cy="1345" r="4.6" fill="none" stroke="#6e6e6e" stroke-width="1.6" stroke-opacity="0.68"/>
<circle cx="1604.5" cy="1343.75" r="4.6" fill="none" stroke="#6e6e6e" stroke-width="1.6" stroke-opacity="0.68"/>
<circle cx="1586.25" cy="1356.25" r="4.6" fill="none" stroke="#6e6e6e" stroke-width="1.6" stroke-opacity="0.68"/>
<circle cx="1577.5" cy="1380" r="4.6" fill="none" stroke="#6e6e6e" stroke-width="1.6" stroke-opacity="0.68"/>
<circle cx="1586.25" cy="1383.75" r="4.6" fill="none" stroke="#6e6e6e" stroke-width="1.6" stroke-opacity="0.68"/>
<circle cx="1596.25" cy="1382" r="4.6" fill="none" stroke="#6e6e6e" stroke-width="1.6" stroke-opacity="0.68"/>
<circle cx="1604.5" cy="1386.25" r="4.6" fill="none" stroke="#6e6e6e" stroke-width="1.6" stroke-opacity="0.68"/>
<circle cx="1590.5" cy="1395.5" r="4.6" fill="none" stroke="#6e6e6e" stroke-width="1.6" stroke-opacity="0.68"/>
<line x1="1591.5" y1="1352" x2="1591.5" y2="1365.5" stroke="#000" stroke-width="2.6" stroke-linecap="butt"/>
<line x1="1583" y1="1352" x2="1600" y2="1352" stroke="#000" stroke-width="2.6" stroke-linecap="butt"/>
<line x1="1583" y1="1365.5" x2="1600" y2="1365.5" stroke="#000" stroke-width="2.6" stroke-linecap="butt"/>
<rect x="1616.6" y="1364.6" width="29.3" height="182.9" fill="#f26522" stroke="#000" stroke-width="3.2"/>
<circle cx="1627" cy="1352.5" r="4.6" fill="none" stroke="#6e6e6e" stroke-width="1.6" stroke-opacity="0.68"/>
<circle cx="1621.25" cy="1353.75" r="4.6" fill="none" stroke="#6e6e6e" stroke-width="1.6" stroke-opacity="0.68"/>
<circle cx="1636.25" cy="1353.25" r="4.6" fill="none" stroke="#6e6e6e" stroke-width="1.6" stroke-opacity="0.68"/>
<circle cx="1644.5" cy="1348" r="4.6" fill="none" stroke="#6e6e6e" stroke-width="1.6" stroke-opacity="0.68"/>
<circle cx="1617" cy="1357.5" r="4.6" fill="none" stroke="#6e6e6e" stroke-width="1.6" stroke-opacity="0.68"/>
<circle cx="1644.5" cy="1356.25" r="4.6" fill="none" stroke="#6e6e6e" stroke-width="1.6" stroke-opacity="0.68"/>
<circle cx="1633.75" cy="1368.75" r="4.6" fill="none" stroke="#6e6e6e" stroke-width="1.6" stroke-opacity="0.68"/>
<circle cx="1630.5" cy="1381.25" r="4.6" fill="none" stroke="#6e6e6e" stroke-width="1.6" stroke-opacity="0.68"/>
<line x1="1631.25" y1="1358" x2="1631.25" y2="1365.5" stroke="#000" stroke-width="2.6" stroke-linecap="butt"/>
<line x1="1622.75" y1="1358" x2="1639.75" y2="1358" stroke="#000" stroke-width="2.6" stroke-linecap="butt"/>
<line x1="1622.75" y1="1365.5" x2="1639.75" y2="1365.5" stroke="#000" stroke-width="2.6" stroke-linecap="butt"/>
<rect x="1665.35" y="1324.1" width="29.3" height="223.4" fill="#404040" stroke="#000" stroke-width="3.2"/>
<circle cx="1679.5" cy="1263.75" r="4.6" fill="none" stroke="#6e6e6e" stroke-width="1.6" stroke-opacity="0.68"/>
<circle cx="1679.5" cy="1272.5" r="4.6" fill="none" stroke="#6e6e6e" stroke-width="1.6" stroke-opacity="0.68"/>
<circle cx="1679.5" cy="1289.5" r="4.6" fill="none" stroke="#6e6e6e" stroke-width="1.6" stroke-opacity="0.68"/>
<circle cx="1687.5" cy="1299.5" r="4.6" fill="none" stroke="#6e6e6e" stroke-width="1.6" stroke-opacity="0.68"/>
<circle cx="1670" cy="1305" r="4.6" fill="none" stroke="#6e6e6e" stroke-width="1.6" stroke-opacity="0.68"/>
<circle cx="1687.5" cy="1311.25" r="4.6" fill="none" stroke="#6e6e6e" stroke-width="1.6" stroke-opacity="0.68"/>
<circle cx="1670" cy="1316.25" r="4.6" fill="none" stroke="#6e6e6e" stroke-width="1.6" stroke-opacity="0.68"/>
<circle cx="1672.5" cy="1336.25" r="4.6" fill="none" stroke="#6e6e6e" stroke-width="1.6" stroke-opacity="0.68"/>
<circle cx="1679.5" cy="1346.25" r="4.6" fill="none" stroke="#6e6e6e" stroke-width="1.6" stroke-opacity="0.68"/>
<circle cx="1679.5" cy="1354.5" r="4.6" fill="none" stroke="#6e6e6e" stroke-width="1.6" stroke-opacity="0.68"/>
<circle cx="1670" cy="1365.5" r="4.6" fill="none" stroke="#6e6e6e" stroke-width="1.6" stroke-opacity="0.68"/>
<circle cx="1687.5" cy="1363.75" r="4.6" fill="none" stroke="#6e6e6e" stroke-width="1.6" stroke-opacity="0.68"/>
<line x1="1680" y1="1310.5" x2="1680" y2="1328.75" stroke="#000" stroke-width="2.6" stroke-linecap="butt"/>
<line x1="1671.5" y1="1310.5" x2="1688.5" y2="1310.5" stroke="#000" stroke-width="2.6" stroke-linecap="butt"/>
<line x1="1671.5" y1="1328.75" x2="1688.5" y2="1328.75" stroke="#000" stroke-width="2.6" stroke-linecap="butt"/>
<rect x="1705.35" y="1326.6" width="29.3" height="220.9" fill="#f26522" stroke="#000" stroke-width="3.2"/>
<circle cx="1718" cy="1260.5" r="4.6" fill="none" stroke="#6e6e6e" stroke-width="1.6" stroke-opacity="0.68"/>
<circle cx="1732" cy="1288.75" r="4.6" fill="none" stroke="#6e6e6e" stroke-width="1.6" stroke-opacity="0.68"/>
<circle cx="1718" cy="1295" r="4.6" fill="none" stroke="#6e6e6e" stroke-width="1.6" stroke-opacity="0.68"/>
<circle cx="1718" cy="1309.5" r="4.6" fill="none" stroke="#6e6e6e" stroke-width="1.6" stroke-opacity="0.68"/>
<circle cx="1705" cy="1314.5" r="4.6" fill="none" stroke="#6e6e6e" stroke-width="1.6" stroke-opacity="0.68"/>
<circle cx="1732.5" cy="1320.5" r="4.6" fill="none" stroke="#6e6e6e" stroke-width="1.6" stroke-opacity="0.68"/>
<circle cx="1705" cy="1342" r="4.6" fill="none" stroke="#6e6e6e" stroke-width="1.6" stroke-opacity="0.68"/>
<circle cx="1718" cy="1337" r="4.6" fill="none" stroke="#6e6e6e" stroke-width="1.6" stroke-opacity="0.68"/>
<circle cx="1732" cy="1345" r="4.6" fill="none" stroke="#6e6e6e" stroke-width="1.6" stroke-opacity="0.68"/>
<circle cx="1718" cy="1355.5" r="4.6" fill="none" stroke="#6e6e6e" stroke-width="1.6" stroke-opacity="0.68"/>
<circle cx="1718" cy="1378" r="4.6" fill="none" stroke="#6e6e6e" stroke-width="1.6" stroke-opacity="0.68"/>
<line x1="1720" y1="1314.5" x2="1720" y2="1330.5" stroke="#000" stroke-width="2.6" stroke-linecap="butt"/>
<line x1="1711.5" y1="1314.5" x2="1728.5" y2="1314.5" stroke="#000" stroke-width="2.6" stroke-linecap="butt"/>
<line x1="1711.5" y1="1330.5" x2="1728.5" y2="1330.5" stroke="#000" stroke-width="2.6" stroke-linecap="butt"/>
<rect x="1410.2" y="1639.7" width="18.9" height="20.1" fill="#404040" stroke="#000" stroke-width="2.4"/>
<text x="1443.75" y="1660.25" font-size="29.2" stroke="#1c1c1c" stroke-width="0.5" text-anchor="start" textLength="93.93" lengthAdjust="spacingAndGlyphs" fill="#1c1c1c">Control</text>
<rect x="1563.2" y="1639.7" width="18.9" height="20.1" fill="#f26522" stroke="#000" stroke-width="2.4"/>
<text x="1597.5" y="1660.25" font-size="29.2" stroke="#1c1c1c" stroke-width="0.5" text-anchor="start" textLength="128.93" lengthAdjust="spacingAndGlyphs" fill="#1c1c1c">Low BCAA</text>
<text x="1576.25" y="1694" font-size="27.06" stroke="#1c1c1c" stroke-width="0.5" text-anchor="middle" textLength="178.63" lengthAdjust="spacingAndGlyphs" fill="#1c1c1c">Cycle p&lt;0.0001</text>
<text x="235.6" y="1756.25" font-size="27.06" stroke="#1c1c1c" stroke-width="0.5" text-anchor="middle" textLength="125.67" lengthAdjust="spacingAndGlyphs" fill="#1c1c1c">20 months</text>
<line x1="144.5" y1="1769.5" x2="320.5" y2="1769.5" stroke="#000" stroke-width="3" stroke-linecap="butt"/>
<text x="421.5" y="1756.25" font-size="27.06" stroke="#1c1c1c" stroke-width="0.5" text-anchor="middle" textLength="125.67" lengthAdjust="spacingAndGlyphs" fill="#1c1c1c">25 months</text>
<line x1="332" y1="1769.5" x2="505.5" y2="1769.5" stroke="#000" stroke-width="3" stroke-linecap="butt"/>
<line x1="133.75" y1="1775" x2="133.75" y2="2066.25" stroke="#000" stroke-width="2.8" stroke-linecap="butt"/>
<line x1="126.75" y1="1834.25" x2="133.75" y2="1834.25" stroke="#000" stroke-width="2.4" stroke-linecap="butt"/>
<text x="122" y="1843.55" font-size="27.06" stroke="#1c1c1c" stroke-width="0.5" text-anchor="end" textLength="29.4" lengthAdjust="spacingAndGlyphs" fill="#1c1c1c">40</text>
<line x1="126.75" y1="1950.25" x2="133.75" y2="1950.25" stroke="#000" stroke-width="2.4" stroke-linecap="butt"/>
<text x="122" y="1959.55" font-size="27.06" stroke="#1c1c1c" stroke-width="0.5" text-anchor="end" textLength="29.4" lengthAdjust="spacingAndGlyphs" fill="#1c1c1c">20</text>
<line x1="126.75" y1="2066.25" x2="133.75" y2="2066.25" stroke="#000" stroke-width="2.4" stroke-linecap="butt"/>
<text x="122" y="2075.55" font-size="27.06" stroke="#1c1c1c" stroke-width="0.5" text-anchor="end" textLength="14.7" lengthAdjust="spacingAndGlyphs" fill="#1c1c1c">0</text>
<line x1="132.35" y1="2066.25" x2="509.5" y2="2066.25" stroke="#000" stroke-width="2.8" stroke-linecap="butt"/>
<line x1="133.75" y1="2066.25" x2="133.75" y2="2074.25" stroke="#000" stroke-width="2.4" stroke-linecap="butt"/>
<line x1="233.75" y1="2066.25" x2="233.75" y2="2074.25" stroke="#000" stroke-width="2.4" stroke-linecap="butt"/>
<line x1="322" y1="2066.25" x2="322" y2="2074.25" stroke="#000" stroke-width="2.4" stroke-linecap="butt"/>
<line x1="418" y1="2066.25" x2="418" y2="2074.25" stroke="#000" stroke-width="2.4" stroke-linecap="butt"/>
<line x1="509.5" y1="2066.25" x2="509.5" y2="2074.25" stroke="#000" stroke-width="2.4" stroke-linecap="butt"/>
<text x="189.4" y="2098.3" font-size="27.06" stroke="#1c1c1c" stroke-width="0.5" text-anchor="middle" textLength="57.18" lengthAdjust="spacingAndGlyphs" fill="#1c1c1c">Light</text>
<text x="277.5" y="2098.3" font-size="27.06" stroke="#1c1c1c" stroke-width="0.5" text-anchor="middle" textLength="55.03" lengthAdjust="spacingAndGlyphs" fill="#1c1c1c">Dark</text>
<text x="365.75" y="2098.3" font-size="27.06" stroke="#1c1c1c" stroke-width="0.5" text-anchor="middle" textLength="57.18" lengthAdjust="spacingAndGlyphs" fill="#1c1c1c">Light</text>
<text x="454.6" y="2098.3" font-size="27.06" stroke="#1c1c1c" stroke-width="0.5" text-anchor="middle" textLength="55.03" lengthAdjust="spacingAndGlyphs" fill="#1c1c1c">Dark</text>
<text x="320.5" y="2129" font-size="29.86" font-weight="bold" text-anchor="middle" textLength="69.05" lengthAdjust="spacingAndGlyphs" fill="#1c1c1c">Cycle</text>
<text transform="translate(77.5,1930.5) rotate(-90)" x="0" y="0" font-size="32.19" font-weight="bold" text-anchor="middle" textLength="399" lengthAdjust="spacingAndGlyphs" fill="#1c1c1c">Spontaneous activity (x10³)</text>
<rect x="155.35" y="2042.35" width="29.3" height="23.9" fill="#404040" stroke="#000" stroke-width="3.2"/>
<circle cx="155.5" cy="2030" r="4.5" fill="none" stroke="#6e6e6e" stroke-width="1.7" stroke-opacity="0.68"/>
<circle cx="162.5" cy="2031.25" r="4.5" fill="none" stroke="#6e6e6e" stroke-width="1.7" stroke-opacity="0.68"/>
<circle cx="169.5" cy="2030" r="4.5" fill="none" stroke="#6e6e6e" stroke-width="1.7" stroke-opacity="0.68"/>
<circle cx="176.25" cy="2031.25" r="4.5" fill="none" stroke="#6e6e6e" stroke-width="1.7" stroke-opacity="0.68"/>
<circle cx="183" cy="2030" r="4.5" fill="none" stroke="#6e6e6e" stroke-width="1.7" stroke-opacity="0.68"/>
<circle cx="169.5" cy="2017" r="4.5" fill="none" stroke="#6e6e6e" stroke-width="1.7" stroke-opacity="0.68"/>
<circle cx="158.75" cy="2036.25" r="4.5" fill="none" stroke="#6e6e6e" stroke-width="1.7" stroke-opacity="0.68"/>
<circle cx="180" cy="2036.25" r="4.5" fill="none" stroke="#6e6e6e" stroke-width="1.7" stroke-opacity="0.68"/>
<circle cx="162.5" cy="2052.5" r="4.5" fill="none" stroke="#6e6e6e" stroke-width="1.7" stroke-opacity="0.68"/>
<circle cx="175" cy="2051.25" r="4.5" fill="none" stroke="#6e6e6e" stroke-width="1.7" stroke-opacity="0.68"/>
<circle cx="170" cy="2060" r="4.5" fill="none" stroke="#6e6e6e" stroke-width="1.7" stroke-opacity="0.68"/>
<line x1="170" y1="2035" x2="170" y2="2045" stroke="#000" stroke-width="2.6" stroke-linecap="butt"/>
<line x1="161" y1="2035" x2="179" y2="2035" stroke="#000" stroke-width="2.6" stroke-linecap="butt"/>
<line x1="161" y1="2045" x2="179" y2="2045" stroke="#000" stroke-width="2.6" stroke-linecap="butt"/>
<rect x="196.1" y="2027.85" width="28.55" height="38.4" fill="#f26522" stroke="#000" stroke-width="3.2"/>
<circle cx="208.75" cy="1961.25" r="4.5" fill="none" stroke="#6e6e6e" stroke-width="1.7" stroke-opacity="0.68"/>
<circle cx="208.75" cy="1986.25" r="4.5" fill="none" stroke="#6e6e6e" stroke-width="1.7" stroke-opacity="0.68"/>
<circle cx="208.75" cy="2006.25" r="4.5" fill="none" stroke="#6e6e6e" stroke-width="1.7" stroke-opacity="0.68"/>
<circle cx="222.5" cy="2016.25" r="4.5" fill="none" stroke="#6e6e6e" stroke-width="1.7" stroke-opacity="0.68"/>
<circle cx="196.25" cy="2021.25" r="4.5" fill="none" stroke="#6e6e6e" stroke-width="1.7" stroke-opacity="0.68"/>
<circle cx="208.75" cy="2025" r="4.5" fill="none" stroke="#6e6e6e" stroke-width="1.7" stroke-opacity="0.68"/>
<circle cx="215" cy="2035" r="4.5" fill="none" stroke="#6e6e6e" stroke-width="1.7" stroke-opacity="0.68"/>
<circle cx="202.5" cy="2032.5" r="4.5" fill="none" stroke="#6e6e6e" stroke-width="1.7" stroke-opacity="0.68"/>
<circle cx="208.75" cy="2046.25" r="4.5" fill="none" stroke="#6e6e6e" stroke-width="1.7" stroke-opacity="0.68"/>
<circle cx="220" cy="2045" r="4.5" fill="none" stroke="#6e6e6e" stroke-width="1.7" stroke-opacity="0.68"/>
<circle cx="196.25" cy="2055.5" r="4.5" fill="none" stroke="#6e6e6e" stroke-width="1.7" stroke-opacity="0.68"/>
<line x1="210.38" y1="2017.5" x2="210.38" y2="2030" stroke="#000" stroke-width="2.6" stroke-linecap="butt"/>
<line x1="201.38" y1="2017.5" x2="219.38" y2="2017.5" stroke="#000" stroke-width="2.6" stroke-linecap="butt"/>
<line x1="201.38" y1="2030" x2="219.38" y2="2030" stroke="#000" stroke-width="2.6" stroke-linecap="butt"/>
<rect x="243.6" y="1962.85" width="29.8" height="103.4" fill="#404040" stroke="#000" stroke-width="3.2"/>
<circle cx="257.5" cy="1892" r="4.5" fill="none" stroke="#6e6e6e" stroke-width="1.7" stroke-opacity="0.68"/>
<circle cx="257.5" cy="1901.25" r="4.5" fill="none" stroke="#6e6e6e" stroke-width="1.7" stroke-opacity="0.68"/>
<circle cx="257.5" cy="1920.5" r="4.5" fill="none" stroke="#6e6e6e" stroke-width="1.7" stroke-opacity="0.68"/>
<circle cx="257.5" cy="1945" r="4.5" fill="none" stroke="#6e6e6e" stroke-width="1.7" stroke-opacity="0.68"/>
<circle cx="243.75" cy="1952.5" r="4.5" fill="none" stroke="#6e6e6e" stroke-width="1.7" stroke-opacity="0.68"/>
<circle cx="271.25" cy="1949.5" r="4.5" fill="none" stroke="#6e6e6e" stroke-width="1.7" stroke-opacity="0.68"/>
<circle cx="257.5" cy="1954.5" r="4.5" fill="none" stroke="#6e6e6e" stroke-width="1.7" stroke-opacity="0.68"/>
<circle cx="243.75" cy="1974.5" r="4.5" fill="none" stroke="#6e6e6e" stroke-width="1.7" stroke-opacity="0.68"/>
<circle cx="257.5" cy="1970" r="4.5" fill="none" stroke="#6e6e6e" stroke-width="1.7" stroke-opacity="0.68"/>
<circle cx="271.25" cy="1978.75" r="4.5" fill="none" stroke="#6e6e6e" stroke-width="1.7" stroke-opacity="0.68"/>
<circle cx="243.75" cy="1986.25" r="4.5" fill="none" stroke="#6e6e6e" stroke-width="1.7" stroke-opacity="0.68"/>
<circle cx="257.5" cy="1987.5" r="4.5" fill="none" stroke="#6e6e6e" stroke-width="1.7" stroke-opacity="0.68"/>
<circle cx="271.25" cy="1986.25" r="4.5" fill="none" stroke="#6e6e6e" stroke-width="1.7" stroke-opacity="0.68"/>
<circle cx="257.5" cy="2003.75" r="4.5" fill="none" stroke="#6e6e6e" stroke-width="1.7" stroke-opacity="0.68"/>
<line x1="258.5" y1="1949.5" x2="258.5" y2="1967" stroke="#000" stroke-width="2.6" stroke-linecap="butt"/>
<line x1="249.5" y1="1949.5" x2="267.5" y2="1949.5" stroke="#000" stroke-width="2.6" stroke-linecap="butt"/>
<line x1="249.5" y1="1967" x2="267.5" y2="1967" stroke="#000" stroke-width="2.6" stroke-linecap="butt"/>
<rect x="284.1" y="1952.1" width="28.8" height="114.15" fill="#f26522" stroke="#000" stroke-width="3.2"/>
<circle cx="297" cy="1784.5" r="4.5" fill="none" stroke="#6e6e6e" stroke-width="1.7" stroke-opacity="0.68"/>
<circle cx="297" cy="1855" r="4.5" fill="none" stroke="#6e6e6e" stroke-width="1.7" stroke-opacity="0.68"/>
<circle cx="297" cy="1865" r="4.5" fill="none" stroke="#6e6e6e" stroke-width="1.7" stroke-opacity="0.68"/>
<circle cx="297" cy="1902" r="4.5" fill="none" stroke="#6e6e6e" stroke-width="1.7" stroke-opacity="0.68"/>
<circle cx="297" cy="1937" r="4.5" fill="none" stroke="#6e6e6e" stroke-width="1.7" stroke-opacity="0.68"/>
<circle cx="287.5" cy="1952.5" r="4.5" fill="none" stroke="#6e6e6e" stroke-width="1.7" stroke-opacity="0.68"/>
<circle cx="305" cy="1955" r="4.5" fill="none" stroke="#6e6e6e" stroke-width="1.7" stroke-opacity="0.68"/>
<circle cx="305.5" cy="1979.5" r="4.5" fill="none" stroke="#6e6e6e" stroke-width="1.7" stroke-opacity="0.68"/>
<circle cx="288.75" cy="1985" r="4.5" fill="none" stroke="#6e6e6e" stroke-width="1.7" stroke-opacity="0.68"/>
<circle cx="297" cy="2001.25" r="4.5" fill="none" stroke="#6e6e6e" stroke-width="1.7" stroke-opacity="0.68"/>
<circle cx="297" cy="2009.5" r="4.5" fill="none" stroke="#6e6e6e" stroke-width="1.7" stroke-opacity="0.68"/>
<circle cx="297" cy="2031.25" r="4.5" fill="none" stroke="#6e6e6e" stroke-width="1.7" stroke-opacity="0.68"/>
<circle cx="297" cy="2043.75" r="4.5" fill="none" stroke="#6e6e6e" stroke-width="1.7" stroke-opacity="0.68"/>
<line x1="298.5" y1="1927" x2="298.5" y2="1967" stroke="#000" stroke-width="2.6" stroke-linecap="butt"/>
<line x1="289.5" y1="1927" x2="307.5" y2="1927" stroke="#000" stroke-width="2.6" stroke-linecap="butt"/>
<line x1="289.5" y1="1967" x2="307.5" y2="1967" stroke="#000" stroke-width="2.6" stroke-linecap="butt"/>
<rect x="330.35" y="2056.6" width="30.55" height="9.65" fill="#404040" stroke="#000" stroke-width="3.2"/>
<circle cx="348" cy="2025" r="4.5" fill="none" stroke="#6e6e6e" stroke-width="1.7" stroke-opacity="0.68"/>
<circle cx="342" cy="2031.25" r="4.5" fill="none" stroke="#6e6e6e" stroke-width="1.7" stroke-opacity="0.68"/>
<circle cx="337" cy="2042.5" r="4.5" fill="none" stroke="#6e6e6e" stroke-width="1.7" stroke-opacity="0.68"/>
<circle cx="344.5" cy="2042.5" r="4.5" fill="none" stroke="#6e6e6e" stroke-width="1.7" stroke-opacity="0.68"/>
<circle cx="352.5" cy="2042" r="4.5" fill="none" stroke="#6e6e6e" stroke-width="1.7" stroke-opacity="0.68"/>
<circle cx="345" cy="2051.25" r="4.5" fill="none" stroke="#6e6e6e" stroke-width="1.7" stroke-opacity="0.68"/>
<circle cx="332.5" cy="2063.75" r="4.5" fill="none" stroke="#6e6e6e" stroke-width="1.7" stroke-opacity="0.68"/>
<circle cx="340" cy="2063.75" r="4.5" fill="none" stroke="#6e6e6e" stroke-width="1.7" stroke-opacity="0.68"/>
<circle cx="348.75" cy="2063.75" r="4.5" fill="none" stroke="#6e6e6e" stroke-width="1.7" stroke-opacity="0.68"/>
<circle cx="356.25" cy="2063.75" r="4.5" fill="none" stroke="#6e6e6e" stroke-width="1.7" stroke-opacity="0.68"/>
<line x1="345.62" y1="2047.5" x2="345.62" y2="2056" stroke="#000" stroke-width="2.6" stroke-linecap="butt"/>
<line x1="336.62" y1="2047.5" x2="354.62" y2="2047.5" stroke="#000" stroke-width="2.6" stroke-linecap="butt"/>
<line x1="336.62" y1="2056" x2="354.62" y2="2056" stroke="#000" stroke-width="2.6" stroke-linecap="butt"/>
<rect x="371.6" y="2052.85" width="29.8" height="13.4" fill="#f26522" stroke="#000" stroke-width="3.2"/>
<circle cx="387.5" cy="2018.75" r="4.5" fill="none" stroke="#6e6e6e" stroke-width="1.7" stroke-opacity="0.68"/>
<circle cx="382.5" cy="2025" r="4.5" fill="none" stroke="#6e6e6e" stroke-width="1.7" stroke-opacity="0.68"/>
<circle cx="393" cy="2028.75" r="4.5" fill="none" stroke="#6e6e6e" stroke-width="1.7" stroke-opacity="0.68"/>
<circle cx="387" cy="2032.5" r="4.5" fill="none" stroke="#6e6e6e" stroke-width="1.7" stroke-opacity="0.68"/>
<circle cx="381.25" cy="2036.25" r="4.5" fill="none" stroke="#6e6e6e" stroke-width="1.7" stroke-opacity="0.68"/>
<circle cx="388.75" cy="2038.75" r="4.5" fill="none" stroke="#6e6e6e" stroke-width="1.7" stroke-opacity="0.68"/>
<circle cx="382.5" cy="2045" r="4.5" fill="none" stroke="#6e6e6e" stroke-width="1.7" stroke-opacity="0.68"/>
<circle cx="387.5" cy="2048.75" r="4.5" fill="none" stroke="#6e6e6e" stroke-width="1.7" stroke-opacity="0.68"/>
<circle cx="372.5" cy="2063.75" r="4.5" fill="none" stroke="#6e6e6e" stroke-width="1.7" stroke-opacity="0.68"/>
<circle cx="380" cy="2063.75" r="4.5" fill="none" stroke="#6e6e6e" stroke-width="1.7" stroke-opacity="0.68"/>
<circle cx="388.75" cy="2063.75" r="4.5" fill="none" stroke="#6e6e6e" stroke-width="1.7" stroke-opacity="0.68"/>
<circle cx="397.5" cy="2063.75" r="4.5" fill="none" stroke="#6e6e6e" stroke-width="1.7" stroke-opacity="0.68"/>
<line x1="386.5" y1="2042.5" x2="386.5" y2="2055" stroke="#000" stroke-width="2.6" stroke-linecap="butt"/>
<line x1="377.5" y1="2042.5" x2="395.5" y2="2042.5" stroke="#000" stroke-width="2.6" stroke-linecap="butt"/>
<line x1="377.5" y1="2055" x2="395.5" y2="2055" stroke="#000" stroke-width="2.6" stroke-linecap="butt"/>
<rect x="418.6" y="2019.1" width="29.8" height="47.15" fill="#404040" stroke="#000" stroke-width="3.2"/>
<circle cx="433" cy="1917.5" r="4.5" fill="none" stroke="#6e6e6e" stroke-width="1.7" stroke-opacity="0.68"/>
<circle cx="428" cy="1945" r="4.5" fill="none" stroke="#6e6e6e" stroke-width="1.7" stroke-opacity="0.68"/>
<circle cx="428" cy="1968.75" r="4.5" fill="none" stroke="#6e6e6e" stroke-width="1.7" stroke-opacity="0.68"/>
<circle cx="428" cy="1977.5" r="4.5" fill="none" stroke="#6e6e6e" stroke-width="1.7" stroke-opacity="0.68"/>
<circle cx="440" cy="1966.5" r="4.5" fill="none" stroke="#6e6e6e" stroke-width="1.7" stroke-opacity="0.68"/>
<circle cx="434.5" cy="1991.7" r="4.5" fill="none" stroke="#6e6e6e" stroke-width="1.7" stroke-opacity="0.68"/>
<circle cx="431" cy="2009" r="4.5" fill="none" stroke="#6e6e6e" stroke-width="1.7" stroke-opacity="0.68"/>
<circle cx="440" cy="1995" r="4.5" fill="none" stroke="#6e6e6e" stroke-width="1.7" stroke-opacity="0.68"/>
<circle cx="434.5" cy="2028.4" r="4.5" fill="none" stroke="#6e6e6e" stroke-width="1.7" stroke-opacity="0.68"/>
<circle cx="421" cy="2062" r="4.5" fill="none" stroke="#6e6e6e" stroke-width="1.7" stroke-opacity="0.68"/>
<circle cx="428" cy="2062" r="4.5" fill="none" stroke="#6e6e6e" stroke-width="1.7" stroke-opacity="0.68"/>
<circle cx="436" cy="2062" r="4.5" fill="none" stroke="#6e6e6e" stroke-width="1.7" stroke-opacity="0.68"/>
<circle cx="444" cy="2062" r="4.5" fill="none" stroke="#6e6e6e" stroke-width="1.7" stroke-opacity="0.68"/>
<line x1="433.5" y1="2000" x2="433.5" y2="2028" stroke="#000" stroke-width="2.6" stroke-linecap="butt"/>
<line x1="424.5" y1="2000" x2="442.5" y2="2000" stroke="#000" stroke-width="2.6" stroke-linecap="butt"/>
<line x1="424.5" y1="2028" x2="442.5" y2="2028" stroke="#000" stroke-width="2.6" stroke-linecap="butt"/>
<rect x="459.1" y="2021.85" width="29.3" height="44.4" fill="#f26522" stroke="#000" stroke-width="3.2"/>
<circle cx="469.5" cy="1929" r="4.5" fill="none" stroke="#6e6e6e" stroke-width="1.7" stroke-opacity="0.68"/>
<circle cx="476" cy="1929" r="4.5" fill="none" stroke="#6e6e6e" stroke-width="1.7" stroke-opacity="0.68"/>
<circle cx="472.5" cy="1947" r="4.5" fill="none" stroke="#6e6e6e" stroke-width="1.7" stroke-opacity="0.68"/>
<circle cx="476" cy="1990" r="4.5" fill="none" stroke="#6e6e6e" stroke-width="1.7" stroke-opacity="0.68"/>
<circle cx="469.5" cy="1995" r="4.5" fill="none" stroke="#6e6e6e" stroke-width="1.7" stroke-opacity="0.68"/>
<circle cx="472.5" cy="2042" r="4.5" fill="none" stroke="#6e6e6e" stroke-width="1.7" stroke-opacity="0.68"/>
<circle cx="460" cy="2062" r="4.5" fill="none" stroke="#6e6e6e" stroke-width="1.7" stroke-opacity="0.68"/>
<circle cx="468" cy="2062" r="4.5" fill="none" stroke="#6e6e6e" stroke-width="1.7" stroke-opacity="0.68"/>
<circle cx="476" cy="2062" r="4.5" fill="none" stroke="#6e6e6e" stroke-width="1.7" stroke-opacity="0.68"/>
<circle cx="484" cy="2062" r="4.5" fill="none" stroke="#6e6e6e" stroke-width="1.7" stroke-opacity="0.68"/>
<line x1="473.75" y1="2002" x2="473.75" y2="2032" stroke="#000" stroke-width="2.6" stroke-linecap="butt"/>
<line x1="464.75" y1="2002" x2="482.75" y2="2002" stroke="#000" stroke-width="2.6" stroke-linecap="butt"/>
<line x1="464.75" y1="2032" x2="482.75" y2="2032" stroke="#000" stroke-width="2.6" stroke-linecap="butt"/>
<rect x="161.7" y="2148.7" width="19.4" height="20.6" fill="#404040" stroke="#000" stroke-width="2.4"/>
<text x="195.5" y="2169.5" font-size="29.2" stroke="#1c1c1c" stroke-width="0.5" text-anchor="start" textLength="93.93" lengthAdjust="spacingAndGlyphs" fill="#1c1c1c">Control</text>
<rect x="315.7" y="2148.7" width="19.4" height="20.6" fill="#f26522" stroke="#000" stroke-width="2.4"/>
<text x="349" y="2169.5" font-size="29.2" stroke="#1c1c1c" stroke-width="0.5" text-anchor="start" textLength="128.93" lengthAdjust="spacingAndGlyphs" fill="#1c1c1c">Low BCAA</text>
<text x="329" y="2209" font-size="27.06" stroke="#1c1c1c" stroke-width="0.5" text-anchor="middle" textLength="178.63" lengthAdjust="spacingAndGlyphs" fill="#1c1c1c">Cycle p&lt;0.0001</text>
<line x1="645.5" y1="1775.25" x2="645.5" y2="2066" stroke="#000" stroke-width="2.8" stroke-linecap="butt"/>
<line x1="638.5" y1="1802.75" x2="645.5" y2="1802.75" stroke="#000" stroke-width="2.4" stroke-linecap="butt"/>
<text x="633.75" y="1812.05" font-size="27.06" stroke="#1c1c1c" stroke-width="0.5" text-anchor="end" textLength="29.4" lengthAdjust="spacingAndGlyphs" fill="#1c1c1c">30</text>
<line x1="638.5" y1="1890.5" x2="645.5" y2="1890.5" stroke="#000" stroke-width="2.4" stroke-linecap="butt"/>
<text x="633.75" y="1899.8" font-size="27.06" stroke="#1c1c1c" stroke-width="0.5" text-anchor="end" textLength="29.4" lengthAdjust="spacingAndGlyphs" fill="#1c1c1c">20</text>
<line x1="638.5" y1="1978.25" x2="645.5" y2="1978.25" stroke="#000" stroke-width="2.4" stroke-linecap="butt"/>
<text x="633.75" y="1987.55" font-size="27.06" stroke="#1c1c1c" stroke-width="0.5" text-anchor="end" textLength="29.4" lengthAdjust="spacingAndGlyphs" fill="#1c1c1c">10</text>
<line x1="638.5" y1="2066" x2="645.5" y2="2066" stroke="#000" stroke-width="2.4" stroke-linecap="butt"/>
<text x="633.75" y="2075.3" font-size="27.06" stroke="#1c1c1c" stroke-width="0.5" text-anchor="end" textLength="14.7" lengthAdjust="spacingAndGlyphs" fill="#1c1c1c">0</text>
<line x1="644.1" y1="2066" x2="998.75" y2="2066" stroke="#000" stroke-width="2.8" stroke-linecap="butt"/>
<line x1="645.5" y1="2066" x2="645.5" y2="2076" stroke="#000" stroke-width="2.4" stroke-linecap="butt"/>
<line x1="764.5" y1="2066" x2="764.5" y2="2076" stroke="#000" stroke-width="2.4" stroke-linecap="butt"/>
<line x1="878.75" y1="2066" x2="878.75" y2="2076" stroke="#000" stroke-width="2.4" stroke-linecap="butt"/>
<line x1="998.75" y1="2066" x2="998.75" y2="2076" stroke="#000" stroke-width="2.4" stroke-linecap="butt"/>
<text x="704.5" y="2100.3" font-size="27.06" stroke="#1c1c1c" stroke-width="0.5" text-anchor="middle" textLength="29.4" lengthAdjust="spacingAndGlyphs" fill="#1c1c1c">17</text>
<text x="822.5" y="2100.3" font-size="27.06" stroke="#1c1c1c" stroke-width="0.5" text-anchor="middle" textLength="29.4" lengthAdjust="spacingAndGlyphs" fill="#1c1c1c">19</text>
<text x="936.25" y="2100.3" font-size="27.06" stroke="#1c1c1c" stroke-width="0.5" text-anchor="middle" textLength="29.4" lengthAdjust="spacingAndGlyphs" fill="#1c1c1c">24</text>
<text x="822.5" y="2130" font-size="29.86" font-weight="bold" text-anchor="middle" textLength="178.65" lengthAdjust="spacingAndGlyphs" fill="#1c1c1c">Age (months)</text>
<text transform="translate(590,1929.5) rotate(-90)" x="0" y="0" font-size="32.19" font-weight="bold" text-anchor="middle" textLength="219" lengthAdjust="spacingAndGlyphs" fill="#1c1c1c">GTT AUC (x10³)</text>
<rect x="659.1" y="1873.6" width="39.3" height="192.4" fill="#404040" stroke="#000" stroke-width="3.2"/>
<circle cx="678" cy="1805.25" r="4.5" fill="none" stroke="#6e6e6e" stroke-width="1.7" stroke-opacity="0.68"/>
<circle cx="678" cy="1815.25" r="4.5" fill="none" stroke="#6e6e6e" stroke-width="1.7" stroke-opacity="0.68"/>
<circle cx="678" cy="1828.5" r="4.5" fill="none" stroke="#6e6e6e" stroke-width="1.7" stroke-opacity="0.68"/>
<circle cx="684.5" cy="1846" r="4.5" fill="none" stroke="#6e6e6e" stroke-width="1.7" stroke-opacity="0.68"/>
<circle cx="660" cy="1851.5" r="4.5" fill="none" stroke="#6e6e6e" stroke-width="1.7" stroke-opacity="0.68"/>
<circle cx="696.25" cy="1854.75" r="4.5" fill="none" stroke="#6e6e6e" stroke-width="1.7" stroke-opacity="0.68"/>
<circle cx="684.5" cy="1856" r="4.5" fill="none" stroke="#6e6e6e" stroke-width="1.7" stroke-opacity="0.68"/>
<circle cx="660" cy="1862.75" r="4.5" fill="none" stroke="#6e6e6e" stroke-width="1.7" stroke-opacity="0.68"/>
<circle cx="672" cy="1860.25" r="4.5" fill="none" stroke="#6e6e6e" stroke-width="1.7" stroke-opacity="0.68"/>
<circle cx="678" cy="1870.25" r="4.5" fill="none" stroke="#6e6e6e" stroke-width="1.7" stroke-opacity="0.68"/>
<circle cx="660" cy="1889" r="4.5" fill="none" stroke="#6e6e6e" stroke-width="1.7" stroke-opacity="0.68"/>
<circle cx="672" cy="1896.5" r="4.5" fill="none" stroke="#6e6e6e" stroke-width="1.7" stroke-opacity="0.68"/>
<circle cx="684.5" cy="1895.25" r="4.5" fill="none" stroke="#6e6e6e" stroke-width="1.7" stroke-opacity="0.68"/>
<circle cx="695" cy="1895.25" r="4.5" fill="none" stroke="#6e6e6e" stroke-width="1.7" stroke-opacity="0.68"/>
<circle cx="678" cy="1907.75" r="4.5" fill="none" stroke="#6e6e6e" stroke-width="1.7" stroke-opacity="0.68"/>
<circle cx="672" cy="1921.5" r="4.5" fill="none" stroke="#6e6e6e" stroke-width="1.7" stroke-opacity="0.68"/>
<circle cx="684.5" cy="1921.5" r="4.5" fill="none" stroke="#6e6e6e" stroke-width="1.7" stroke-opacity="0.68"/>
<circle cx="672" cy="1877.75" r="4.5" fill="none" stroke="#6e6e6e" stroke-width="1.7" stroke-opacity="0.68"/>
<circle cx="678" cy="1884" r="4.5" fill="none" stroke="#6e6e6e" stroke-width="1.7" stroke-opacity="0.68"/>
<line x1="678.75" y1="1862.75" x2="678.75" y2="1877" stroke="#000" stroke-width="2.6" stroke-linecap="butt"/>
<line x1="669.75" y1="1862.75" x2="687.75" y2="1862.75" stroke="#000" stroke-width="2.6" stroke-linecap="butt"/>
<line x1="669.75" y1="1877" x2="687.75" y2="1877" stroke="#000" stroke-width="2.6" stroke-linecap="butt"/>
<rect x="714.6" y="1912.6" width="39.3" height="153.4" fill="#f26522" stroke="#000" stroke-width="3.2"/>
<circle cx="739.5" cy="1864" r="4.5" fill="none" stroke="#6e6e6e" stroke-width="1.7" stroke-opacity="0.68"/>
<circle cx="733" cy="1867" r="4.5" fill="none" stroke="#6e6e6e" stroke-width="1.7" stroke-opacity="0.68"/>
<circle cx="714.5" cy="1891" r="4.5" fill="none" stroke="#6e6e6e" stroke-width="1.7" stroke-opacity="0.68"/>
<circle cx="727" cy="1892.75" r="4.5" fill="none" stroke="#6e6e6e" stroke-width="1.7" stroke-opacity="0.68"/>
<circle cx="739.5" cy="1884" r="4.5" fill="none" stroke="#6e6e6e" stroke-width="1.7" stroke-opacity="0.68"/>
<circle cx="751.25" cy="1891.5" r="4.5" fill="none" stroke="#6e6e6e" stroke-width="1.7" stroke-opacity="0.68"/>
<circle cx="739.5" cy="1892" r="4.5" fill="none" stroke="#6e6e6e" stroke-width="1.7" stroke-opacity="0.68"/>
<circle cx="733" cy="1899.5" r="4.5" fill="none" stroke="#6e6e6e" stroke-width="1.7" stroke-opacity="0.68"/>
<circle cx="727" cy="1906.5" r="4.5" fill="none" stroke="#6e6e6e" stroke-width="1.7" stroke-opacity="0.68"/>
<circle cx="739.5" cy="1913.5" r="4.5" fill="none" stroke="#6e6e6e" stroke-width="1.7" stroke-opacity="0.68"/>
<circle cx="733" cy="1922" r="4.5" fill="none" stroke="#6e6e6e" stroke-width="1.7" stroke-opacity="0.68"/>
<circle cx="727" cy="1935.25" r="4.5" fill="none" stroke="#6e6e6e" stroke-width="1.7" stroke-opacity="0.68"/>
<circle cx="733" cy="1935.25" r="4.5" fill="none" stroke="#6e6e6e" stroke-width="1.7" stroke-opacity="0.68"/>
<circle cx="739.5" cy="1940.25" r="4.5" fill="none" stroke="#6e6e6e" stroke-width="1.7" stroke-opacity="0.68"/>
<circle cx="733" cy="1949.5" r="4.5" fill="none" stroke="#6e6e6e" stroke-width="1.7" stroke-opacity="0.68"/>
<circle cx="733" cy="1968.5" r="4.5" fill="none" stroke="#6e6e6e" stroke-width="1.7" stroke-opacity="0.68"/>
<line x1="734.25" y1="1902.75" x2="734.25" y2="1914" stroke="#000" stroke-width="2.6" stroke-linecap="butt"/>
<line x1="725.25" y1="1902.75" x2="743.25" y2="1902.75" stroke="#000" stroke-width="2.6" stroke-linecap="butt"/>
<line x1="725.25" y1="1914" x2="743.25" y2="1914" stroke="#000" stroke-width="2.6" stroke-linecap="butt"/>
<rect x="774.6" y="1855.1" width="40.05" height="210.9" fill="#404040" stroke="#000" stroke-width="3.2"/>
<circle cx="793.75" cy="1797" r="4.5" fill="none" stroke="#6e6e6e" stroke-width="1.7" stroke-opacity="0.68"/>
<circle cx="786.25" cy="1811" r="4.5" fill="none" stroke="#6e6e6e" stroke-width="1.7" stroke-opacity="0.68"/>
<circle cx="800.5" cy="1815.25" r="4.5" fill="none" stroke="#6e6e6e" stroke-width="1.7" stroke-opacity="0.68"/>
<circle cx="793.75" cy="1839.5" r="4.5" fill="none" stroke="#6e6e6e" stroke-width="1.7" stroke-opacity="0.68"/>
<circle cx="800.5" cy="1839.5" r="4.5" fill="none" stroke="#6e6e6e" stroke-width="1.7" stroke-opacity="0.68"/>
<circle cx="793.75" cy="1850.25" r="4.5" fill="none" stroke="#6e6e6e" stroke-width="1.7" stroke-opacity="0.68"/>
<circle cx="793.75" cy="1863.5" r="4.5" fill="none" stroke="#6e6e6e" stroke-width="1.7" stroke-opacity="0.68"/>
<circle cx="793.75" cy="1878.5" r="4.5" fill="none" stroke="#6e6e6e" stroke-width="1.7" stroke-opacity="0.68"/>
<circle cx="800.5" cy="1903.5" r="4.5" fill="none" stroke="#6e6e6e" stroke-width="1.7" stroke-opacity="0.68"/>
<circle cx="786.25" cy="1911.5" r="4.5" fill="none" stroke="#6e6e6e" stroke-width="1.7" stroke-opacity="0.68"/>
<line x1="794.62" y1="1839.5" x2="794.62" y2="1863.5" stroke="#000" stroke-width="2.6" stroke-linecap="butt"/>
<line x1="785.62" y1="1839.5" x2="803.62" y2="1839.5" stroke="#000" stroke-width="2.6" stroke-linecap="butt"/>
<line x1="785.62" y1="1863.5" x2="803.62" y2="1863.5" stroke="#000" stroke-width="2.6" stroke-linecap="butt"/>
<rect x="829.6" y="1899.35" width="39.3" height="166.65" fill="#f26522" stroke="#000" stroke-width="3.2"/>
<circle cx="848.75" cy="1860.25" r="4.5" fill="none" stroke="#6e6e6e" stroke-width="1.7" stroke-opacity="0.68"/>
<circle cx="848.75" cy="1869" r="4.5" fill="none" stroke="#6e6e6e" stroke-width="1.7" stroke-opacity="0.68"/>
<circle cx="835" cy="1884" r="4.5" fill="none" stroke="#6e6e6e" stroke-width="1.7" stroke-opacity="0.68"/>
<circle cx="848.75" cy="1884" r="4.5" fill="none" stroke="#6e6e6e" stroke-width="1.7" stroke-opacity="0.68"/>
<circle cx="862.5" cy="1882" r="4.5" fill="none" stroke="#6e6e6e" stroke-width="1.7" stroke-opacity="0.68"/>
<circle cx="862.5" cy="1911.5" r="4.5" fill="none" stroke="#6e6e6e" stroke-width="1.7" stroke-opacity="0.68"/>
<circle cx="848.75" cy="1919.5" r="4.5" fill="none" stroke="#6e6e6e" stroke-width="1.7" stroke-opacity="0.68"/>
<circle cx="848.75" cy="1946" r="4.5" fill="none" stroke="#6e6e6e" stroke-width="1.7" stroke-opacity="0.68"/>
<line x1="849.25" y1="1887.75" x2="849.25" y2="1904.5" stroke="#000" stroke-width="2.6" stroke-linecap="butt"/>
<line x1="840.25" y1="1887.75" x2="858.25" y2="1887.75" stroke="#000" stroke-width="2.6" stroke-linecap="butt"/>
<line x1="840.25" y1="1904.5" x2="858.25" y2="1904.5" stroke="#000" stroke-width="2.6" stroke-linecap="butt"/>
<rect x="889.6" y="1880.6" width="39.3" height="185.4" fill="#404040" stroke="#000" stroke-width="3.2"/>
<circle cx="908.75" cy="1828.5" r="4.5" fill="none" stroke="#6e6e6e" stroke-width="1.7" stroke-opacity="0.68"/>
<circle cx="891.25" cy="1841.5" r="4.5" fill="none" stroke="#6e6e6e" stroke-width="1.7" stroke-opacity="0.68"/>
<circle cx="900" cy="1845.25" r="4.5" fill="none" stroke="#6e6e6e" stroke-width="1.7" stroke-opacity="0.68"/>
<circle cx="908.75" cy="1847.75" r="4.5" fill="none" stroke="#6e6e6e" stroke-width="1.7" stroke-opacity="0.68"/>
<circle cx="928" cy="1841.5" r="4.5" fill="none" stroke="#6e6e6e" stroke-width="1.7" stroke-opacity="0.68"/>
<circle cx="908.75" cy="1866.5" r="4.5" fill="none" stroke="#6e6e6e" stroke-width="1.7" stroke-opacity="0.68"/>
<circle cx="891.25" cy="1871.5" r="4.5" fill="none" stroke="#6e6e6e" stroke-width="1.7" stroke-opacity="0.68"/>
<circle cx="900" cy="1871" r="4.5" fill="none" stroke="#6e6e6e" stroke-width="1.7" stroke-opacity="0.68"/>
<circle cx="928" cy="1867.75" r="4.5" fill="none" stroke="#6e6e6e" stroke-width="1.7" stroke-opacity="0.68"/>
<circle cx="928" cy="1876" r="4.5" fill="none" stroke="#6e6e6e" stroke-width="1.7" stroke-opacity="0.68"/>
<circle cx="900" cy="1885.25" r="4.5" fill="none" stroke="#6e6e6e" stroke-width="1.7" stroke-opacity="0.68"/>
<circle cx="908.75" cy="1888.5" r="4.5" fill="none" stroke="#6e6e6e" stroke-width="1.7" stroke-opacity="0.68"/>
<circle cx="900" cy="1899" r="4.5" fill="none" stroke="#6e6e6e" stroke-width="1.7" stroke-opacity="0.68"/>
<circle cx="919.5" cy="1899.5" r="4.5" fill="none" stroke="#6e6e6e" stroke-width="1.7" stroke-opacity="0.68"/>
<circle cx="908.75" cy="1905.25" r="4.5" fill="none" stroke="#6e6e6e" stroke-width="1.7" stroke-opacity="0.68"/>
<circle cx="908.75" cy="1921" r="4.5" fill="none" stroke="#6e6e6e" stroke-width="1.7" stroke-opacity="0.68"/>
<circle cx="908.75" cy="1938.5" r="4.5" fill="none" stroke="#6e6e6e" stroke-width="1.7" stroke-opacity="0.68"/>
<line x1="909.25" y1="1871" x2="909.25" y2="1883.5" stroke="#000" stroke-width="2.6" stroke-linecap="butt"/>
<line x1="900.25" y1="1871" x2="918.25" y2="1871" stroke="#000" stroke-width="2.6" stroke-linecap="butt"/>
<line x1="900.25" y1="1883.5" x2="918.25" y2="1883.5" stroke="#000" stroke-width="2.6" stroke-linecap="butt"/>
<rect x="944.6" y="1911.85" width="40.05" height="154.15" fill="#f26522" stroke="#000" stroke-width="3.2"/>
<circle cx="962" cy="1864.5" r="4.5" fill="none" stroke="#6e6e6e" stroke-width="1.7" stroke-opacity="0.68"/>
<circle cx="971.25" cy="1867.25" r="4.5" fill="none" stroke="#6e6e6e" stroke-width="1.7" stroke-opacity="0.68"/>
<circle cx="966.25" cy="1872" r="4.5" fill="none" stroke="#6e6e6e" stroke-width="1.7" stroke-opacity="0.68"/>
<circle cx="962" cy="1879" r="4.5" fill="none" stroke="#6e6e6e" stroke-width="1.7" stroke-opacity="0.68"/>
<circle cx="962" cy="1890.25" r="4.5" fill="none" stroke="#6e6e6e" stroke-width="1.7" stroke-opacity="0.68"/>
<circle cx="966.25" cy="1896.5" r="4.5" fill="none" stroke="#6e6e6e" stroke-width="1.7" stroke-opacity="0.68"/>
<circle cx="977.5" cy="1906.5" r="4.5" fill="none" stroke="#6e6e6e" stroke-width="1.7" stroke-opacity="0.68"/>
<circle cx="947.5" cy="1917.75" r="4.5" fill="none" stroke="#6e6e6e" stroke-width="1.7" stroke-opacity="0.68"/>
<circle cx="956.25" cy="1922.75" r="4.5" fill="none" stroke="#6e6e6e" stroke-width="1.7" stroke-opacity="0.68"/>
<circle cx="966.25" cy="1922.75" r="4.5" fill="none" stroke="#6e6e6e" stroke-width="1.7" stroke-opacity="0.68"/>
<circle cx="975" cy="1920.25" r="4.5" fill="none" stroke="#6e6e6e" stroke-width="1.7" stroke-opacity="0.68"/>
<circle cx="980" cy="1916.5" r="4.5" fill="none" stroke="#6e6e6e" stroke-width="1.7" stroke-opacity="0.68"/>
<circle cx="963.75" cy="1939.5" r="4.5" fill="none" stroke="#6e6e6e" stroke-width="1.7" stroke-opacity="0.68"/>
<circle cx="963.75" cy="1962.75" r="4.5" fill="none" stroke="#6e6e6e" stroke-width="1.7" stroke-opacity="0.68"/>
<line x1="964.62" y1="1902.75" x2="964.62" y2="1913.5" stroke="#000" stroke-width="2.6" stroke-linecap="butt"/>
<line x1="955.62" y1="1902.75" x2="973.62" y2="1902.75" stroke="#000" stroke-width="2.6" stroke-linecap="butt"/>
<line x1="955.62" y1="1913.5" x2="973.62" y2="1913.5" stroke="#000" stroke-width="2.6" stroke-linecap="butt"/>
<line x1="677.5" y1="1795.75" x2="731.25" y2="1795.75" stroke="#000" stroke-width="1.6" stroke-linecap="butt"/>
<text x="703" y="1791.26" font-size="31.72" stroke="#1c1c1c" stroke-width="0.5" text-anchor="middle" textLength="16.93" lengthAdjust="spacingAndGlyphs" fill="#1c1c1c">*</text>
<line x1="795" y1="1767.75" x2="850" y2="1767.75" stroke="#000" stroke-width="1.6" stroke-linecap="butt"/>
<text x="822.5" y="1763.01" font-size="31.72" stroke="#1c1c1c" stroke-width="0.5" text-anchor="middle" textLength="16.93" lengthAdjust="spacingAndGlyphs" fill="#1c1c1c">*</text>
<line x1="913.75" y1="1811.5" x2="967" y2="1811.5" stroke="#000" stroke-width="1.6" stroke-linecap="butt"/>
<text x="942" y="1806.76" font-size="31.72" stroke="#1c1c1c" stroke-width="0.5" text-anchor="middle" textLength="16.93" lengthAdjust="spacingAndGlyphs" fill="#1c1c1c">*</text>
<rect x="663.2" y="2148.7" width="19.65" height="20.6" fill="#404040" stroke="#000" stroke-width="2.4"/>
<text x="697.5" y="2169.5" font-size="29.2" stroke="#1c1c1c" stroke-width="0.5" text-anchor="start" textLength="93.93" lengthAdjust="spacingAndGlyphs" fill="#1c1c1c">Control</text>
<rect x="816.7" y="2148.7" width="19.4" height="20.6" fill="#f26522" stroke="#000" stroke-width="2.4"/>
<text x="851" y="2169.5" font-size="29.2" stroke="#1c1c1c" stroke-width="0.5" text-anchor="start" textLength="128.93" lengthAdjust="spacingAndGlyphs" fill="#1c1c1c">Low BCAA</text>
<text x="829.75" y="2208.5" font-size="27.06" stroke="#1c1c1c" stroke-width="0.5" text-anchor="middle" textLength="165.54" lengthAdjust="spacingAndGlyphs" fill="#1c1c1c">Diet p&lt;0.0001</text>
<line x1="1149.5" y1="1777.75" x2="1149.5" y2="2066.5" stroke="#000" stroke-width="2.8" stroke-linecap="butt"/>
<line x1="1142.5" y1="1850.25" x2="1149.5" y2="1850.25" stroke="#000" stroke-width="2.4" stroke-linecap="butt"/>
<text x="1134" y="1859.55" font-size="27.06" stroke="#1c1c1c" stroke-width="0.5" text-anchor="end" textLength="44.1" lengthAdjust="spacingAndGlyphs" fill="#1c1c1c">100</text>
<line x1="1142.5" y1="1958.38" x2="1149.5" y2="1958.38" stroke="#000" stroke-width="2.4" stroke-linecap="butt"/>
<text x="1134" y="1967.67" font-size="27.06" stroke="#1c1c1c" stroke-width="0.5" text-anchor="end" textLength="29.4" lengthAdjust="spacingAndGlyphs" fill="#1c1c1c">50</text>
<line x1="1142.5" y1="2066.5" x2="1149.5" y2="2066.5" stroke="#000" stroke-width="2.4" stroke-linecap="butt"/>
<text x="1134" y="2075.8" font-size="27.06" stroke="#1c1c1c" stroke-width="0.5" text-anchor="end" textLength="14.7" lengthAdjust="spacingAndGlyphs" fill="#1c1c1c">0</text>
<line x1="1148.1" y1="2066.5" x2="1579" y2="2066.5" stroke="#000" stroke-width="2.8" stroke-linecap="butt"/>
<line x1="1149.5" y1="2066.5" x2="1149.5" y2="2073.5" stroke="#000" stroke-width="2.4" stroke-linecap="butt"/>
<line x1="1285.58" y1="2066.5" x2="1285.58" y2="2073.5" stroke="#000" stroke-width="2.4" stroke-linecap="butt"/>
<line x1="1421.67" y1="2066.5" x2="1421.67" y2="2073.5" stroke="#000" stroke-width="2.4" stroke-linecap="butt"/>
<line x1="1557.75" y1="2066.5" x2="1557.75" y2="2073.5" stroke="#000" stroke-width="2.4" stroke-linecap="butt"/>
<text x="1147.5" y="2098.55" font-size="27.06" stroke="#1c1c1c" stroke-width="0.5" text-anchor="middle" textLength="14.7" lengthAdjust="spacingAndGlyphs" fill="#1c1c1c">0</text>
<text x="1285" y="2098.55" font-size="27.06" stroke="#1c1c1c" stroke-width="0.5" text-anchor="middle" textLength="29.4" lengthAdjust="spacingAndGlyphs" fill="#1c1c1c">30</text>
<text x="1422" y="2098.55" font-size="27.06" stroke="#1c1c1c" stroke-width="0.5" text-anchor="middle" textLength="29.4" lengthAdjust="spacingAndGlyphs" fill="#1c1c1c">60</text>
<text x="1558.75" y="2098.55" font-size="27.06" stroke="#1c1c1c" stroke-width="0.5" text-anchor="middle" textLength="29.4" lengthAdjust="spacingAndGlyphs" fill="#1c1c1c">90</text>
<text x="1363.75" y="2130" font-size="29.86" font-weight="bold" text-anchor="middle" textLength="200.84" lengthAdjust="spacingAndGlyphs" fill="#1c1c1c">Time (minutes)</text>
<text x="1385" y="1807.75" font-size="34.52" font-weight="bold" text-anchor="start" textLength="175" lengthAdjust="spacingAndGlyphs" fill="#1c1c1c">ITT (17 mo)</text>
<text transform="translate(1077,1929.5) rotate(-90)" x="0" y="0" font-size="32.19" font-weight="bold" text-anchor="middle" textLength="379" lengthAdjust="spacingAndGlyphs" fill="#1c1c1c">Blood glucose (% of basal)</text>
<line x1="1148" y1="1827" x2="1148" y2="1866" stroke="#000" stroke-width="2.2" stroke-linecap="butt"/>
<line x1="1145" y1="1827" x2="1151" y2="1827" stroke="#000" stroke-width="2.2" stroke-linecap="butt"/>
<line x1="1145" y1="1866" x2="1151" y2="1866" stroke="#000" stroke-width="2.2" stroke-linecap="butt"/>
<line x1="1217.5" y1="1789" x2="1217.5" y2="1822" stroke="#000" stroke-width="2.2" stroke-linecap="butt"/>
<line x1="1214.5" y1="1789" x2="1220.5" y2="1789" stroke="#000" stroke-width="2.2" stroke-linecap="butt"/>
<line x1="1214.5" y1="1822" x2="1220.5" y2="1822" stroke="#000" stroke-width="2.2" stroke-linecap="butt"/>
<line x1="1216.25" y1="1824" x2="1216.25" y2="1848.5" stroke="#000" stroke-width="2.2" stroke-linecap="butt"/>
<line x1="1213.25" y1="1824" x2="1219.25" y2="1824" stroke="#000" stroke-width="2.2" stroke-linecap="butt"/>
<line x1="1213.25" y1="1848.5" x2="1219.25" y2="1848.5" stroke="#000" stroke-width="2.2" stroke-linecap="butt"/>
<line x1="1285.5" y1="1874.5" x2="1285.5" y2="1907.75" stroke="#000" stroke-width="2.2" stroke-linecap="butt"/>
<line x1="1282.5" y1="1874.5" x2="1288.5" y2="1874.5" stroke="#000" stroke-width="2.2" stroke-linecap="butt"/>
<line x1="1282.5" y1="1907.75" x2="1288.5" y2="1907.75" stroke="#000" stroke-width="2.2" stroke-linecap="butt"/>
<line x1="1353.75" y1="1886.5" x2="1353.75" y2="1918.5" stroke="#000" stroke-width="2.2" stroke-linecap="butt"/>
<line x1="1350.75" y1="1886.5" x2="1356.75" y2="1886.5" stroke="#000" stroke-width="2.2" stroke-linecap="butt"/>
<line x1="1350.75" y1="1918.5" x2="1356.75" y2="1918.5" stroke="#000" stroke-width="2.2" stroke-linecap="butt"/>
<line x1="1353" y1="1937" x2="1353" y2="1952.75" stroke="#000" stroke-width="2.2" stroke-linecap="butt"/>
<line x1="1350" y1="1937" x2="1356" y2="1937" stroke="#000" stroke-width="2.2" stroke-linecap="butt"/>
<line x1="1350" y1="1952.75" x2="1356" y2="1952.75" stroke="#000" stroke-width="2.2" stroke-linecap="butt"/>
<line x1="1422" y1="1906.5" x2="1422" y2="1928.5" stroke="#000" stroke-width="2.2" stroke-linecap="butt"/>
<line x1="1419" y1="1906.5" x2="1425" y2="1906.5" stroke="#000" stroke-width="2.2" stroke-linecap="butt"/>
<line x1="1419" y1="1928.5" x2="1425" y2="1928.5" stroke="#000" stroke-width="2.2" stroke-linecap="butt"/>
<line x1="1421.25" y1="1953.5" x2="1421.25" y2="1974" stroke="#000" stroke-width="2.2" stroke-linecap="butt"/>
<line x1="1418.25" y1="1953.5" x2="1424.25" y2="1953.5" stroke="#000" stroke-width="2.2" stroke-linecap="butt"/>
<line x1="1418.25" y1="1974" x2="1424.25" y2="1974" stroke="#000" stroke-width="2.2" stroke-linecap="butt"/>
<line x1="1558.75" y1="1916" x2="1558.75" y2="1941.5" stroke="#000" stroke-width="2.2" stroke-linecap="butt"/>
<line x1="1555.75" y1="1916" x2="1561.75" y2="1916" stroke="#000" stroke-width="2.2" stroke-linecap="butt"/>
<line x1="1555.75" y1="1941.5" x2="1561.75" y2="1941.5" stroke="#000" stroke-width="2.2" stroke-linecap="butt"/>
<line x1="1558" y1="1941.5" x2="1558" y2="1969" stroke="#000" stroke-width="2.2" stroke-linecap="butt"/>
<line x1="1555" y1="1941.5" x2="1561" y2="1941.5" stroke="#000" stroke-width="2.2" stroke-linecap="butt"/>
<line x1="1555" y1="1969" x2="1561" y2="1969" stroke="#000" stroke-width="2.2" stroke-linecap="butt"/>
<path d="M1148,1850.25 L1216.25,1824 L1285.5,1888.5 L1353,1937 L1421.25,1964.5 L1558,1956.5" fill="none" stroke="#f26522" stroke-width="4.4" stroke-linecap="butt" stroke-linejoin="round"/>
<path d="M1148,1850.25 L1217.5,1806 L1285.5,1897 L1353.75,1903.5 L1422,1918.5 L1558.75,1928.5" fill="none" stroke="#000" stroke-width="5.2" stroke-linecap="butt" stroke-linejoin="round"/>
<path d="M1148,1842.65 L1154.3,1850.25 L1148,1857.85 L1141.7,1850.25 Z" fill="#404040" stroke="#000" stroke-width="2" stroke-linejoin="miter"/>
<path d="M1217.5,1798.4 L1223.8,1806 L1217.5,1813.6 L1211.2,1806 Z" fill="#404040" stroke="#000" stroke-width="2" stroke-linejoin="miter"/>
<path d="M1285.5,1889.4 L1291.8,1897 L1285.5,1904.6 L1279.2,1897 Z" fill="#404040" stroke="#000" stroke-width="2" stroke-linejoin="miter"/>
<path d="M1353.75,1895.9 L1360.05,1903.5 L1353.75,1911.1 L1347.45,1903.5 Z" fill="#404040" stroke="#000" stroke-width="2" stroke-linejoin="miter"/>
<path d="M1422,1910.9 L1428.3,1918.5 L1422,1926.1 L1415.7,1918.5 Z" fill="#404040" stroke="#000" stroke-width="2" stroke-linejoin="miter"/>
<path d="M1558.75,1920.9 L1565.05,1928.5 L1558.75,1936.1 L1552.45,1928.5 Z" fill="#404040" stroke="#000" stroke-width="2" stroke-linejoin="miter"/>
<ellipse cx="1148" cy="1850.25" rx="6.2" ry="7.1" fill="#f26522" stroke="#000" stroke-width="2.4"/>
<ellipse cx="1216.25" cy="1824" rx="6.2" ry="7.1" fill="#f26522" stroke="#000" stroke-width="2.4"/>
<ellipse cx="1285.5" cy="1888.5" rx="6.2" ry="7.1" fill="#f26522" stroke="#000" stroke-width="2.4"/>
<ellipse cx="1353" cy="1937" rx="6.2" ry="7.1" fill="#f26522" stroke="#000" stroke-width="2.4"/>
<ellipse cx="1421.25" cy="1964.5" rx="6.2" ry="7.1" fill="#f26522" stroke="#000" stroke-width="2.4"/>
<ellipse cx="1558" cy="1956.5" rx="6.2" ry="7.1" fill="#f26522" stroke="#000" stroke-width="2.4"/>
<text x="1422" y="1903.01" font-size="31.72" stroke="#1c1c1c" stroke-width="0.5" text-anchor="middle" textLength="16.93" lengthAdjust="spacingAndGlyphs" fill="#1c1c1c">*</text>
<line x1="1166.25" y1="2006.5" x2="1232.5" y2="2006.5" stroke="#000" stroke-width="5.5" stroke-linecap="round"/>
<path d="M1199.5,1997.5 L1208.5,2006.5 L1199.5,2015.5 L1190.5,2006.5 Z" fill="#404040" stroke="#000" stroke-width="2.2" stroke-linejoin="miter"/>
<text x="1243.75" y="2015.25" font-size="29.2" stroke="#1c1c1c" stroke-width="0.5" text-anchor="start" textLength="93.93" lengthAdjust="spacingAndGlyphs" fill="#1c1c1c">Control</text>
<line x1="1167" y1="2046" x2="1233" y2="2046" stroke="#f26522" stroke-width="5.5" stroke-linecap="round"/>
<circle cx="1201.25" cy="2046" r="8.2" fill="#f26522" stroke="#000" stroke-width="2.3"/>
<text x="1244.5" y="2054" font-size="29.2" stroke="#1c1c1c" stroke-width="0.5" text-anchor="start" textLength="128.93" lengthAdjust="spacingAndGlyphs" fill="#1c1c1c">Low BCAA</text>
<line x1="1662" y1="1779" x2="1662" y2="2066.5" stroke="#000" stroke-width="2.8" stroke-linecap="butt"/>
<line x1="1654" y1="1780.25" x2="1662" y2="1780.25" stroke="#000" stroke-width="2.4" stroke-linecap="butt"/>
<text x="1650" y="1789.55" font-size="27.06" stroke="#1c1c1c" stroke-width="0.5" text-anchor="end" textLength="29.4" lengthAdjust="spacingAndGlyphs" fill="#1c1c1c">10</text>
<line x1="1654" y1="1922.75" x2="1662" y2="1922.75" stroke="#000" stroke-width="2.4" stroke-linecap="butt"/>
<text x="1650" y="1932.05" font-size="27.06" stroke="#1c1c1c" stroke-width="0.5" text-anchor="end" textLength="14.7" lengthAdjust="spacingAndGlyphs" fill="#1c1c1c">5</text>
<line x1="1654" y1="2066.5" x2="1662" y2="2066.5" stroke="#000" stroke-width="2.4" stroke-linecap="butt"/>
<text x="1650" y="2075.8" font-size="27.06" stroke="#1c1c1c" stroke-width="0.5" text-anchor="end" textLength="14.7" lengthAdjust="spacingAndGlyphs" fill="#1c1c1c">0</text>
<line x1="1660.6" y1="2066.5" x2="1765.5" y2="2066.5" stroke="#000" stroke-width="2.8" stroke-linecap="butt"/>
<line x1="1662" y1="2066.5" x2="1662" y2="2073.5" stroke="#000" stroke-width="2.4" stroke-linecap="butt"/>
<line x1="1713" y1="2066.5" x2="1713" y2="2073.5" stroke="#000" stroke-width="2.4" stroke-linecap="butt"/>
<line x1="1765.5" y1="2066.5" x2="1765.5" y2="2073.5" stroke="#000" stroke-width="2.4" stroke-linecap="butt"/>
<rect x="1673.6" y="1858.1" width="31.8" height="208.4" fill="#404040" stroke="#000" stroke-width="3.2"/>
<rect x="1718.6" y="1887.6" width="32.3" height="178.9" fill="#f26522" stroke="#000" stroke-width="3.2"/>
<circle cx="1689" cy="1814" r="1.9" fill="none" stroke="#6e6e6e" stroke-width="1.1" stroke-opacity="0.5"/>
<circle cx="1689" cy="1820" r="1.9" fill="none" stroke="#6e6e6e" stroke-width="1.1" stroke-opacity="0.5"/>
<circle cx="1689" cy="1825.5" r="1.9" fill="none" stroke="#6e6e6e" stroke-width="1.1" stroke-opacity="0.5"/>
<circle cx="1685.5" cy="1835" r="1.9" fill="none" stroke="#6e6e6e" stroke-width="1.1" stroke-opacity="0.5"/>
<circle cx="1692" cy="1837" r="1.9" fill="none" stroke="#6e6e6e" stroke-width="1.1" stroke-opacity="0.5"/>
<circle cx="1689" cy="1879" r="1.9" fill="none" stroke="#6e6e6e" stroke-width="1.1" stroke-opacity="0.5"/>
<circle cx="1689" cy="1914" r="1.9" fill="none" stroke="#6e6e6e" stroke-width="1.1" stroke-opacity="0.5"/>
<circle cx="1734" cy="1826.5" r="1.9" fill="none" stroke="#6e6e6e" stroke-width="1.1" stroke-opacity="0.5"/>
<circle cx="1734" cy="1833" r="1.9" fill="none" stroke="#6e6e6e" stroke-width="1.1" stroke-opacity="0.5"/>
<circle cx="1734" cy="1855" r="1.9" fill="none" stroke="#6e6e6e" stroke-width="1.1" stroke-opacity="0.5"/>
<circle cx="1734" cy="1906.5" r="1.9" fill="none" stroke="#6e6e6e" stroke-width="1.1" stroke-opacity="0.5"/>
<circle cx="1734" cy="1937.75" r="1.9" fill="none" stroke="#6e6e6e" stroke-width="1.1" stroke-opacity="0.5"/>
<line x1="1689.5" y1="1843.5" x2="1689.5" y2="1864" stroke="#000" stroke-width="2.6" stroke-linecap="butt"/>
<line x1="1680.5" y1="1843.5" x2="1698.5" y2="1843.5" stroke="#000" stroke-width="2.6" stroke-linecap="butt"/>
<line x1="1680.5" y1="1864" x2="1698.5" y2="1864" stroke="#000" stroke-width="2.6" stroke-linecap="butt"/>
<line x1="1734.75" y1="1870.25" x2="1734.75" y2="1897.75" stroke="#000" stroke-width="2.6" stroke-linecap="butt"/>
<line x1="1725.75" y1="1870.25" x2="1743.75" y2="1870.25" stroke="#000" stroke-width="2.6" stroke-linecap="butt"/>
<line x1="1725.75" y1="1897.75" x2="1743.75" y2="1897.75" stroke="#000" stroke-width="2.6" stroke-linecap="butt"/>
<text x="1667.5" y="1792.75" font-size="27.06" stroke="#1c1c1c" stroke-width="0.5" text-anchor="start" textLength="95" lengthAdjust="spacingAndGlyphs" fill="#1c1c1c">p=0.095</text>
<line x1="1689.5" y1="1804.5" x2="1733.75" y2="1804.5" stroke="#000" stroke-width="2.6" stroke-linecap="butt"/>
<text transform="translate(1615,1931) rotate(-90)" x="0" y="0" font-size="32.19" font-weight="bold" text-anchor="middle" textLength="154" lengthAdjust="spacingAndGlyphs" fill="#1c1c1c">AUC (x10³)</text>
<text transform="translate(1701,2096) rotate(-45)" x="0" y="0" font-size="29.39" stroke="#1c1c1c" stroke-width="0.5" text-anchor="end" textLength="94.53" lengthAdjust="spacingAndGlyphs" fill="#1c1c1c">Control</text>
<text transform="translate(1750,2097) rotate(-45)" x="0" y="0" font-size="29.39" stroke="#1c1c1c" stroke-width="0.5" text-anchor="end" textLength="129.75" lengthAdjust="spacingAndGlyphs" fill="#1c1c1c">Low BCAA</text>
</svg>
</body></html>
